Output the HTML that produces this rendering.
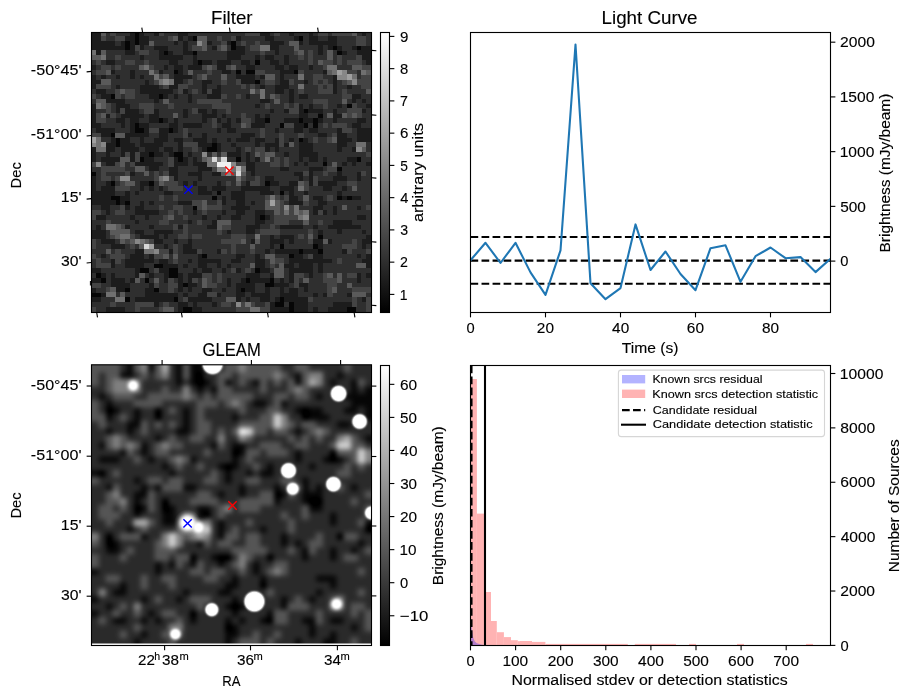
<!DOCTYPE html>
<html><head><meta charset="utf-8"><style>
html,body{margin:0;padding:0;background:#fff;width:913px;height:699px;overflow:hidden}
svg{display:block;will-change:transform}
text{font-family:"Liberation Sans",sans-serif;stroke:#000;stroke-width:0.12px}
</style></head><body>
<svg width="913" height="699" viewBox="0 0 913 699">
<rect width="913" height="699" fill="#fff"/>
<g shape-rendering="crispEdges"><path fill="rgb(6,6,6)" d="M134.57 32.3h5.22v3.8h-5.22zM134.57 35.7h5.22v5.24h-5.22zM192.42 35.7h5.22v5.24h-5.22zM298.48 35.7h5.22v5.24h-5.22zM124.93 40.54h5.22v5.24h-5.22zM134.57 40.54h5.22v5.24h-5.22zM230.99 40.54h5.22v5.24h-5.22zM124.93 45.38h5.22v5.24h-5.22zM230.99 45.38h5.22v5.24h-5.22zM332.23 45.38h5.22v5.24h-5.22zM356.33 45.38h5.22v5.24h-5.22zM163.49 50.22h5.22v5.24h-5.22zM192.42 50.22h5.22v5.24h-5.22zM337.05 50.22h5.22v5.24h-5.22zM197.24 59.9h5.22v5.24h-5.22zM255.09 59.9h5.22v5.24h-5.22zM173.14 69.58h5.22v5.24h-5.22zM235.81 69.58h5.22v5.24h-5.22zM245.45 69.58h5.22v5.24h-5.22zM250.27 69.58h5.22v5.24h-5.22zM293.66 69.58h5.22v5.24h-5.22zM255.09 79.26h5.22v5.24h-5.22zM110.46 93.78h5.22v5.24h-5.22zM158.67 93.78h5.22v5.24h-5.22zM346.69 103.46h5.22v5.24h-5.22zM303.3 108.3h5.22v5.24h-5.22zM317.77 113.14h5.22v5.24h-5.22zM158.67 117.98h5.22v5.24h-5.22zM264.74 117.98h5.22v5.24h-5.22zM298.48 117.98h5.22v5.24h-5.22zM312.94 117.98h5.22v5.24h-5.22zM134.57 122.82h5.22v5.24h-5.22zM279.2 122.82h5.22v5.24h-5.22zM303.3 122.82h5.22v5.24h-5.22zM312.94 122.82h5.22v5.24h-5.22zM134.57 127.66h5.22v5.24h-5.22zM139.39 127.66h5.22v5.24h-5.22zM168.31 127.66h5.22v5.24h-5.22zM110.46 132.5h5.22v5.24h-5.22zM115.28 137.34h5.22v5.24h-5.22zM298.48 137.34h5.22v5.24h-5.22zM115.28 142.18h5.22v5.24h-5.22zM211.7 142.18h5.22v5.24h-5.22zM206.88 147.02h5.22v5.24h-5.22zM211.7 147.02h5.22v5.24h-5.22zM149.03 151.86h5.22v5.24h-5.22zM173.14 151.86h5.22v5.24h-5.22zM177.96 151.86h5.22v5.24h-5.22zM139.39 156.7h5.22v5.24h-5.22zM177.96 156.7h5.22v5.24h-5.22zM235.81 156.7h5.22v5.24h-5.22zM356.33 156.7h5.22v5.24h-5.22zM322.59 161.54h5.22v5.24h-5.22zM337.05 166.38h5.22v5.24h-5.22zM91.3 171.22h5.1v5.24h-5.1zM110.46 180.9h5.22v5.24h-5.22zM149.03 180.9h5.22v5.24h-5.22zM264.74 180.9h5.22v5.24h-5.22zM216.52 190.58h5.22v5.24h-5.22zM279.2 190.58h5.22v5.24h-5.22zM110.46 195.42h5.22v5.24h-5.22zM115.28 195.42h5.22v5.24h-5.22zM211.7 195.42h5.22v5.24h-5.22zM337.05 195.42h5.22v5.24h-5.22zM346.69 195.42h5.22v5.24h-5.22zM115.28 200.26h5.22v5.24h-5.22zM124.93 200.26h5.22v5.24h-5.22zM192.42 205.1h5.22v5.24h-5.22zM259.91 214.78h5.22v5.24h-5.22zM317.77 234.14h5.22v5.24h-5.22zM279.2 243.82h5.22v5.24h-5.22zM312.94 243.82h5.22v5.24h-5.22zM298.48 248.66h5.22v5.24h-5.22zM317.77 248.66h5.22v5.24h-5.22zM202.06 253.5h5.22v5.24h-5.22zM288.84 253.5h5.22v5.24h-5.22zM153.85 263.18h5.22v5.24h-5.22zM158.67 263.18h5.22v5.24h-5.22zM139.39 268.02h5.22v5.24h-5.22zM144.21 268.02h5.22v5.24h-5.22zM168.31 268.02h5.22v5.24h-5.22zM173.14 268.02h5.22v5.24h-5.22zM255.09 268.02h5.22v5.24h-5.22zM96 272.86h5.22v5.24h-5.22zM168.31 272.86h5.22v5.24h-5.22zM173.14 272.86h5.22v5.24h-5.22zM100.82 277.7h5.22v5.24h-5.22zM144.21 277.7h5.22v5.24h-5.22zM245.45 277.7h5.22v5.24h-5.22zM269.56 277.7h5.22v5.24h-5.22zM182.78 282.54h5.22v5.24h-5.22zM264.74 282.54h5.22v5.24h-5.22zM269.56 282.54h5.22v5.24h-5.22zM124.93 287.38h5.22v5.24h-5.22zM153.85 287.38h5.22v5.24h-5.22zM240.63 287.38h5.22v5.24h-5.22zM91.3 292.22h5.1v5.24h-5.1zM96 292.22h5.22v5.24h-5.22zM124.93 297.06h5.22v5.24h-5.22zM173.14 297.06h5.22v5.24h-5.22zM279.2 297.06h5.22v5.24h-5.22zM274.38 301.9h5.22v5.24h-5.22zM279.2 301.9h5.22v5.24h-5.22zM288.84 301.9h5.22v5.24h-5.22zM182.78 306.74h5.22v5.24h-5.22zM187.6 306.74h5.22v5.24h-5.22zM288.84 306.74h5.22v5.24h-5.22zM346.69 306.74h5.22v5.24h-5.22zM351.51 306.74h5.22v5.24h-5.22z"/><path fill="rgb(28,28,28)" d="M91.3 32.3h5.1v3.8h-5.1zM96 32.3h5.22v3.8h-5.22zM129.75 32.3h5.22v3.8h-5.22zM139.39 32.3h5.22v3.8h-5.22zM153.85 32.3h5.22v3.8h-5.22zM177.96 32.3h5.22v3.8h-5.22zM182.78 32.3h5.22v3.8h-5.22zM259.91 32.3h5.22v3.8h-5.22zM264.74 32.3h5.22v3.8h-5.22zM288.84 32.3h5.22v3.8h-5.22zM308.12 32.3h5.22v3.8h-5.22zM361.15 32.3h5.22v3.8h-5.22zM91.3 35.7h5.1v5.24h-5.1zM96 35.7h5.22v5.24h-5.22zM124.93 35.7h5.22v5.24h-5.22zM129.75 35.7h5.22v5.24h-5.22zM139.39 35.7h5.22v5.24h-5.22zM144.21 35.7h5.22v5.24h-5.22zM177.96 35.7h5.22v5.24h-5.22zM187.6 35.7h5.22v5.24h-5.22zM235.81 35.7h5.22v5.24h-5.22zM264.74 35.7h5.22v5.24h-5.22zM269.56 35.7h5.22v5.24h-5.22zM293.66 35.7h5.22v5.24h-5.22zM308.12 35.7h5.22v5.24h-5.22zM312.94 35.7h5.22v5.24h-5.22zM327.41 35.7h5.22v5.24h-5.22zM332.23 35.7h5.22v5.24h-5.22zM91.3 40.54h5.1v5.24h-5.1zM96 40.54h5.22v5.24h-5.22zM100.82 40.54h5.22v5.24h-5.22zM105.64 40.54h5.22v5.24h-5.22zM110.46 40.54h5.22v5.24h-5.22zM120.1 40.54h5.22v5.24h-5.22zM129.75 40.54h5.22v5.24h-5.22zM139.39 40.54h5.22v5.24h-5.22zM144.21 40.54h5.22v5.24h-5.22zM173.14 40.54h5.22v5.24h-5.22zM182.78 40.54h5.22v5.24h-5.22zM206.88 40.54h5.22v5.24h-5.22zM226.17 40.54h5.22v5.24h-5.22zM269.56 40.54h5.22v5.24h-5.22zM274.38 40.54h5.22v5.24h-5.22zM279.2 40.54h5.22v5.24h-5.22zM298.48 40.54h5.22v5.24h-5.22zM308.12 40.54h5.22v5.24h-5.22zM312.94 40.54h5.22v5.24h-5.22zM317.77 40.54h5.22v5.24h-5.22zM322.59 40.54h5.22v5.24h-5.22zM327.41 40.54h5.22v5.24h-5.22zM332.23 40.54h5.22v5.24h-5.22zM91.3 45.38h5.1v5.24h-5.1zM96 45.38h5.22v5.24h-5.22zM100.82 45.38h5.22v5.24h-5.22zM105.64 45.38h5.22v5.24h-5.22zM110.46 45.38h5.22v5.24h-5.22zM115.28 45.38h5.22v5.24h-5.22zM120.1 45.38h5.22v5.24h-5.22zM129.75 45.38h5.22v5.24h-5.22zM139.39 45.38h5.22v5.24h-5.22zM153.85 45.38h5.22v5.24h-5.22zM158.67 45.38h5.22v5.24h-5.22zM163.49 45.38h5.22v5.24h-5.22zM182.78 45.38h5.22v5.24h-5.22zM211.7 45.38h5.22v5.24h-5.22zM235.81 45.38h5.22v5.24h-5.22zM240.63 45.38h5.22v5.24h-5.22zM269.56 45.38h5.22v5.24h-5.22zM274.38 45.38h5.22v5.24h-5.22zM317.77 45.38h5.22v5.24h-5.22zM327.41 45.38h5.22v5.24h-5.22zM337.05 45.38h5.22v5.24h-5.22zM351.51 45.38h5.22v5.24h-5.22zM361.15 45.38h5.22v5.24h-5.22zM365.98 45.38h5.92v5.24h-5.92zM96 50.22h5.22v5.24h-5.22zM124.93 50.22h5.22v5.24h-5.22zM129.75 50.22h5.22v5.24h-5.22zM158.67 50.22h5.22v5.24h-5.22zM168.31 50.22h5.22v5.24h-5.22zM182.78 50.22h5.22v5.24h-5.22zM187.6 50.22h5.22v5.24h-5.22zM226.17 50.22h5.22v5.24h-5.22zM230.99 50.22h5.22v5.24h-5.22zM235.81 50.22h5.22v5.24h-5.22zM240.63 50.22h5.22v5.24h-5.22zM274.38 50.22h5.22v5.24h-5.22zM317.77 50.22h5.22v5.24h-5.22zM341.87 50.22h5.22v5.24h-5.22zM356.33 50.22h5.22v5.24h-5.22zM361.15 50.22h5.22v5.24h-5.22zM365.98 50.22h5.92v5.24h-5.92zM139.39 55.06h5.22v5.24h-5.22zM158.67 55.06h5.22v5.24h-5.22zM163.49 55.06h5.22v5.24h-5.22zM168.31 55.06h5.22v5.24h-5.22zM173.14 55.06h5.22v5.24h-5.22zM177.96 55.06h5.22v5.24h-5.22zM192.42 55.06h5.22v5.24h-5.22zM226.17 55.06h5.22v5.24h-5.22zM230.99 55.06h5.22v5.24h-5.22zM235.81 55.06h5.22v5.24h-5.22zM255.09 55.06h5.22v5.24h-5.22zM264.74 55.06h5.22v5.24h-5.22zM269.56 55.06h5.22v5.24h-5.22zM284.02 55.06h5.22v5.24h-5.22zM361.15 55.06h5.22v5.24h-5.22zM365.98 55.06h5.92v5.24h-5.92zM105.64 59.9h5.22v5.24h-5.22zM110.46 59.9h5.22v5.24h-5.22zM168.31 59.9h5.22v5.24h-5.22zM173.14 59.9h5.22v5.24h-5.22zM192.42 59.9h5.22v5.24h-5.22zM202.06 59.9h5.22v5.24h-5.22zM206.88 59.9h5.22v5.24h-5.22zM216.52 59.9h5.22v5.24h-5.22zM221.35 59.9h5.22v5.24h-5.22zM226.17 59.9h5.22v5.24h-5.22zM240.63 59.9h5.22v5.24h-5.22zM245.45 59.9h5.22v5.24h-5.22zM269.56 59.9h5.22v5.24h-5.22zM274.38 59.9h5.22v5.24h-5.22zM284.02 59.9h5.22v5.24h-5.22zM365.98 59.9h5.92v5.24h-5.92zM91.3 64.74h5.1v5.24h-5.1zM163.49 64.74h5.22v5.24h-5.22zM173.14 64.74h5.22v5.24h-5.22zM177.96 64.74h5.22v5.24h-5.22zM187.6 64.74h5.22v5.24h-5.22zM192.42 64.74h5.22v5.24h-5.22zM197.24 64.74h5.22v5.24h-5.22zM216.52 64.74h5.22v5.24h-5.22zM221.35 64.74h5.22v5.24h-5.22zM245.45 64.74h5.22v5.24h-5.22zM250.27 64.74h5.22v5.24h-5.22zM274.38 64.74h5.22v5.24h-5.22zM279.2 64.74h5.22v5.24h-5.22zM288.84 64.74h5.22v5.24h-5.22zM293.66 64.74h5.22v5.24h-5.22zM308.12 64.74h5.22v5.24h-5.22zM110.46 69.58h5.22v5.24h-5.22zM129.75 69.58h5.22v5.24h-5.22zM158.67 69.58h5.22v5.24h-5.22zM177.96 69.58h5.22v5.24h-5.22zM221.35 69.58h5.22v5.24h-5.22zM226.17 69.58h5.22v5.24h-5.22zM279.2 69.58h5.22v5.24h-5.22zM284.02 69.58h5.22v5.24h-5.22zM288.84 69.58h5.22v5.24h-5.22zM322.59 69.58h5.22v5.24h-5.22zM91.3 74.42h5.1v5.24h-5.1zM100.82 74.42h5.22v5.24h-5.22zM115.28 74.42h5.22v5.24h-5.22zM129.75 74.42h5.22v5.24h-5.22zM139.39 74.42h5.22v5.24h-5.22zM173.14 74.42h5.22v5.24h-5.22zM177.96 74.42h5.22v5.24h-5.22zM182.78 74.42h5.22v5.24h-5.22zM187.6 74.42h5.22v5.24h-5.22zM235.81 74.42h5.22v5.24h-5.22zM240.63 74.42h5.22v5.24h-5.22zM245.45 74.42h5.22v5.24h-5.22zM250.27 74.42h5.22v5.24h-5.22zM259.91 74.42h5.22v5.24h-5.22zM279.2 74.42h5.22v5.24h-5.22zM332.23 74.42h5.22v5.24h-5.22zM91.3 79.26h5.1v5.24h-5.1zM96 79.26h5.22v5.24h-5.22zM144.21 79.26h5.22v5.24h-5.22zM173.14 79.26h5.22v5.24h-5.22zM177.96 79.26h5.22v5.24h-5.22zM202.06 79.26h5.22v5.24h-5.22zM206.88 79.26h5.22v5.24h-5.22zM240.63 79.26h5.22v5.24h-5.22zM245.45 79.26h5.22v5.24h-5.22zM250.27 79.26h5.22v5.24h-5.22zM279.2 79.26h5.22v5.24h-5.22zM284.02 79.26h5.22v5.24h-5.22zM303.3 79.26h5.22v5.24h-5.22zM332.23 79.26h5.22v5.24h-5.22zM91.3 84.1h5.1v5.24h-5.1zM115.28 84.1h5.22v5.24h-5.22zM139.39 84.1h5.22v5.24h-5.22zM144.21 84.1h5.22v5.24h-5.22zM149.03 84.1h5.22v5.24h-5.22zM153.85 84.1h5.22v5.24h-5.22zM168.31 84.1h5.22v5.24h-5.22zM173.14 84.1h5.22v5.24h-5.22zM202.06 84.1h5.22v5.24h-5.22zM216.52 84.1h5.22v5.24h-5.22zM259.91 84.1h5.22v5.24h-5.22zM274.38 84.1h5.22v5.24h-5.22zM279.2 84.1h5.22v5.24h-5.22zM284.02 84.1h5.22v5.24h-5.22zM332.23 84.1h5.22v5.24h-5.22zM346.69 84.1h5.22v5.24h-5.22zM96 88.94h5.22v5.24h-5.22zM100.82 88.94h5.22v5.24h-5.22zM139.39 88.94h5.22v5.24h-5.22zM144.21 88.94h5.22v5.24h-5.22zM149.03 88.94h5.22v5.24h-5.22zM153.85 88.94h5.22v5.24h-5.22zM158.67 88.94h5.22v5.24h-5.22zM163.49 88.94h5.22v5.24h-5.22zM168.31 88.94h5.22v5.24h-5.22zM182.78 88.94h5.22v5.24h-5.22zM202.06 88.94h5.22v5.24h-5.22zM211.7 88.94h5.22v5.24h-5.22zM216.52 88.94h5.22v5.24h-5.22zM274.38 88.94h5.22v5.24h-5.22zM279.2 88.94h5.22v5.24h-5.22zM288.84 88.94h5.22v5.24h-5.22zM332.23 88.94h5.22v5.24h-5.22zM100.82 93.78h5.22v5.24h-5.22zM105.64 93.78h5.22v5.24h-5.22zM149.03 93.78h5.22v5.24h-5.22zM153.85 93.78h5.22v5.24h-5.22zM163.49 93.78h5.22v5.24h-5.22zM173.14 93.78h5.22v5.24h-5.22zM187.6 93.78h5.22v5.24h-5.22zM206.88 93.78h5.22v5.24h-5.22zM211.7 93.78h5.22v5.24h-5.22zM216.52 93.78h5.22v5.24h-5.22zM245.45 93.78h5.22v5.24h-5.22zM288.84 93.78h5.22v5.24h-5.22zM298.48 93.78h5.22v5.24h-5.22zM303.3 93.78h5.22v5.24h-5.22zM351.51 93.78h5.22v5.24h-5.22zM356.33 93.78h5.22v5.24h-5.22zM105.64 98.62h5.22v5.24h-5.22zM110.46 98.62h5.22v5.24h-5.22zM115.28 98.62h5.22v5.24h-5.22zM120.1 98.62h5.22v5.24h-5.22zM153.85 98.62h5.22v5.24h-5.22zM187.6 98.62h5.22v5.24h-5.22zM259.91 98.62h5.22v5.24h-5.22zM264.74 98.62h5.22v5.24h-5.22zM288.84 98.62h5.22v5.24h-5.22zM351.51 98.62h5.22v5.24h-5.22zM361.15 98.62h5.22v5.24h-5.22zM91.3 103.46h5.1v5.24h-5.1zM115.28 103.46h5.22v5.24h-5.22zM120.1 103.46h5.22v5.24h-5.22zM124.93 103.46h5.22v5.24h-5.22zM255.09 103.46h5.22v5.24h-5.22zM298.48 103.46h5.22v5.24h-5.22zM308.12 103.46h5.22v5.24h-5.22zM337.05 103.46h5.22v5.24h-5.22zM365.98 103.46h5.92v5.24h-5.92zM91.3 108.3h5.1v5.24h-5.1zM115.28 108.3h5.22v5.24h-5.22zM124.93 108.3h5.22v5.24h-5.22zM129.75 108.3h5.22v5.24h-5.22zM134.57 108.3h5.22v5.24h-5.22zM153.85 108.3h5.22v5.24h-5.22zM182.78 108.3h5.22v5.24h-5.22zM197.24 108.3h5.22v5.24h-5.22zM202.06 108.3h5.22v5.24h-5.22zM211.7 108.3h5.22v5.24h-5.22zM269.56 108.3h5.22v5.24h-5.22zM284.02 108.3h5.22v5.24h-5.22zM298.48 108.3h5.22v5.24h-5.22zM308.12 108.3h5.22v5.24h-5.22zM312.94 108.3h5.22v5.24h-5.22zM317.77 108.3h5.22v5.24h-5.22zM332.23 108.3h5.22v5.24h-5.22zM361.15 108.3h5.22v5.24h-5.22zM91.3 113.14h5.1v5.24h-5.1zM105.64 113.14h5.22v5.24h-5.22zM120.1 113.14h5.22v5.24h-5.22zM124.93 113.14h5.22v5.24h-5.22zM129.75 113.14h5.22v5.24h-5.22zM134.57 113.14h5.22v5.24h-5.22zM139.39 113.14h5.22v5.24h-5.22zM149.03 113.14h5.22v5.24h-5.22zM153.85 113.14h5.22v5.24h-5.22zM182.78 113.14h5.22v5.24h-5.22zM202.06 113.14h5.22v5.24h-5.22zM206.88 113.14h5.22v5.24h-5.22zM211.7 113.14h5.22v5.24h-5.22zM221.35 113.14h5.22v5.24h-5.22zM255.09 113.14h5.22v5.24h-5.22zM264.74 113.14h5.22v5.24h-5.22zM298.48 113.14h5.22v5.24h-5.22zM303.3 113.14h5.22v5.24h-5.22zM332.23 113.14h5.22v5.24h-5.22zM337.05 113.14h5.22v5.24h-5.22zM91.3 117.98h5.1v5.24h-5.1zM115.28 117.98h5.22v5.24h-5.22zM120.1 117.98h5.22v5.24h-5.22zM129.75 117.98h5.22v5.24h-5.22zM134.57 117.98h5.22v5.24h-5.22zM149.03 117.98h5.22v5.24h-5.22zM153.85 117.98h5.22v5.24h-5.22zM163.49 117.98h5.22v5.24h-5.22zM173.14 117.98h5.22v5.24h-5.22zM202.06 117.98h5.22v5.24h-5.22zM216.52 117.98h5.22v5.24h-5.22zM226.17 117.98h5.22v5.24h-5.22zM235.81 117.98h5.22v5.24h-5.22zM255.09 117.98h5.22v5.24h-5.22zM259.91 117.98h5.22v5.24h-5.22zM284.02 117.98h5.22v5.24h-5.22zM288.84 117.98h5.22v5.24h-5.22zM293.66 117.98h5.22v5.24h-5.22zM303.3 117.98h5.22v5.24h-5.22zM308.12 117.98h5.22v5.24h-5.22zM317.77 117.98h5.22v5.24h-5.22zM332.23 117.98h5.22v5.24h-5.22zM356.33 117.98h5.22v5.24h-5.22zM361.15 117.98h5.22v5.24h-5.22zM91.3 122.82h5.1v5.24h-5.1zM96 122.82h5.22v5.24h-5.22zM120.1 122.82h5.22v5.24h-5.22zM129.75 122.82h5.22v5.24h-5.22zM139.39 122.82h5.22v5.24h-5.22zM144.21 122.82h5.22v5.24h-5.22zM168.31 122.82h5.22v5.24h-5.22zM173.14 122.82h5.22v5.24h-5.22zM182.78 122.82h5.22v5.24h-5.22zM187.6 122.82h5.22v5.24h-5.22zM192.42 122.82h5.22v5.24h-5.22zM197.24 122.82h5.22v5.24h-5.22zM221.35 122.82h5.22v5.24h-5.22zM226.17 122.82h5.22v5.24h-5.22zM250.27 122.82h5.22v5.24h-5.22zM255.09 122.82h5.22v5.24h-5.22zM259.91 122.82h5.22v5.24h-5.22zM293.66 122.82h5.22v5.24h-5.22zM298.48 122.82h5.22v5.24h-5.22zM351.51 122.82h5.22v5.24h-5.22zM356.33 122.82h5.22v5.24h-5.22zM96 127.66h5.22v5.24h-5.22zM100.82 127.66h5.22v5.24h-5.22zM105.64 127.66h5.22v5.24h-5.22zM110.46 127.66h5.22v5.24h-5.22zM129.75 127.66h5.22v5.24h-5.22zM144.21 127.66h5.22v5.24h-5.22zM158.67 127.66h5.22v5.24h-5.22zM163.49 127.66h5.22v5.24h-5.22zM173.14 127.66h5.22v5.24h-5.22zM216.52 127.66h5.22v5.24h-5.22zM226.17 127.66h5.22v5.24h-5.22zM230.99 127.66h5.22v5.24h-5.22zM274.38 127.66h5.22v5.24h-5.22zM293.66 127.66h5.22v5.24h-5.22zM298.48 127.66h5.22v5.24h-5.22zM308.12 127.66h5.22v5.24h-5.22zM312.94 127.66h5.22v5.24h-5.22zM337.05 127.66h5.22v5.24h-5.22zM356.33 127.66h5.22v5.24h-5.22zM361.15 127.66h5.22v5.24h-5.22zM365.98 127.66h5.92v5.24h-5.92zM100.82 132.5h5.22v5.24h-5.22zM105.64 132.5h5.22v5.24h-5.22zM124.93 132.5h5.22v5.24h-5.22zM129.75 132.5h5.22v5.24h-5.22zM134.57 132.5h5.22v5.24h-5.22zM139.39 132.5h5.22v5.24h-5.22zM144.21 132.5h5.22v5.24h-5.22zM158.67 132.5h5.22v5.24h-5.22zM163.49 132.5h5.22v5.24h-5.22zM187.6 132.5h5.22v5.24h-5.22zM202.06 132.5h5.22v5.24h-5.22zM240.63 132.5h5.22v5.24h-5.22zM245.45 132.5h5.22v5.24h-5.22zM250.27 132.5h5.22v5.24h-5.22zM317.77 132.5h5.22v5.24h-5.22zM322.59 132.5h5.22v5.24h-5.22zM337.05 132.5h5.22v5.24h-5.22zM341.87 132.5h5.22v5.24h-5.22zM356.33 132.5h5.22v5.24h-5.22zM361.15 132.5h5.22v5.24h-5.22zM365.98 132.5h5.92v5.24h-5.92zM110.46 137.34h5.22v5.24h-5.22zM120.1 137.34h5.22v5.24h-5.22zM124.93 137.34h5.22v5.24h-5.22zM139.39 137.34h5.22v5.24h-5.22zM153.85 137.34h5.22v5.24h-5.22zM158.67 137.34h5.22v5.24h-5.22zM163.49 137.34h5.22v5.24h-5.22zM173.14 137.34h5.22v5.24h-5.22zM177.96 137.34h5.22v5.24h-5.22zM192.42 137.34h5.22v5.24h-5.22zM197.24 137.34h5.22v5.24h-5.22zM202.06 137.34h5.22v5.24h-5.22zM211.7 137.34h5.22v5.24h-5.22zM226.17 137.34h5.22v5.24h-5.22zM235.81 137.34h5.22v5.24h-5.22zM240.63 137.34h5.22v5.24h-5.22zM245.45 137.34h5.22v5.24h-5.22zM255.09 137.34h5.22v5.24h-5.22zM259.91 137.34h5.22v5.24h-5.22zM274.38 137.34h5.22v5.24h-5.22zM288.84 137.34h5.22v5.24h-5.22zM303.3 137.34h5.22v5.24h-5.22zM337.05 137.34h5.22v5.24h-5.22zM341.87 137.34h5.22v5.24h-5.22zM346.69 137.34h5.22v5.24h-5.22zM356.33 137.34h5.22v5.24h-5.22zM361.15 137.34h5.22v5.24h-5.22zM365.98 137.34h5.92v5.24h-5.92zM105.64 142.18h5.22v5.24h-5.22zM110.46 142.18h5.22v5.24h-5.22zM120.1 142.18h5.22v5.24h-5.22zM124.93 142.18h5.22v5.24h-5.22zM129.75 142.18h5.22v5.24h-5.22zM139.39 142.18h5.22v5.24h-5.22zM144.21 142.18h5.22v5.24h-5.22zM149.03 142.18h5.22v5.24h-5.22zM153.85 142.18h5.22v5.24h-5.22zM158.67 142.18h5.22v5.24h-5.22zM177.96 142.18h5.22v5.24h-5.22zM197.24 142.18h5.22v5.24h-5.22zM202.06 142.18h5.22v5.24h-5.22zM206.88 142.18h5.22v5.24h-5.22zM216.52 142.18h5.22v5.24h-5.22zM230.99 142.18h5.22v5.24h-5.22zM255.09 142.18h5.22v5.24h-5.22zM264.74 142.18h5.22v5.24h-5.22zM269.56 142.18h5.22v5.24h-5.22zM274.38 142.18h5.22v5.24h-5.22zM284.02 142.18h5.22v5.24h-5.22zM298.48 142.18h5.22v5.24h-5.22zM303.3 142.18h5.22v5.24h-5.22zM308.12 142.18h5.22v5.24h-5.22zM337.05 142.18h5.22v5.24h-5.22zM341.87 142.18h5.22v5.24h-5.22zM91.3 147.02h5.1v5.24h-5.1zM105.64 147.02h5.22v5.24h-5.22zM110.46 147.02h5.22v5.24h-5.22zM120.1 147.02h5.22v5.24h-5.22zM124.93 147.02h5.22v5.24h-5.22zM129.75 147.02h5.22v5.24h-5.22zM134.57 147.02h5.22v5.24h-5.22zM144.21 147.02h5.22v5.24h-5.22zM149.03 147.02h5.22v5.24h-5.22zM153.85 147.02h5.22v5.24h-5.22zM163.49 147.02h5.22v5.24h-5.22zM168.31 147.02h5.22v5.24h-5.22zM177.96 147.02h5.22v5.24h-5.22zM202.06 147.02h5.22v5.24h-5.22zM216.52 147.02h5.22v5.24h-5.22zM235.81 147.02h5.22v5.24h-5.22zM264.74 147.02h5.22v5.24h-5.22zM274.38 147.02h5.22v5.24h-5.22zM298.48 147.02h5.22v5.24h-5.22zM303.3 147.02h5.22v5.24h-5.22zM308.12 147.02h5.22v5.24h-5.22zM337.05 147.02h5.22v5.24h-5.22zM351.51 147.02h5.22v5.24h-5.22zM91.3 151.86h5.1v5.24h-5.1zM105.64 151.86h5.22v5.24h-5.22zM120.1 151.86h5.22v5.24h-5.22zM129.75 151.86h5.22v5.24h-5.22zM139.39 151.86h5.22v5.24h-5.22zM144.21 151.86h5.22v5.24h-5.22zM153.85 151.86h5.22v5.24h-5.22zM158.67 151.86h5.22v5.24h-5.22zM168.31 151.86h5.22v5.24h-5.22zM187.6 151.86h5.22v5.24h-5.22zM226.17 151.86h5.22v5.24h-5.22zM230.99 151.86h5.22v5.24h-5.22zM235.81 151.86h5.22v5.24h-5.22zM245.45 151.86h5.22v5.24h-5.22zM284.02 151.86h5.22v5.24h-5.22zM298.48 151.86h5.22v5.24h-5.22zM303.3 151.86h5.22v5.24h-5.22zM308.12 151.86h5.22v5.24h-5.22zM312.94 151.86h5.22v5.24h-5.22zM91.3 156.7h5.1v5.24h-5.1zM100.82 156.7h5.22v5.24h-5.22zM105.64 156.7h5.22v5.24h-5.22zM110.46 156.7h5.22v5.24h-5.22zM115.28 156.7h5.22v5.24h-5.22zM129.75 156.7h5.22v5.24h-5.22zM144.21 156.7h5.22v5.24h-5.22zM149.03 156.7h5.22v5.24h-5.22zM173.14 156.7h5.22v5.24h-5.22zM182.78 156.7h5.22v5.24h-5.22zM192.42 156.7h5.22v5.24h-5.22zM245.45 156.7h5.22v5.24h-5.22zM255.09 156.7h5.22v5.24h-5.22zM298.48 156.7h5.22v5.24h-5.22zM308.12 156.7h5.22v5.24h-5.22zM312.94 156.7h5.22v5.24h-5.22zM322.59 156.7h5.22v5.24h-5.22zM346.69 156.7h5.22v5.24h-5.22zM351.51 156.7h5.22v5.24h-5.22zM105.64 161.54h5.22v5.24h-5.22zM110.46 161.54h5.22v5.24h-5.22zM134.57 161.54h5.22v5.24h-5.22zM139.39 161.54h5.22v5.24h-5.22zM144.21 161.54h5.22v5.24h-5.22zM149.03 161.54h5.22v5.24h-5.22zM153.85 161.54h5.22v5.24h-5.22zM158.67 161.54h5.22v5.24h-5.22zM173.14 161.54h5.22v5.24h-5.22zM177.96 161.54h5.22v5.24h-5.22zM182.78 161.54h5.22v5.24h-5.22zM192.42 161.54h5.22v5.24h-5.22zM197.24 161.54h5.22v5.24h-5.22zM202.06 161.54h5.22v5.24h-5.22zM245.45 161.54h5.22v5.24h-5.22zM250.27 161.54h5.22v5.24h-5.22zM293.66 161.54h5.22v5.24h-5.22zM303.3 161.54h5.22v5.24h-5.22zM341.87 161.54h5.22v5.24h-5.22zM351.51 161.54h5.22v5.24h-5.22zM365.98 161.54h5.92v5.24h-5.92zM149.03 166.38h5.22v5.24h-5.22zM153.85 166.38h5.22v5.24h-5.22zM168.31 166.38h5.22v5.24h-5.22zM173.14 166.38h5.22v5.24h-5.22zM197.24 166.38h5.22v5.24h-5.22zM202.06 166.38h5.22v5.24h-5.22zM206.88 166.38h5.22v5.24h-5.22zM245.45 166.38h5.22v5.24h-5.22zM250.27 166.38h5.22v5.24h-5.22zM279.2 166.38h5.22v5.24h-5.22zM284.02 166.38h5.22v5.24h-5.22zM308.12 166.38h5.22v5.24h-5.22zM312.94 166.38h5.22v5.24h-5.22zM317.77 166.38h5.22v5.24h-5.22zM129.75 171.22h5.22v5.24h-5.22zM168.31 171.22h5.22v5.24h-5.22zM173.14 171.22h5.22v5.24h-5.22zM187.6 171.22h5.22v5.24h-5.22zM192.42 171.22h5.22v5.24h-5.22zM197.24 171.22h5.22v5.24h-5.22zM211.7 171.22h5.22v5.24h-5.22zM216.52 171.22h5.22v5.24h-5.22zM250.27 171.22h5.22v5.24h-5.22zM293.66 171.22h5.22v5.24h-5.22zM298.48 171.22h5.22v5.24h-5.22zM308.12 171.22h5.22v5.24h-5.22zM337.05 171.22h5.22v5.24h-5.22zM356.33 171.22h5.22v5.24h-5.22zM91.3 176.06h5.1v5.24h-5.1zM173.14 176.06h5.22v5.24h-5.22zM197.24 176.06h5.22v5.24h-5.22zM264.74 176.06h5.22v5.24h-5.22zM269.56 176.06h5.22v5.24h-5.22zM298.48 176.06h5.22v5.24h-5.22zM308.12 176.06h5.22v5.24h-5.22zM332.23 176.06h5.22v5.24h-5.22zM337.05 176.06h5.22v5.24h-5.22zM341.87 176.06h5.22v5.24h-5.22zM356.33 176.06h5.22v5.24h-5.22zM91.3 180.9h5.1v5.24h-5.1zM105.64 180.9h5.22v5.24h-5.22zM139.39 180.9h5.22v5.24h-5.22zM144.21 180.9h5.22v5.24h-5.22zM182.78 180.9h5.22v5.24h-5.22zM192.42 180.9h5.22v5.24h-5.22zM216.52 180.9h5.22v5.24h-5.22zM245.45 180.9h5.22v5.24h-5.22zM269.56 180.9h5.22v5.24h-5.22zM274.38 180.9h5.22v5.24h-5.22zM288.84 180.9h5.22v5.24h-5.22zM293.66 180.9h5.22v5.24h-5.22zM308.12 180.9h5.22v5.24h-5.22zM317.77 180.9h5.22v5.24h-5.22zM322.59 180.9h5.22v5.24h-5.22zM327.41 180.9h5.22v5.24h-5.22zM332.23 180.9h5.22v5.24h-5.22zM91.3 185.74h5.1v5.24h-5.1zM100.82 185.74h5.22v5.24h-5.22zM105.64 185.74h5.22v5.24h-5.22zM110.46 185.74h5.22v5.24h-5.22zM139.39 185.74h5.22v5.24h-5.22zM149.03 185.74h5.22v5.24h-5.22zM158.67 185.74h5.22v5.24h-5.22zM197.24 185.74h5.22v5.24h-5.22zM202.06 185.74h5.22v5.24h-5.22zM211.7 185.74h5.22v5.24h-5.22zM216.52 185.74h5.22v5.24h-5.22zM221.35 185.74h5.22v5.24h-5.22zM240.63 185.74h5.22v5.24h-5.22zM245.45 185.74h5.22v5.24h-5.22zM250.27 185.74h5.22v5.24h-5.22zM255.09 185.74h5.22v5.24h-5.22zM259.91 185.74h5.22v5.24h-5.22zM264.74 185.74h5.22v5.24h-5.22zM279.2 185.74h5.22v5.24h-5.22zM284.02 185.74h5.22v5.24h-5.22zM288.84 185.74h5.22v5.24h-5.22zM322.59 185.74h5.22v5.24h-5.22zM327.41 185.74h5.22v5.24h-5.22zM341.87 185.74h5.22v5.24h-5.22zM91.3 190.58h5.1v5.24h-5.1zM96 190.58h5.22v5.24h-5.22zM100.82 190.58h5.22v5.24h-5.22zM105.64 190.58h5.22v5.24h-5.22zM110.46 190.58h5.22v5.24h-5.22zM124.93 190.58h5.22v5.24h-5.22zM134.57 190.58h5.22v5.24h-5.22zM163.49 190.58h5.22v5.24h-5.22zM168.31 190.58h5.22v5.24h-5.22zM197.24 190.58h5.22v5.24h-5.22zM202.06 190.58h5.22v5.24h-5.22zM206.88 190.58h5.22v5.24h-5.22zM230.99 190.58h5.22v5.24h-5.22zM235.81 190.58h5.22v5.24h-5.22zM240.63 190.58h5.22v5.24h-5.22zM259.91 190.58h5.22v5.24h-5.22zM264.74 190.58h5.22v5.24h-5.22zM269.56 190.58h5.22v5.24h-5.22zM288.84 190.58h5.22v5.24h-5.22zM303.3 190.58h5.22v5.24h-5.22zM337.05 190.58h5.22v5.24h-5.22zM91.3 195.42h5.1v5.24h-5.1zM96 195.42h5.22v5.24h-5.22zM100.82 195.42h5.22v5.24h-5.22zM105.64 195.42h5.22v5.24h-5.22zM120.1 195.42h5.22v5.24h-5.22zM124.93 195.42h5.22v5.24h-5.22zM221.35 195.42h5.22v5.24h-5.22zM230.99 195.42h5.22v5.24h-5.22zM235.81 195.42h5.22v5.24h-5.22zM240.63 195.42h5.22v5.24h-5.22zM288.84 195.42h5.22v5.24h-5.22zM293.66 195.42h5.22v5.24h-5.22zM312.94 195.42h5.22v5.24h-5.22zM317.77 195.42h5.22v5.24h-5.22zM341.87 195.42h5.22v5.24h-5.22zM351.51 195.42h5.22v5.24h-5.22zM356.33 195.42h5.22v5.24h-5.22zM91.3 200.26h5.1v5.24h-5.1zM96 200.26h5.22v5.24h-5.22zM100.82 200.26h5.22v5.24h-5.22zM105.64 200.26h5.22v5.24h-5.22zM110.46 200.26h5.22v5.24h-5.22zM120.1 200.26h5.22v5.24h-5.22zM139.39 200.26h5.22v5.24h-5.22zM149.03 200.26h5.22v5.24h-5.22zM177.96 200.26h5.22v5.24h-5.22zM182.78 200.26h5.22v5.24h-5.22zM187.6 200.26h5.22v5.24h-5.22zM221.35 200.26h5.22v5.24h-5.22zM235.81 200.26h5.22v5.24h-5.22zM240.63 200.26h5.22v5.24h-5.22zM250.27 200.26h5.22v5.24h-5.22zM288.84 200.26h5.22v5.24h-5.22zM293.66 200.26h5.22v5.24h-5.22zM298.48 200.26h5.22v5.24h-5.22zM317.77 200.26h5.22v5.24h-5.22zM322.59 200.26h5.22v5.24h-5.22zM100.82 205.1h5.22v5.24h-5.22zM105.64 205.1h5.22v5.24h-5.22zM124.93 205.1h5.22v5.24h-5.22zM134.57 205.1h5.22v5.24h-5.22zM139.39 205.1h5.22v5.24h-5.22zM230.99 205.1h5.22v5.24h-5.22zM235.81 205.1h5.22v5.24h-5.22zM240.63 205.1h5.22v5.24h-5.22zM245.45 205.1h5.22v5.24h-5.22zM312.94 205.1h5.22v5.24h-5.22zM317.77 205.1h5.22v5.24h-5.22zM332.23 205.1h5.22v5.24h-5.22zM356.33 205.1h5.22v5.24h-5.22zM105.64 209.94h5.22v5.24h-5.22zM134.57 209.94h5.22v5.24h-5.22zM139.39 209.94h5.22v5.24h-5.22zM144.21 209.94h5.22v5.24h-5.22zM149.03 209.94h5.22v5.24h-5.22zM153.85 209.94h5.22v5.24h-5.22zM192.42 209.94h5.22v5.24h-5.22zM221.35 209.94h5.22v5.24h-5.22zM235.81 209.94h5.22v5.24h-5.22zM240.63 209.94h5.22v5.24h-5.22zM255.09 209.94h5.22v5.24h-5.22zM259.91 209.94h5.22v5.24h-5.22zM312.94 209.94h5.22v5.24h-5.22zM322.59 209.94h5.22v5.24h-5.22zM332.23 209.94h5.22v5.24h-5.22zM96 214.78h5.22v5.24h-5.22zM100.82 214.78h5.22v5.24h-5.22zM129.75 214.78h5.22v5.24h-5.22zM144.21 214.78h5.22v5.24h-5.22zM202.06 214.78h5.22v5.24h-5.22zM216.52 214.78h5.22v5.24h-5.22zM230.99 214.78h5.22v5.24h-5.22zM235.81 214.78h5.22v5.24h-5.22zM255.09 214.78h5.22v5.24h-5.22zM264.74 214.78h5.22v5.24h-5.22zM356.33 214.78h5.22v5.24h-5.22zM361.15 214.78h5.22v5.24h-5.22zM134.57 219.62h5.22v5.24h-5.22zM187.6 219.62h5.22v5.24h-5.22zM211.7 219.62h5.22v5.24h-5.22zM255.09 219.62h5.22v5.24h-5.22zM259.91 219.62h5.22v5.24h-5.22zM332.23 219.62h5.22v5.24h-5.22zM337.05 219.62h5.22v5.24h-5.22zM341.87 219.62h5.22v5.24h-5.22zM346.69 219.62h5.22v5.24h-5.22zM96 224.46h5.22v5.24h-5.22zM124.93 224.46h5.22v5.24h-5.22zM149.03 224.46h5.22v5.24h-5.22zM177.96 224.46h5.22v5.24h-5.22zM206.88 224.46h5.22v5.24h-5.22zM211.7 224.46h5.22v5.24h-5.22zM245.45 224.46h5.22v5.24h-5.22zM250.27 224.46h5.22v5.24h-5.22zM255.09 224.46h5.22v5.24h-5.22zM279.2 224.46h5.22v5.24h-5.22zM284.02 224.46h5.22v5.24h-5.22zM288.84 224.46h5.22v5.24h-5.22zM293.66 224.46h5.22v5.24h-5.22zM298.48 224.46h5.22v5.24h-5.22zM312.94 224.46h5.22v5.24h-5.22zM327.41 224.46h5.22v5.24h-5.22zM332.23 224.46h5.22v5.24h-5.22zM337.05 224.46h5.22v5.24h-5.22zM341.87 224.46h5.22v5.24h-5.22zM346.69 224.46h5.22v5.24h-5.22zM351.51 224.46h5.22v5.24h-5.22zM356.33 224.46h5.22v5.24h-5.22zM91.3 229.3h5.1v5.24h-5.1zM96 229.3h5.22v5.24h-5.22zM100.82 229.3h5.22v5.24h-5.22zM134.57 229.3h5.22v5.24h-5.22zM139.39 229.3h5.22v5.24h-5.22zM153.85 229.3h5.22v5.24h-5.22zM158.67 229.3h5.22v5.24h-5.22zM163.49 229.3h5.22v5.24h-5.22zM168.31 229.3h5.22v5.24h-5.22zM226.17 229.3h5.22v5.24h-5.22zM245.45 229.3h5.22v5.24h-5.22zM250.27 229.3h5.22v5.24h-5.22zM317.77 229.3h5.22v5.24h-5.22zM337.05 229.3h5.22v5.24h-5.22zM361.15 229.3h5.22v5.24h-5.22zM91.3 234.14h5.1v5.24h-5.1zM96 234.14h5.22v5.24h-5.22zM100.82 234.14h5.22v5.24h-5.22zM139.39 234.14h5.22v5.24h-5.22zM144.21 234.14h5.22v5.24h-5.22zM149.03 234.14h5.22v5.24h-5.22zM153.85 234.14h5.22v5.24h-5.22zM163.49 234.14h5.22v5.24h-5.22zM269.56 234.14h5.22v5.24h-5.22zM279.2 234.14h5.22v5.24h-5.22zM284.02 234.14h5.22v5.24h-5.22zM288.84 234.14h5.22v5.24h-5.22zM365.98 234.14h5.92v5.24h-5.92zM100.82 238.98h5.22v5.24h-5.22zM105.64 238.98h5.22v5.24h-5.22zM110.46 238.98h5.22v5.24h-5.22zM153.85 238.98h5.22v5.24h-5.22zM158.67 238.98h5.22v5.24h-5.22zM173.14 238.98h5.22v5.24h-5.22zM187.6 238.98h5.22v5.24h-5.22zM250.27 238.98h5.22v5.24h-5.22zM269.56 238.98h5.22v5.24h-5.22zM274.38 238.98h5.22v5.24h-5.22zM279.2 238.98h5.22v5.24h-5.22zM288.84 238.98h5.22v5.24h-5.22zM312.94 238.98h5.22v5.24h-5.22zM317.77 238.98h5.22v5.24h-5.22zM327.41 238.98h5.22v5.24h-5.22zM361.15 238.98h5.22v5.24h-5.22zM365.98 238.98h5.92v5.24h-5.92zM110.46 243.82h5.22v5.24h-5.22zM115.28 243.82h5.22v5.24h-5.22zM120.1 243.82h5.22v5.24h-5.22zM163.49 243.82h5.22v5.24h-5.22zM182.78 243.82h5.22v5.24h-5.22zM187.6 243.82h5.22v5.24h-5.22zM269.56 243.82h5.22v5.24h-5.22zM317.77 243.82h5.22v5.24h-5.22zM361.15 243.82h5.22v5.24h-5.22zM134.57 248.66h5.22v5.24h-5.22zM139.39 248.66h5.22v5.24h-5.22zM168.31 248.66h5.22v5.24h-5.22zM182.78 248.66h5.22v5.24h-5.22zM187.6 248.66h5.22v5.24h-5.22zM192.42 248.66h5.22v5.24h-5.22zM216.52 248.66h5.22v5.24h-5.22zM264.74 248.66h5.22v5.24h-5.22zM274.38 248.66h5.22v5.24h-5.22zM279.2 248.66h5.22v5.24h-5.22zM284.02 248.66h5.22v5.24h-5.22zM288.84 248.66h5.22v5.24h-5.22zM293.66 248.66h5.22v5.24h-5.22zM303.3 248.66h5.22v5.24h-5.22zM308.12 248.66h5.22v5.24h-5.22zM312.94 248.66h5.22v5.24h-5.22zM341.87 248.66h5.22v5.24h-5.22zM100.82 253.5h5.22v5.24h-5.22zM129.75 253.5h5.22v5.24h-5.22zM134.57 253.5h5.22v5.24h-5.22zM139.39 253.5h5.22v5.24h-5.22zM149.03 253.5h5.22v5.24h-5.22zM197.24 253.5h5.22v5.24h-5.22zM235.81 253.5h5.22v5.24h-5.22zM240.63 253.5h5.22v5.24h-5.22zM255.09 253.5h5.22v5.24h-5.22zM293.66 253.5h5.22v5.24h-5.22zM298.48 253.5h5.22v5.24h-5.22zM312.94 253.5h5.22v5.24h-5.22zM317.77 253.5h5.22v5.24h-5.22zM356.33 253.5h5.22v5.24h-5.22zM365.98 253.5h5.92v5.24h-5.92zM110.46 258.34h5.22v5.24h-5.22zM124.93 258.34h5.22v5.24h-5.22zM129.75 258.34h5.22v5.24h-5.22zM134.57 258.34h5.22v5.24h-5.22zM139.39 258.34h5.22v5.24h-5.22zM144.21 258.34h5.22v5.24h-5.22zM149.03 258.34h5.22v5.24h-5.22zM158.67 258.34h5.22v5.24h-5.22zM163.49 258.34h5.22v5.24h-5.22zM187.6 258.34h5.22v5.24h-5.22zM197.24 258.34h5.22v5.24h-5.22zM202.06 258.34h5.22v5.24h-5.22zM206.88 258.34h5.22v5.24h-5.22zM211.7 258.34h5.22v5.24h-5.22zM216.52 258.34h5.22v5.24h-5.22zM230.99 258.34h5.22v5.24h-5.22zM235.81 258.34h5.22v5.24h-5.22zM255.09 258.34h5.22v5.24h-5.22zM259.91 258.34h5.22v5.24h-5.22zM288.84 258.34h5.22v5.24h-5.22zM293.66 258.34h5.22v5.24h-5.22zM298.48 258.34h5.22v5.24h-5.22zM303.3 258.34h5.22v5.24h-5.22zM308.12 258.34h5.22v5.24h-5.22zM312.94 258.34h5.22v5.24h-5.22zM317.77 258.34h5.22v5.24h-5.22zM322.59 258.34h5.22v5.24h-5.22zM327.41 258.34h5.22v5.24h-5.22zM361.15 258.34h5.22v5.24h-5.22zM365.98 258.34h5.92v5.24h-5.92zM110.46 263.18h5.22v5.24h-5.22zM124.93 263.18h5.22v5.24h-5.22zM129.75 263.18h5.22v5.24h-5.22zM134.57 263.18h5.22v5.24h-5.22zM139.39 263.18h5.22v5.24h-5.22zM163.49 263.18h5.22v5.24h-5.22zM168.31 263.18h5.22v5.24h-5.22zM173.14 263.18h5.22v5.24h-5.22zM182.78 263.18h5.22v5.24h-5.22zM197.24 263.18h5.22v5.24h-5.22zM202.06 263.18h5.22v5.24h-5.22zM216.52 263.18h5.22v5.24h-5.22zM226.17 263.18h5.22v5.24h-5.22zM255.09 263.18h5.22v5.24h-5.22zM259.91 263.18h5.22v5.24h-5.22zM284.02 263.18h5.22v5.24h-5.22zM288.84 263.18h5.22v5.24h-5.22zM298.48 263.18h5.22v5.24h-5.22zM303.3 263.18h5.22v5.24h-5.22zM308.12 263.18h5.22v5.24h-5.22zM317.77 263.18h5.22v5.24h-5.22zM365.98 263.18h5.92v5.24h-5.92zM91.3 268.02h5.1v5.24h-5.1zM96 268.02h5.22v5.24h-5.22zM134.57 268.02h5.22v5.24h-5.22zM158.67 268.02h5.22v5.24h-5.22zM163.49 268.02h5.22v5.24h-5.22zM192.42 268.02h5.22v5.24h-5.22zM202.06 268.02h5.22v5.24h-5.22zM206.88 268.02h5.22v5.24h-5.22zM221.35 268.02h5.22v5.24h-5.22zM235.81 268.02h5.22v5.24h-5.22zM259.91 268.02h5.22v5.24h-5.22zM264.74 268.02h5.22v5.24h-5.22zM288.84 268.02h5.22v5.24h-5.22zM293.66 268.02h5.22v5.24h-5.22zM298.48 268.02h5.22v5.24h-5.22zM303.3 268.02h5.22v5.24h-5.22zM308.12 268.02h5.22v5.24h-5.22zM317.77 268.02h5.22v5.24h-5.22zM100.82 272.86h5.22v5.24h-5.22zM110.46 272.86h5.22v5.24h-5.22zM134.57 272.86h5.22v5.24h-5.22zM149.03 272.86h5.22v5.24h-5.22zM163.49 272.86h5.22v5.24h-5.22zM177.96 272.86h5.22v5.24h-5.22zM187.6 272.86h5.22v5.24h-5.22zM192.42 272.86h5.22v5.24h-5.22zM197.24 272.86h5.22v5.24h-5.22zM245.45 272.86h5.22v5.24h-5.22zM250.27 272.86h5.22v5.24h-5.22zM255.09 272.86h5.22v5.24h-5.22zM269.56 272.86h5.22v5.24h-5.22zM288.84 272.86h5.22v5.24h-5.22zM308.12 272.86h5.22v5.24h-5.22zM356.33 272.86h5.22v5.24h-5.22zM365.98 272.86h5.92v5.24h-5.92zM91.3 277.7h5.1v5.24h-5.1zM96 277.7h5.22v5.24h-5.22zM110.46 277.7h5.22v5.24h-5.22zM115.28 277.7h5.22v5.24h-5.22zM120.1 277.7h5.22v5.24h-5.22zM129.75 277.7h5.22v5.24h-5.22zM163.49 277.7h5.22v5.24h-5.22zM177.96 277.7h5.22v5.24h-5.22zM187.6 277.7h5.22v5.24h-5.22zM226.17 277.7h5.22v5.24h-5.22zM240.63 277.7h5.22v5.24h-5.22zM250.27 277.7h5.22v5.24h-5.22zM255.09 277.7h5.22v5.24h-5.22zM259.91 277.7h5.22v5.24h-5.22zM264.74 277.7h5.22v5.24h-5.22zM279.2 277.7h5.22v5.24h-5.22zM288.84 277.7h5.22v5.24h-5.22zM356.33 277.7h5.22v5.24h-5.22zM110.46 282.54h5.22v5.24h-5.22zM115.28 282.54h5.22v5.24h-5.22zM120.1 282.54h5.22v5.24h-5.22zM124.93 282.54h5.22v5.24h-5.22zM149.03 282.54h5.22v5.24h-5.22zM177.96 282.54h5.22v5.24h-5.22zM187.6 282.54h5.22v5.24h-5.22zM192.42 282.54h5.22v5.24h-5.22zM226.17 282.54h5.22v5.24h-5.22zM235.81 282.54h5.22v5.24h-5.22zM240.63 282.54h5.22v5.24h-5.22zM245.45 282.54h5.22v5.24h-5.22zM250.27 282.54h5.22v5.24h-5.22zM274.38 282.54h5.22v5.24h-5.22zM279.2 282.54h5.22v5.24h-5.22zM284.02 282.54h5.22v5.24h-5.22zM298.48 282.54h5.22v5.24h-5.22zM303.3 282.54h5.22v5.24h-5.22zM91.3 287.38h5.1v5.24h-5.1zM115.28 287.38h5.22v5.24h-5.22zM120.1 287.38h5.22v5.24h-5.22zM144.21 287.38h5.22v5.24h-5.22zM149.03 287.38h5.22v5.24h-5.22zM177.96 287.38h5.22v5.24h-5.22zM187.6 287.38h5.22v5.24h-5.22zM202.06 287.38h5.22v5.24h-5.22zM206.88 287.38h5.22v5.24h-5.22zM221.35 287.38h5.22v5.24h-5.22zM235.81 287.38h5.22v5.24h-5.22zM245.45 287.38h5.22v5.24h-5.22zM250.27 287.38h5.22v5.24h-5.22zM264.74 287.38h5.22v5.24h-5.22zM279.2 287.38h5.22v5.24h-5.22zM288.84 287.38h5.22v5.24h-5.22zM293.66 287.38h5.22v5.24h-5.22zM303.3 287.38h5.22v5.24h-5.22zM100.82 292.22h5.22v5.24h-5.22zM144.21 292.22h5.22v5.24h-5.22zM149.03 292.22h5.22v5.24h-5.22zM153.85 292.22h5.22v5.24h-5.22zM158.67 292.22h5.22v5.24h-5.22zM163.49 292.22h5.22v5.24h-5.22zM168.31 292.22h5.22v5.24h-5.22zM173.14 292.22h5.22v5.24h-5.22zM182.78 292.22h5.22v5.24h-5.22zM197.24 292.22h5.22v5.24h-5.22zM202.06 292.22h5.22v5.24h-5.22zM216.52 292.22h5.22v5.24h-5.22zM235.81 292.22h5.22v5.24h-5.22zM240.63 292.22h5.22v5.24h-5.22zM250.27 292.22h5.22v5.24h-5.22zM255.09 292.22h5.22v5.24h-5.22zM259.91 292.22h5.22v5.24h-5.22zM264.74 292.22h5.22v5.24h-5.22zM279.2 292.22h5.22v5.24h-5.22zM284.02 292.22h5.22v5.24h-5.22zM288.84 292.22h5.22v5.24h-5.22zM293.66 292.22h5.22v5.24h-5.22zM312.94 292.22h5.22v5.24h-5.22zM322.59 292.22h5.22v5.24h-5.22zM346.69 292.22h5.22v5.24h-5.22zM91.3 297.06h5.1v5.24h-5.1zM96 297.06h5.22v5.24h-5.22zM134.57 297.06h5.22v5.24h-5.22zM139.39 297.06h5.22v5.24h-5.22zM144.21 297.06h5.22v5.24h-5.22zM149.03 297.06h5.22v5.24h-5.22zM153.85 297.06h5.22v5.24h-5.22zM158.67 297.06h5.22v5.24h-5.22zM163.49 297.06h5.22v5.24h-5.22zM168.31 297.06h5.22v5.24h-5.22zM187.6 297.06h5.22v5.24h-5.22zM192.42 297.06h5.22v5.24h-5.22zM197.24 297.06h5.22v5.24h-5.22zM202.06 297.06h5.22v5.24h-5.22zM206.88 297.06h5.22v5.24h-5.22zM235.81 297.06h5.22v5.24h-5.22zM245.45 297.06h5.22v5.24h-5.22zM259.91 297.06h5.22v5.24h-5.22zM264.74 297.06h5.22v5.24h-5.22zM274.38 297.06h5.22v5.24h-5.22zM284.02 297.06h5.22v5.24h-5.22zM288.84 297.06h5.22v5.24h-5.22zM293.66 297.06h5.22v5.24h-5.22zM298.48 297.06h5.22v5.24h-5.22zM303.3 297.06h5.22v5.24h-5.22zM361.15 297.06h5.22v5.24h-5.22zM153.85 301.9h5.22v5.24h-5.22zM177.96 301.9h5.22v5.24h-5.22zM182.78 301.9h5.22v5.24h-5.22zM192.42 301.9h5.22v5.24h-5.22zM211.7 301.9h5.22v5.24h-5.22zM269.56 301.9h5.22v5.24h-5.22zM293.66 301.9h5.22v5.24h-5.22zM298.48 301.9h5.22v5.24h-5.22zM303.3 301.9h5.22v5.24h-5.22zM332.23 301.9h5.22v5.24h-5.22zM337.05 301.9h5.22v5.24h-5.22zM341.87 301.9h5.22v5.24h-5.22zM346.69 301.9h5.22v5.24h-5.22zM105.64 306.74h5.22v5.24h-5.22zM110.46 306.74h5.22v5.24h-5.22zM115.28 306.74h5.22v5.24h-5.22zM120.1 306.74h5.22v5.24h-5.22zM177.96 306.74h5.22v5.24h-5.22zM192.42 306.74h5.22v5.24h-5.22zM197.24 306.74h5.22v5.24h-5.22zM269.56 306.74h5.22v5.24h-5.22zM274.38 306.74h5.22v5.24h-5.22zM279.2 306.74h5.22v5.24h-5.22zM284.02 306.74h5.22v5.24h-5.22zM293.66 306.74h5.22v5.24h-5.22zM298.48 306.74h5.22v5.24h-5.22zM303.3 306.74h5.22v5.24h-5.22zM312.94 306.74h5.22v5.24h-5.22zM327.41 306.74h5.22v5.24h-5.22zM332.23 306.74h5.22v5.24h-5.22zM337.05 306.74h5.22v5.24h-5.22zM341.87 306.74h5.22v5.24h-5.22z"/><path fill="rgb(47,47,47)" d="M105.64 32.3h5.22v3.8h-5.22zM115.28 32.3h5.22v3.8h-5.22zM120.1 32.3h5.22v3.8h-5.22zM124.93 32.3h5.22v3.8h-5.22zM144.21 32.3h5.22v3.8h-5.22zM149.03 32.3h5.22v3.8h-5.22zM163.49 32.3h5.22v3.8h-5.22zM168.31 32.3h5.22v3.8h-5.22zM173.14 32.3h5.22v3.8h-5.22zM187.6 32.3h5.22v3.8h-5.22zM192.42 32.3h5.22v3.8h-5.22zM197.24 32.3h5.22v3.8h-5.22zM202.06 32.3h5.22v3.8h-5.22zM206.88 32.3h5.22v3.8h-5.22zM211.7 32.3h5.22v3.8h-5.22zM216.52 32.3h5.22v3.8h-5.22zM221.35 32.3h5.22v3.8h-5.22zM226.17 32.3h5.22v3.8h-5.22zM230.99 32.3h5.22v3.8h-5.22zM235.81 32.3h5.22v3.8h-5.22zM240.63 32.3h5.22v3.8h-5.22zM269.56 32.3h5.22v3.8h-5.22zM279.2 32.3h5.22v3.8h-5.22zM284.02 32.3h5.22v3.8h-5.22zM293.66 32.3h5.22v3.8h-5.22zM298.48 32.3h5.22v3.8h-5.22zM303.3 32.3h5.22v3.8h-5.22zM312.94 32.3h5.22v3.8h-5.22zM327.41 32.3h5.22v3.8h-5.22zM356.33 32.3h5.22v3.8h-5.22zM365.98 32.3h5.92v3.8h-5.92zM105.64 35.7h5.22v5.24h-5.22zM110.46 35.7h5.22v5.24h-5.22zM149.03 35.7h5.22v5.24h-5.22zM153.85 35.7h5.22v5.24h-5.22zM158.67 35.7h5.22v5.24h-5.22zM163.49 35.7h5.22v5.24h-5.22zM182.78 35.7h5.22v5.24h-5.22zM206.88 35.7h5.22v5.24h-5.22zM211.7 35.7h5.22v5.24h-5.22zM221.35 35.7h5.22v5.24h-5.22zM226.17 35.7h5.22v5.24h-5.22zM240.63 35.7h5.22v5.24h-5.22zM245.45 35.7h5.22v5.24h-5.22zM250.27 35.7h5.22v5.24h-5.22zM255.09 35.7h5.22v5.24h-5.22zM259.91 35.7h5.22v5.24h-5.22zM274.38 35.7h5.22v5.24h-5.22zM279.2 35.7h5.22v5.24h-5.22zM284.02 35.7h5.22v5.24h-5.22zM288.84 35.7h5.22v5.24h-5.22zM303.3 35.7h5.22v5.24h-5.22zM317.77 35.7h5.22v5.24h-5.22zM322.59 35.7h5.22v5.24h-5.22zM337.05 35.7h5.22v5.24h-5.22zM341.87 35.7h5.22v5.24h-5.22zM346.69 35.7h5.22v5.24h-5.22zM351.51 35.7h5.22v5.24h-5.22zM365.98 35.7h5.92v5.24h-5.92zM115.28 40.54h5.22v5.24h-5.22zM153.85 40.54h5.22v5.24h-5.22zM158.67 40.54h5.22v5.24h-5.22zM163.49 40.54h5.22v5.24h-5.22zM168.31 40.54h5.22v5.24h-5.22zM177.96 40.54h5.22v5.24h-5.22zM187.6 40.54h5.22v5.24h-5.22zM192.42 40.54h5.22v5.24h-5.22zM211.7 40.54h5.22v5.24h-5.22zM216.52 40.54h5.22v5.24h-5.22zM235.81 40.54h5.22v5.24h-5.22zM245.45 40.54h5.22v5.24h-5.22zM250.27 40.54h5.22v5.24h-5.22zM259.91 40.54h5.22v5.24h-5.22zM264.74 40.54h5.22v5.24h-5.22zM284.02 40.54h5.22v5.24h-5.22zM303.3 40.54h5.22v5.24h-5.22zM337.05 40.54h5.22v5.24h-5.22zM341.87 40.54h5.22v5.24h-5.22zM346.69 40.54h5.22v5.24h-5.22zM351.51 40.54h5.22v5.24h-5.22zM365.98 40.54h5.92v5.24h-5.92zM144.21 45.38h5.22v5.24h-5.22zM149.03 45.38h5.22v5.24h-5.22zM168.31 45.38h5.22v5.24h-5.22zM173.14 45.38h5.22v5.24h-5.22zM177.96 45.38h5.22v5.24h-5.22zM187.6 45.38h5.22v5.24h-5.22zM206.88 45.38h5.22v5.24h-5.22zM226.17 45.38h5.22v5.24h-5.22zM245.45 45.38h5.22v5.24h-5.22zM279.2 45.38h5.22v5.24h-5.22zM284.02 45.38h5.22v5.24h-5.22zM288.84 45.38h5.22v5.24h-5.22zM298.48 45.38h5.22v5.24h-5.22zM303.3 45.38h5.22v5.24h-5.22zM308.12 45.38h5.22v5.24h-5.22zM312.94 45.38h5.22v5.24h-5.22zM322.59 45.38h5.22v5.24h-5.22zM341.87 45.38h5.22v5.24h-5.22zM346.69 45.38h5.22v5.24h-5.22zM105.64 50.22h5.22v5.24h-5.22zM110.46 50.22h5.22v5.24h-5.22zM115.28 50.22h5.22v5.24h-5.22zM120.1 50.22h5.22v5.24h-5.22zM134.57 50.22h5.22v5.24h-5.22zM149.03 50.22h5.22v5.24h-5.22zM153.85 50.22h5.22v5.24h-5.22zM173.14 50.22h5.22v5.24h-5.22zM177.96 50.22h5.22v5.24h-5.22zM197.24 50.22h5.22v5.24h-5.22zM202.06 50.22h5.22v5.24h-5.22zM206.88 50.22h5.22v5.24h-5.22zM211.7 50.22h5.22v5.24h-5.22zM216.52 50.22h5.22v5.24h-5.22zM221.35 50.22h5.22v5.24h-5.22zM245.45 50.22h5.22v5.24h-5.22zM250.27 50.22h5.22v5.24h-5.22zM255.09 50.22h5.22v5.24h-5.22zM264.74 50.22h5.22v5.24h-5.22zM269.56 50.22h5.22v5.24h-5.22zM279.2 50.22h5.22v5.24h-5.22zM284.02 50.22h5.22v5.24h-5.22zM288.84 50.22h5.22v5.24h-5.22zM303.3 50.22h5.22v5.24h-5.22zM312.94 50.22h5.22v5.24h-5.22zM322.59 50.22h5.22v5.24h-5.22zM332.23 50.22h5.22v5.24h-5.22zM346.69 50.22h5.22v5.24h-5.22zM351.51 50.22h5.22v5.24h-5.22zM105.64 55.06h5.22v5.24h-5.22zM110.46 55.06h5.22v5.24h-5.22zM120.1 55.06h5.22v5.24h-5.22zM124.93 55.06h5.22v5.24h-5.22zM129.75 55.06h5.22v5.24h-5.22zM134.57 55.06h5.22v5.24h-5.22zM144.21 55.06h5.22v5.24h-5.22zM149.03 55.06h5.22v5.24h-5.22zM153.85 55.06h5.22v5.24h-5.22zM182.78 55.06h5.22v5.24h-5.22zM187.6 55.06h5.22v5.24h-5.22zM197.24 55.06h5.22v5.24h-5.22zM202.06 55.06h5.22v5.24h-5.22zM206.88 55.06h5.22v5.24h-5.22zM211.7 55.06h5.22v5.24h-5.22zM216.52 55.06h5.22v5.24h-5.22zM221.35 55.06h5.22v5.24h-5.22zM240.63 55.06h5.22v5.24h-5.22zM245.45 55.06h5.22v5.24h-5.22zM250.27 55.06h5.22v5.24h-5.22zM259.91 55.06h5.22v5.24h-5.22zM274.38 55.06h5.22v5.24h-5.22zM279.2 55.06h5.22v5.24h-5.22zM288.84 55.06h5.22v5.24h-5.22zM293.66 55.06h5.22v5.24h-5.22zM303.3 55.06h5.22v5.24h-5.22zM312.94 55.06h5.22v5.24h-5.22zM317.77 55.06h5.22v5.24h-5.22zM322.59 55.06h5.22v5.24h-5.22zM332.23 55.06h5.22v5.24h-5.22zM341.87 55.06h5.22v5.24h-5.22zM346.69 55.06h5.22v5.24h-5.22zM351.51 55.06h5.22v5.24h-5.22zM91.3 59.9h5.1v5.24h-5.1zM100.82 59.9h5.22v5.24h-5.22zM115.28 59.9h5.22v5.24h-5.22zM120.1 59.9h5.22v5.24h-5.22zM134.57 59.9h5.22v5.24h-5.22zM139.39 59.9h5.22v5.24h-5.22zM149.03 59.9h5.22v5.24h-5.22zM153.85 59.9h5.22v5.24h-5.22zM158.67 59.9h5.22v5.24h-5.22zM163.49 59.9h5.22v5.24h-5.22zM177.96 59.9h5.22v5.24h-5.22zM182.78 59.9h5.22v5.24h-5.22zM187.6 59.9h5.22v5.24h-5.22zM211.7 59.9h5.22v5.24h-5.22zM230.99 59.9h5.22v5.24h-5.22zM235.81 59.9h5.22v5.24h-5.22zM250.27 59.9h5.22v5.24h-5.22zM259.91 59.9h5.22v5.24h-5.22zM264.74 59.9h5.22v5.24h-5.22zM279.2 59.9h5.22v5.24h-5.22zM288.84 59.9h5.22v5.24h-5.22zM293.66 59.9h5.22v5.24h-5.22zM298.48 59.9h5.22v5.24h-5.22zM303.3 59.9h5.22v5.24h-5.22zM312.94 59.9h5.22v5.24h-5.22zM332.23 59.9h5.22v5.24h-5.22zM341.87 59.9h5.22v5.24h-5.22zM361.15 59.9h5.22v5.24h-5.22zM96 64.74h5.22v5.24h-5.22zM110.46 64.74h5.22v5.24h-5.22zM120.1 64.74h5.22v5.24h-5.22zM124.93 64.74h5.22v5.24h-5.22zM129.75 64.74h5.22v5.24h-5.22zM134.57 64.74h5.22v5.24h-5.22zM153.85 64.74h5.22v5.24h-5.22zM158.67 64.74h5.22v5.24h-5.22zM168.31 64.74h5.22v5.24h-5.22zM182.78 64.74h5.22v5.24h-5.22zM235.81 64.74h5.22v5.24h-5.22zM240.63 64.74h5.22v5.24h-5.22zM255.09 64.74h5.22v5.24h-5.22zM259.91 64.74h5.22v5.24h-5.22zM264.74 64.74h5.22v5.24h-5.22zM269.56 64.74h5.22v5.24h-5.22zM284.02 64.74h5.22v5.24h-5.22zM298.48 64.74h5.22v5.24h-5.22zM303.3 64.74h5.22v5.24h-5.22zM312.94 64.74h5.22v5.24h-5.22zM317.77 64.74h5.22v5.24h-5.22zM337.05 64.74h5.22v5.24h-5.22zM341.87 64.74h5.22v5.24h-5.22zM346.69 64.74h5.22v5.24h-5.22zM91.3 69.58h5.1v5.24h-5.1zM115.28 69.58h5.22v5.24h-5.22zM120.1 69.58h5.22v5.24h-5.22zM124.93 69.58h5.22v5.24h-5.22zM134.57 69.58h5.22v5.24h-5.22zM139.39 69.58h5.22v5.24h-5.22zM144.21 69.58h5.22v5.24h-5.22zM163.49 69.58h5.22v5.24h-5.22zM168.31 69.58h5.22v5.24h-5.22zM182.78 69.58h5.22v5.24h-5.22zM192.42 69.58h5.22v5.24h-5.22zM197.24 69.58h5.22v5.24h-5.22zM202.06 69.58h5.22v5.24h-5.22zM211.7 69.58h5.22v5.24h-5.22zM216.52 69.58h5.22v5.24h-5.22zM230.99 69.58h5.22v5.24h-5.22zM240.63 69.58h5.22v5.24h-5.22zM264.74 69.58h5.22v5.24h-5.22zM269.56 69.58h5.22v5.24h-5.22zM274.38 69.58h5.22v5.24h-5.22zM303.3 69.58h5.22v5.24h-5.22zM308.12 69.58h5.22v5.24h-5.22zM312.94 69.58h5.22v5.24h-5.22zM317.77 69.58h5.22v5.24h-5.22zM356.33 69.58h5.22v5.24h-5.22zM96 74.42h5.22v5.24h-5.22zM105.64 74.42h5.22v5.24h-5.22zM110.46 74.42h5.22v5.24h-5.22zM120.1 74.42h5.22v5.24h-5.22zM124.93 74.42h5.22v5.24h-5.22zM134.57 74.42h5.22v5.24h-5.22zM144.21 74.42h5.22v5.24h-5.22zM149.03 74.42h5.22v5.24h-5.22zM168.31 74.42h5.22v5.24h-5.22zM192.42 74.42h5.22v5.24h-5.22zM206.88 74.42h5.22v5.24h-5.22zM211.7 74.42h5.22v5.24h-5.22zM216.52 74.42h5.22v5.24h-5.22zM226.17 74.42h5.22v5.24h-5.22zM230.99 74.42h5.22v5.24h-5.22zM255.09 74.42h5.22v5.24h-5.22zM274.38 74.42h5.22v5.24h-5.22zM284.02 74.42h5.22v5.24h-5.22zM288.84 74.42h5.22v5.24h-5.22zM293.66 74.42h5.22v5.24h-5.22zM303.3 74.42h5.22v5.24h-5.22zM308.12 74.42h5.22v5.24h-5.22zM322.59 74.42h5.22v5.24h-5.22zM327.41 74.42h5.22v5.24h-5.22zM356.33 74.42h5.22v5.24h-5.22zM110.46 79.26h5.22v5.24h-5.22zM115.28 79.26h5.22v5.24h-5.22zM120.1 79.26h5.22v5.24h-5.22zM124.93 79.26h5.22v5.24h-5.22zM129.75 79.26h5.22v5.24h-5.22zM134.57 79.26h5.22v5.24h-5.22zM139.39 79.26h5.22v5.24h-5.22zM149.03 79.26h5.22v5.24h-5.22zM182.78 79.26h5.22v5.24h-5.22zM192.42 79.26h5.22v5.24h-5.22zM197.24 79.26h5.22v5.24h-5.22zM211.7 79.26h5.22v5.24h-5.22zM216.52 79.26h5.22v5.24h-5.22zM226.17 79.26h5.22v5.24h-5.22zM230.99 79.26h5.22v5.24h-5.22zM259.91 79.26h5.22v5.24h-5.22zM274.38 79.26h5.22v5.24h-5.22zM293.66 79.26h5.22v5.24h-5.22zM298.48 79.26h5.22v5.24h-5.22zM308.12 79.26h5.22v5.24h-5.22zM317.77 79.26h5.22v5.24h-5.22zM327.41 79.26h5.22v5.24h-5.22zM337.05 79.26h5.22v5.24h-5.22zM110.46 84.1h5.22v5.24h-5.22zM120.1 84.1h5.22v5.24h-5.22zM124.93 84.1h5.22v5.24h-5.22zM129.75 84.1h5.22v5.24h-5.22zM134.57 84.1h5.22v5.24h-5.22zM158.67 84.1h5.22v5.24h-5.22zM187.6 84.1h5.22v5.24h-5.22zM192.42 84.1h5.22v5.24h-5.22zM197.24 84.1h5.22v5.24h-5.22zM206.88 84.1h5.22v5.24h-5.22zM211.7 84.1h5.22v5.24h-5.22zM221.35 84.1h5.22v5.24h-5.22zM226.17 84.1h5.22v5.24h-5.22zM230.99 84.1h5.22v5.24h-5.22zM235.81 84.1h5.22v5.24h-5.22zM245.45 84.1h5.22v5.24h-5.22zM255.09 84.1h5.22v5.24h-5.22zM264.74 84.1h5.22v5.24h-5.22zM269.56 84.1h5.22v5.24h-5.22zM288.84 84.1h5.22v5.24h-5.22zM293.66 84.1h5.22v5.24h-5.22zM303.3 84.1h5.22v5.24h-5.22zM308.12 84.1h5.22v5.24h-5.22zM312.94 84.1h5.22v5.24h-5.22zM322.59 84.1h5.22v5.24h-5.22zM337.05 84.1h5.22v5.24h-5.22zM341.87 84.1h5.22v5.24h-5.22zM351.51 84.1h5.22v5.24h-5.22zM356.33 84.1h5.22v5.24h-5.22zM91.3 88.94h5.1v5.24h-5.1zM105.64 88.94h5.22v5.24h-5.22zM110.46 88.94h5.22v5.24h-5.22zM134.57 88.94h5.22v5.24h-5.22zM173.14 88.94h5.22v5.24h-5.22zM187.6 88.94h5.22v5.24h-5.22zM197.24 88.94h5.22v5.24h-5.22zM221.35 88.94h5.22v5.24h-5.22zM226.17 88.94h5.22v5.24h-5.22zM230.99 88.94h5.22v5.24h-5.22zM235.81 88.94h5.22v5.24h-5.22zM240.63 88.94h5.22v5.24h-5.22zM245.45 88.94h5.22v5.24h-5.22zM264.74 88.94h5.22v5.24h-5.22zM269.56 88.94h5.22v5.24h-5.22zM284.02 88.94h5.22v5.24h-5.22zM293.66 88.94h5.22v5.24h-5.22zM303.3 88.94h5.22v5.24h-5.22zM308.12 88.94h5.22v5.24h-5.22zM312.94 88.94h5.22v5.24h-5.22zM337.05 88.94h5.22v5.24h-5.22zM346.69 88.94h5.22v5.24h-5.22zM351.51 88.94h5.22v5.24h-5.22zM356.33 88.94h5.22v5.24h-5.22zM361.15 88.94h5.22v5.24h-5.22zM96 93.78h5.22v5.24h-5.22zM120.1 93.78h5.22v5.24h-5.22zM134.57 93.78h5.22v5.24h-5.22zM139.39 93.78h5.22v5.24h-5.22zM144.21 93.78h5.22v5.24h-5.22zM168.31 93.78h5.22v5.24h-5.22zM177.96 93.78h5.22v5.24h-5.22zM182.78 93.78h5.22v5.24h-5.22zM192.42 93.78h5.22v5.24h-5.22zM197.24 93.78h5.22v5.24h-5.22zM202.06 93.78h5.22v5.24h-5.22zM226.17 93.78h5.22v5.24h-5.22zM230.99 93.78h5.22v5.24h-5.22zM240.63 93.78h5.22v5.24h-5.22zM250.27 93.78h5.22v5.24h-5.22zM255.09 93.78h5.22v5.24h-5.22zM264.74 93.78h5.22v5.24h-5.22zM279.2 93.78h5.22v5.24h-5.22zM284.02 93.78h5.22v5.24h-5.22zM293.66 93.78h5.22v5.24h-5.22zM308.12 93.78h5.22v5.24h-5.22zM312.94 93.78h5.22v5.24h-5.22zM317.77 93.78h5.22v5.24h-5.22zM322.59 93.78h5.22v5.24h-5.22zM327.41 93.78h5.22v5.24h-5.22zM332.23 93.78h5.22v5.24h-5.22zM337.05 93.78h5.22v5.24h-5.22zM361.15 93.78h5.22v5.24h-5.22zM365.98 93.78h5.92v5.24h-5.92zM91.3 98.62h5.1v5.24h-5.1zM124.93 98.62h5.22v5.24h-5.22zM129.75 98.62h5.22v5.24h-5.22zM134.57 98.62h5.22v5.24h-5.22zM139.39 98.62h5.22v5.24h-5.22zM144.21 98.62h5.22v5.24h-5.22zM149.03 98.62h5.22v5.24h-5.22zM158.67 98.62h5.22v5.24h-5.22zM168.31 98.62h5.22v5.24h-5.22zM173.14 98.62h5.22v5.24h-5.22zM177.96 98.62h5.22v5.24h-5.22zM182.78 98.62h5.22v5.24h-5.22zM192.42 98.62h5.22v5.24h-5.22zM221.35 98.62h5.22v5.24h-5.22zM226.17 98.62h5.22v5.24h-5.22zM230.99 98.62h5.22v5.24h-5.22zM235.81 98.62h5.22v5.24h-5.22zM240.63 98.62h5.22v5.24h-5.22zM245.45 98.62h5.22v5.24h-5.22zM250.27 98.62h5.22v5.24h-5.22zM255.09 98.62h5.22v5.24h-5.22zM269.56 98.62h5.22v5.24h-5.22zM279.2 98.62h5.22v5.24h-5.22zM284.02 98.62h5.22v5.24h-5.22zM293.66 98.62h5.22v5.24h-5.22zM298.48 98.62h5.22v5.24h-5.22zM303.3 98.62h5.22v5.24h-5.22zM308.12 98.62h5.22v5.24h-5.22zM327.41 98.62h5.22v5.24h-5.22zM332.23 98.62h5.22v5.24h-5.22zM337.05 98.62h5.22v5.24h-5.22zM346.69 98.62h5.22v5.24h-5.22zM356.33 98.62h5.22v5.24h-5.22zM365.98 98.62h5.92v5.24h-5.92zM110.46 103.46h5.22v5.24h-5.22zM129.75 103.46h5.22v5.24h-5.22zM134.57 103.46h5.22v5.24h-5.22zM153.85 103.46h5.22v5.24h-5.22zM158.67 103.46h5.22v5.24h-5.22zM163.49 103.46h5.22v5.24h-5.22zM173.14 103.46h5.22v5.24h-5.22zM177.96 103.46h5.22v5.24h-5.22zM182.78 103.46h5.22v5.24h-5.22zM187.6 103.46h5.22v5.24h-5.22zM192.42 103.46h5.22v5.24h-5.22zM197.24 103.46h5.22v5.24h-5.22zM202.06 103.46h5.22v5.24h-5.22zM206.88 103.46h5.22v5.24h-5.22zM230.99 103.46h5.22v5.24h-5.22zM235.81 103.46h5.22v5.24h-5.22zM240.63 103.46h5.22v5.24h-5.22zM245.45 103.46h5.22v5.24h-5.22zM250.27 103.46h5.22v5.24h-5.22zM259.91 103.46h5.22v5.24h-5.22zM269.56 103.46h5.22v5.24h-5.22zM274.38 103.46h5.22v5.24h-5.22zM279.2 103.46h5.22v5.24h-5.22zM288.84 103.46h5.22v5.24h-5.22zM303.3 103.46h5.22v5.24h-5.22zM312.94 103.46h5.22v5.24h-5.22zM317.77 103.46h5.22v5.24h-5.22zM327.41 103.46h5.22v5.24h-5.22zM332.23 103.46h5.22v5.24h-5.22zM341.87 103.46h5.22v5.24h-5.22zM356.33 103.46h5.22v5.24h-5.22zM361.15 103.46h5.22v5.24h-5.22zM96 108.3h5.22v5.24h-5.22zM100.82 108.3h5.22v5.24h-5.22zM110.46 108.3h5.22v5.24h-5.22zM139.39 108.3h5.22v5.24h-5.22zM158.67 108.3h5.22v5.24h-5.22zM163.49 108.3h5.22v5.24h-5.22zM168.31 108.3h5.22v5.24h-5.22zM173.14 108.3h5.22v5.24h-5.22zM177.96 108.3h5.22v5.24h-5.22zM187.6 108.3h5.22v5.24h-5.22zM206.88 108.3h5.22v5.24h-5.22zM216.52 108.3h5.22v5.24h-5.22zM221.35 108.3h5.22v5.24h-5.22zM230.99 108.3h5.22v5.24h-5.22zM235.81 108.3h5.22v5.24h-5.22zM240.63 108.3h5.22v5.24h-5.22zM245.45 108.3h5.22v5.24h-5.22zM250.27 108.3h5.22v5.24h-5.22zM255.09 108.3h5.22v5.24h-5.22zM259.91 108.3h5.22v5.24h-5.22zM264.74 108.3h5.22v5.24h-5.22zM274.38 108.3h5.22v5.24h-5.22zM279.2 108.3h5.22v5.24h-5.22zM322.59 108.3h5.22v5.24h-5.22zM327.41 108.3h5.22v5.24h-5.22zM337.05 108.3h5.22v5.24h-5.22zM341.87 108.3h5.22v5.24h-5.22zM365.98 108.3h5.92v5.24h-5.92zM115.28 113.14h5.22v5.24h-5.22zM144.21 113.14h5.22v5.24h-5.22zM158.67 113.14h5.22v5.24h-5.22zM163.49 113.14h5.22v5.24h-5.22zM168.31 113.14h5.22v5.24h-5.22zM177.96 113.14h5.22v5.24h-5.22zM187.6 113.14h5.22v5.24h-5.22zM192.42 113.14h5.22v5.24h-5.22zM197.24 113.14h5.22v5.24h-5.22zM216.52 113.14h5.22v5.24h-5.22zM226.17 113.14h5.22v5.24h-5.22zM230.99 113.14h5.22v5.24h-5.22zM235.81 113.14h5.22v5.24h-5.22zM245.45 113.14h5.22v5.24h-5.22zM250.27 113.14h5.22v5.24h-5.22zM259.91 113.14h5.22v5.24h-5.22zM269.56 113.14h5.22v5.24h-5.22zM274.38 113.14h5.22v5.24h-5.22zM279.2 113.14h5.22v5.24h-5.22zM284.02 113.14h5.22v5.24h-5.22zM288.84 113.14h5.22v5.24h-5.22zM293.66 113.14h5.22v5.24h-5.22zM308.12 113.14h5.22v5.24h-5.22zM312.94 113.14h5.22v5.24h-5.22zM322.59 113.14h5.22v5.24h-5.22zM361.15 113.14h5.22v5.24h-5.22zM365.98 113.14h5.92v5.24h-5.92zM105.64 117.98h5.22v5.24h-5.22zM110.46 117.98h5.22v5.24h-5.22zM124.93 117.98h5.22v5.24h-5.22zM139.39 117.98h5.22v5.24h-5.22zM144.21 117.98h5.22v5.24h-5.22zM168.31 117.98h5.22v5.24h-5.22zM177.96 117.98h5.22v5.24h-5.22zM182.78 117.98h5.22v5.24h-5.22zM187.6 117.98h5.22v5.24h-5.22zM192.42 117.98h5.22v5.24h-5.22zM197.24 117.98h5.22v5.24h-5.22zM206.88 117.98h5.22v5.24h-5.22zM221.35 117.98h5.22v5.24h-5.22zM230.99 117.98h5.22v5.24h-5.22zM250.27 117.98h5.22v5.24h-5.22zM269.56 117.98h5.22v5.24h-5.22zM274.38 117.98h5.22v5.24h-5.22zM279.2 117.98h5.22v5.24h-5.22zM322.59 117.98h5.22v5.24h-5.22zM327.41 117.98h5.22v5.24h-5.22zM337.05 117.98h5.22v5.24h-5.22zM341.87 117.98h5.22v5.24h-5.22zM346.69 117.98h5.22v5.24h-5.22zM351.51 117.98h5.22v5.24h-5.22zM365.98 117.98h5.92v5.24h-5.92zM100.82 122.82h5.22v5.24h-5.22zM105.64 122.82h5.22v5.24h-5.22zM110.46 122.82h5.22v5.24h-5.22zM115.28 122.82h5.22v5.24h-5.22zM124.93 122.82h5.22v5.24h-5.22zM149.03 122.82h5.22v5.24h-5.22zM153.85 122.82h5.22v5.24h-5.22zM158.67 122.82h5.22v5.24h-5.22zM163.49 122.82h5.22v5.24h-5.22zM177.96 122.82h5.22v5.24h-5.22zM202.06 122.82h5.22v5.24h-5.22zM206.88 122.82h5.22v5.24h-5.22zM216.52 122.82h5.22v5.24h-5.22zM230.99 122.82h5.22v5.24h-5.22zM235.81 122.82h5.22v5.24h-5.22zM264.74 122.82h5.22v5.24h-5.22zM269.56 122.82h5.22v5.24h-5.22zM274.38 122.82h5.22v5.24h-5.22zM308.12 122.82h5.22v5.24h-5.22zM317.77 122.82h5.22v5.24h-5.22zM327.41 122.82h5.22v5.24h-5.22zM346.69 122.82h5.22v5.24h-5.22zM361.15 122.82h5.22v5.24h-5.22zM365.98 122.82h5.92v5.24h-5.92zM91.3 127.66h5.1v5.24h-5.1zM115.28 127.66h5.22v5.24h-5.22zM120.1 127.66h5.22v5.24h-5.22zM124.93 127.66h5.22v5.24h-5.22zM177.96 127.66h5.22v5.24h-5.22zM187.6 127.66h5.22v5.24h-5.22zM192.42 127.66h5.22v5.24h-5.22zM197.24 127.66h5.22v5.24h-5.22zM202.06 127.66h5.22v5.24h-5.22zM206.88 127.66h5.22v5.24h-5.22zM211.7 127.66h5.22v5.24h-5.22zM221.35 127.66h5.22v5.24h-5.22zM235.81 127.66h5.22v5.24h-5.22zM240.63 127.66h5.22v5.24h-5.22zM245.45 127.66h5.22v5.24h-5.22zM250.27 127.66h5.22v5.24h-5.22zM255.09 127.66h5.22v5.24h-5.22zM264.74 127.66h5.22v5.24h-5.22zM269.56 127.66h5.22v5.24h-5.22zM279.2 127.66h5.22v5.24h-5.22zM284.02 127.66h5.22v5.24h-5.22zM288.84 127.66h5.22v5.24h-5.22zM303.3 127.66h5.22v5.24h-5.22zM317.77 127.66h5.22v5.24h-5.22zM322.59 127.66h5.22v5.24h-5.22zM327.41 127.66h5.22v5.24h-5.22zM332.23 127.66h5.22v5.24h-5.22zM351.51 127.66h5.22v5.24h-5.22zM149.03 132.5h5.22v5.24h-5.22zM153.85 132.5h5.22v5.24h-5.22zM168.31 132.5h5.22v5.24h-5.22zM173.14 132.5h5.22v5.24h-5.22zM177.96 132.5h5.22v5.24h-5.22zM192.42 132.5h5.22v5.24h-5.22zM197.24 132.5h5.22v5.24h-5.22zM206.88 132.5h5.22v5.24h-5.22zM211.7 132.5h5.22v5.24h-5.22zM216.52 132.5h5.22v5.24h-5.22zM221.35 132.5h5.22v5.24h-5.22zM226.17 132.5h5.22v5.24h-5.22zM230.99 132.5h5.22v5.24h-5.22zM235.81 132.5h5.22v5.24h-5.22zM255.09 132.5h5.22v5.24h-5.22zM264.74 132.5h5.22v5.24h-5.22zM269.56 132.5h5.22v5.24h-5.22zM274.38 132.5h5.22v5.24h-5.22zM284.02 132.5h5.22v5.24h-5.22zM288.84 132.5h5.22v5.24h-5.22zM293.66 132.5h5.22v5.24h-5.22zM303.3 132.5h5.22v5.24h-5.22zM308.12 132.5h5.22v5.24h-5.22zM312.94 132.5h5.22v5.24h-5.22zM327.41 132.5h5.22v5.24h-5.22zM346.69 132.5h5.22v5.24h-5.22zM351.51 132.5h5.22v5.24h-5.22zM100.82 137.34h5.22v5.24h-5.22zM105.64 137.34h5.22v5.24h-5.22zM129.75 137.34h5.22v5.24h-5.22zM134.57 137.34h5.22v5.24h-5.22zM144.21 137.34h5.22v5.24h-5.22zM149.03 137.34h5.22v5.24h-5.22zM168.31 137.34h5.22v5.24h-5.22zM182.78 137.34h5.22v5.24h-5.22zM187.6 137.34h5.22v5.24h-5.22zM206.88 137.34h5.22v5.24h-5.22zM216.52 137.34h5.22v5.24h-5.22zM221.35 137.34h5.22v5.24h-5.22zM230.99 137.34h5.22v5.24h-5.22zM250.27 137.34h5.22v5.24h-5.22zM264.74 137.34h5.22v5.24h-5.22zM269.56 137.34h5.22v5.24h-5.22zM284.02 137.34h5.22v5.24h-5.22zM293.66 137.34h5.22v5.24h-5.22zM308.12 137.34h5.22v5.24h-5.22zM317.77 137.34h5.22v5.24h-5.22zM322.59 137.34h5.22v5.24h-5.22zM351.51 137.34h5.22v5.24h-5.22zM134.57 142.18h5.22v5.24h-5.22zM163.49 142.18h5.22v5.24h-5.22zM168.31 142.18h5.22v5.24h-5.22zM173.14 142.18h5.22v5.24h-5.22zM221.35 142.18h5.22v5.24h-5.22zM226.17 142.18h5.22v5.24h-5.22zM235.81 142.18h5.22v5.24h-5.22zM240.63 142.18h5.22v5.24h-5.22zM245.45 142.18h5.22v5.24h-5.22zM250.27 142.18h5.22v5.24h-5.22zM259.91 142.18h5.22v5.24h-5.22zM293.66 142.18h5.22v5.24h-5.22zM312.94 142.18h5.22v5.24h-5.22zM317.77 142.18h5.22v5.24h-5.22zM322.59 142.18h5.22v5.24h-5.22zM327.41 142.18h5.22v5.24h-5.22zM332.23 142.18h5.22v5.24h-5.22zM346.69 142.18h5.22v5.24h-5.22zM351.51 142.18h5.22v5.24h-5.22zM365.98 142.18h5.92v5.24h-5.92zM115.28 147.02h5.22v5.24h-5.22zM139.39 147.02h5.22v5.24h-5.22zM158.67 147.02h5.22v5.24h-5.22zM173.14 147.02h5.22v5.24h-5.22zM182.78 147.02h5.22v5.24h-5.22zM187.6 147.02h5.22v5.24h-5.22zM197.24 147.02h5.22v5.24h-5.22zM221.35 147.02h5.22v5.24h-5.22zM226.17 147.02h5.22v5.24h-5.22zM230.99 147.02h5.22v5.24h-5.22zM240.63 147.02h5.22v5.24h-5.22zM250.27 147.02h5.22v5.24h-5.22zM269.56 147.02h5.22v5.24h-5.22zM279.2 147.02h5.22v5.24h-5.22zM284.02 147.02h5.22v5.24h-5.22zM288.84 147.02h5.22v5.24h-5.22zM293.66 147.02h5.22v5.24h-5.22zM312.94 147.02h5.22v5.24h-5.22zM317.77 147.02h5.22v5.24h-5.22zM322.59 147.02h5.22v5.24h-5.22zM327.41 147.02h5.22v5.24h-5.22zM332.23 147.02h5.22v5.24h-5.22zM341.87 147.02h5.22v5.24h-5.22zM346.69 147.02h5.22v5.24h-5.22zM365.98 147.02h5.92v5.24h-5.92zM96 151.86h5.22v5.24h-5.22zM100.82 151.86h5.22v5.24h-5.22zM110.46 151.86h5.22v5.24h-5.22zM115.28 151.86h5.22v5.24h-5.22zM163.49 151.86h5.22v5.24h-5.22zM182.78 151.86h5.22v5.24h-5.22zM192.42 151.86h5.22v5.24h-5.22zM197.24 151.86h5.22v5.24h-5.22zM206.88 151.86h5.22v5.24h-5.22zM216.52 151.86h5.22v5.24h-5.22zM240.63 151.86h5.22v5.24h-5.22zM250.27 151.86h5.22v5.24h-5.22zM274.38 151.86h5.22v5.24h-5.22zM279.2 151.86h5.22v5.24h-5.22zM288.84 151.86h5.22v5.24h-5.22zM293.66 151.86h5.22v5.24h-5.22zM317.77 151.86h5.22v5.24h-5.22zM322.59 151.86h5.22v5.24h-5.22zM327.41 151.86h5.22v5.24h-5.22zM332.23 151.86h5.22v5.24h-5.22zM337.05 151.86h5.22v5.24h-5.22zM341.87 151.86h5.22v5.24h-5.22zM346.69 151.86h5.22v5.24h-5.22zM351.51 151.86h5.22v5.24h-5.22zM356.33 151.86h5.22v5.24h-5.22zM361.15 151.86h5.22v5.24h-5.22zM96 156.7h5.22v5.24h-5.22zM153.85 156.7h5.22v5.24h-5.22zM158.67 156.7h5.22v5.24h-5.22zM163.49 156.7h5.22v5.24h-5.22zM187.6 156.7h5.22v5.24h-5.22zM197.24 156.7h5.22v5.24h-5.22zM226.17 156.7h5.22v5.24h-5.22zM230.99 156.7h5.22v5.24h-5.22zM240.63 156.7h5.22v5.24h-5.22zM250.27 156.7h5.22v5.24h-5.22zM269.56 156.7h5.22v5.24h-5.22zM279.2 156.7h5.22v5.24h-5.22zM288.84 156.7h5.22v5.24h-5.22zM293.66 156.7h5.22v5.24h-5.22zM303.3 156.7h5.22v5.24h-5.22zM317.77 156.7h5.22v5.24h-5.22zM327.41 156.7h5.22v5.24h-5.22zM332.23 156.7h5.22v5.24h-5.22zM337.05 156.7h5.22v5.24h-5.22zM341.87 156.7h5.22v5.24h-5.22zM361.15 156.7h5.22v5.24h-5.22zM365.98 156.7h5.92v5.24h-5.92zM100.82 161.54h5.22v5.24h-5.22zM124.93 161.54h5.22v5.24h-5.22zM163.49 161.54h5.22v5.24h-5.22zM187.6 161.54h5.22v5.24h-5.22zM255.09 161.54h5.22v5.24h-5.22zM259.91 161.54h5.22v5.24h-5.22zM264.74 161.54h5.22v5.24h-5.22zM279.2 161.54h5.22v5.24h-5.22zM288.84 161.54h5.22v5.24h-5.22zM298.48 161.54h5.22v5.24h-5.22zM308.12 161.54h5.22v5.24h-5.22zM312.94 161.54h5.22v5.24h-5.22zM317.77 161.54h5.22v5.24h-5.22zM327.41 161.54h5.22v5.24h-5.22zM337.05 161.54h5.22v5.24h-5.22zM346.69 161.54h5.22v5.24h-5.22zM356.33 161.54h5.22v5.24h-5.22zM361.15 161.54h5.22v5.24h-5.22zM91.3 166.38h5.1v5.24h-5.1zM96 166.38h5.22v5.24h-5.22zM124.93 166.38h5.22v5.24h-5.22zM129.75 166.38h5.22v5.24h-5.22zM144.21 166.38h5.22v5.24h-5.22zM158.67 166.38h5.22v5.24h-5.22zM163.49 166.38h5.22v5.24h-5.22zM177.96 166.38h5.22v5.24h-5.22zM182.78 166.38h5.22v5.24h-5.22zM187.6 166.38h5.22v5.24h-5.22zM192.42 166.38h5.22v5.24h-5.22zM255.09 166.38h5.22v5.24h-5.22zM259.91 166.38h5.22v5.24h-5.22zM264.74 166.38h5.22v5.24h-5.22zM269.56 166.38h5.22v5.24h-5.22zM274.38 166.38h5.22v5.24h-5.22zM288.84 166.38h5.22v5.24h-5.22zM293.66 166.38h5.22v5.24h-5.22zM298.48 166.38h5.22v5.24h-5.22zM303.3 166.38h5.22v5.24h-5.22zM322.59 166.38h5.22v5.24h-5.22zM341.87 166.38h5.22v5.24h-5.22zM346.69 166.38h5.22v5.24h-5.22zM351.51 166.38h5.22v5.24h-5.22zM356.33 166.38h5.22v5.24h-5.22zM361.15 166.38h5.22v5.24h-5.22zM365.98 166.38h5.92v5.24h-5.92zM96 171.22h5.22v5.24h-5.22zM105.64 171.22h5.22v5.24h-5.22zM110.46 171.22h5.22v5.24h-5.22zM115.28 171.22h5.22v5.24h-5.22zM120.1 171.22h5.22v5.24h-5.22zM134.57 171.22h5.22v5.24h-5.22zM139.39 171.22h5.22v5.24h-5.22zM149.03 171.22h5.22v5.24h-5.22zM158.67 171.22h5.22v5.24h-5.22zM177.96 171.22h5.22v5.24h-5.22zM182.78 171.22h5.22v5.24h-5.22zM202.06 171.22h5.22v5.24h-5.22zM206.88 171.22h5.22v5.24h-5.22zM245.45 171.22h5.22v5.24h-5.22zM255.09 171.22h5.22v5.24h-5.22zM259.91 171.22h5.22v5.24h-5.22zM264.74 171.22h5.22v5.24h-5.22zM269.56 171.22h5.22v5.24h-5.22zM274.38 171.22h5.22v5.24h-5.22zM279.2 171.22h5.22v5.24h-5.22zM284.02 171.22h5.22v5.24h-5.22zM288.84 171.22h5.22v5.24h-5.22zM312.94 171.22h5.22v5.24h-5.22zM317.77 171.22h5.22v5.24h-5.22zM327.41 171.22h5.22v5.24h-5.22zM332.23 171.22h5.22v5.24h-5.22zM341.87 171.22h5.22v5.24h-5.22zM346.69 171.22h5.22v5.24h-5.22zM351.51 171.22h5.22v5.24h-5.22zM365.98 171.22h5.92v5.24h-5.92zM96 176.06h5.22v5.24h-5.22zM110.46 176.06h5.22v5.24h-5.22zM129.75 176.06h5.22v5.24h-5.22zM134.57 176.06h5.22v5.24h-5.22zM139.39 176.06h5.22v5.24h-5.22zM144.21 176.06h5.22v5.24h-5.22zM149.03 176.06h5.22v5.24h-5.22zM177.96 176.06h5.22v5.24h-5.22zM182.78 176.06h5.22v5.24h-5.22zM187.6 176.06h5.22v5.24h-5.22zM192.42 176.06h5.22v5.24h-5.22zM202.06 176.06h5.22v5.24h-5.22zM206.88 176.06h5.22v5.24h-5.22zM211.7 176.06h5.22v5.24h-5.22zM216.52 176.06h5.22v5.24h-5.22zM221.35 176.06h5.22v5.24h-5.22zM226.17 176.06h5.22v5.24h-5.22zM230.99 176.06h5.22v5.24h-5.22zM245.45 176.06h5.22v5.24h-5.22zM250.27 176.06h5.22v5.24h-5.22zM259.91 176.06h5.22v5.24h-5.22zM274.38 176.06h5.22v5.24h-5.22zM279.2 176.06h5.22v5.24h-5.22zM284.02 176.06h5.22v5.24h-5.22zM288.84 176.06h5.22v5.24h-5.22zM293.66 176.06h5.22v5.24h-5.22zM303.3 176.06h5.22v5.24h-5.22zM317.77 176.06h5.22v5.24h-5.22zM322.59 176.06h5.22v5.24h-5.22zM327.41 176.06h5.22v5.24h-5.22zM346.69 176.06h5.22v5.24h-5.22zM351.51 176.06h5.22v5.24h-5.22zM361.15 176.06h5.22v5.24h-5.22zM365.98 176.06h5.92v5.24h-5.92zM96 180.9h5.22v5.24h-5.22zM100.82 180.9h5.22v5.24h-5.22zM115.28 180.9h5.22v5.24h-5.22zM134.57 180.9h5.22v5.24h-5.22zM153.85 180.9h5.22v5.24h-5.22zM177.96 180.9h5.22v5.24h-5.22zM187.6 180.9h5.22v5.24h-5.22zM197.24 180.9h5.22v5.24h-5.22zM202.06 180.9h5.22v5.24h-5.22zM206.88 180.9h5.22v5.24h-5.22zM211.7 180.9h5.22v5.24h-5.22zM221.35 180.9h5.22v5.24h-5.22zM230.99 180.9h5.22v5.24h-5.22zM240.63 180.9h5.22v5.24h-5.22zM259.91 180.9h5.22v5.24h-5.22zM279.2 180.9h5.22v5.24h-5.22zM284.02 180.9h5.22v5.24h-5.22zM337.05 180.9h5.22v5.24h-5.22zM341.87 180.9h5.22v5.24h-5.22zM356.33 180.9h5.22v5.24h-5.22zM361.15 180.9h5.22v5.24h-5.22zM365.98 180.9h5.92v5.24h-5.92zM96 185.74h5.22v5.24h-5.22zM129.75 185.74h5.22v5.24h-5.22zM134.57 185.74h5.22v5.24h-5.22zM144.21 185.74h5.22v5.24h-5.22zM153.85 185.74h5.22v5.24h-5.22zM163.49 185.74h5.22v5.24h-5.22zM182.78 185.74h5.22v5.24h-5.22zM187.6 185.74h5.22v5.24h-5.22zM192.42 185.74h5.22v5.24h-5.22zM206.88 185.74h5.22v5.24h-5.22zM226.17 185.74h5.22v5.24h-5.22zM230.99 185.74h5.22v5.24h-5.22zM235.81 185.74h5.22v5.24h-5.22zM269.56 185.74h5.22v5.24h-5.22zM274.38 185.74h5.22v5.24h-5.22zM293.66 185.74h5.22v5.24h-5.22zM308.12 185.74h5.22v5.24h-5.22zM312.94 185.74h5.22v5.24h-5.22zM317.77 185.74h5.22v5.24h-5.22zM332.23 185.74h5.22v5.24h-5.22zM337.05 185.74h5.22v5.24h-5.22zM346.69 185.74h5.22v5.24h-5.22zM356.33 185.74h5.22v5.24h-5.22zM361.15 185.74h5.22v5.24h-5.22zM365.98 185.74h5.92v5.24h-5.92zM115.28 190.58h5.22v5.24h-5.22zM120.1 190.58h5.22v5.24h-5.22zM129.75 190.58h5.22v5.24h-5.22zM139.39 190.58h5.22v5.24h-5.22zM144.21 190.58h5.22v5.24h-5.22zM149.03 190.58h5.22v5.24h-5.22zM153.85 190.58h5.22v5.24h-5.22zM158.67 190.58h5.22v5.24h-5.22zM173.14 190.58h5.22v5.24h-5.22zM177.96 190.58h5.22v5.24h-5.22zM182.78 190.58h5.22v5.24h-5.22zM187.6 190.58h5.22v5.24h-5.22zM192.42 190.58h5.22v5.24h-5.22zM211.7 190.58h5.22v5.24h-5.22zM221.35 190.58h5.22v5.24h-5.22zM226.17 190.58h5.22v5.24h-5.22zM245.45 190.58h5.22v5.24h-5.22zM250.27 190.58h5.22v5.24h-5.22zM255.09 190.58h5.22v5.24h-5.22zM274.38 190.58h5.22v5.24h-5.22zM284.02 190.58h5.22v5.24h-5.22zM293.66 190.58h5.22v5.24h-5.22zM298.48 190.58h5.22v5.24h-5.22zM308.12 190.58h5.22v5.24h-5.22zM312.94 190.58h5.22v5.24h-5.22zM317.77 190.58h5.22v5.24h-5.22zM322.59 190.58h5.22v5.24h-5.22zM327.41 190.58h5.22v5.24h-5.22zM332.23 190.58h5.22v5.24h-5.22zM341.87 190.58h5.22v5.24h-5.22zM346.69 190.58h5.22v5.24h-5.22zM351.51 190.58h5.22v5.24h-5.22zM356.33 190.58h5.22v5.24h-5.22zM361.15 190.58h5.22v5.24h-5.22zM365.98 190.58h5.92v5.24h-5.92zM129.75 195.42h5.22v5.24h-5.22zM134.57 195.42h5.22v5.24h-5.22zM139.39 195.42h5.22v5.24h-5.22zM144.21 195.42h5.22v5.24h-5.22zM149.03 195.42h5.22v5.24h-5.22zM153.85 195.42h5.22v5.24h-5.22zM163.49 195.42h5.22v5.24h-5.22zM168.31 195.42h5.22v5.24h-5.22zM177.96 195.42h5.22v5.24h-5.22zM182.78 195.42h5.22v5.24h-5.22zM187.6 195.42h5.22v5.24h-5.22zM192.42 195.42h5.22v5.24h-5.22zM197.24 195.42h5.22v5.24h-5.22zM202.06 195.42h5.22v5.24h-5.22zM206.88 195.42h5.22v5.24h-5.22zM216.52 195.42h5.22v5.24h-5.22zM226.17 195.42h5.22v5.24h-5.22zM245.45 195.42h5.22v5.24h-5.22zM250.27 195.42h5.22v5.24h-5.22zM255.09 195.42h5.22v5.24h-5.22zM259.91 195.42h5.22v5.24h-5.22zM279.2 195.42h5.22v5.24h-5.22zM298.48 195.42h5.22v5.24h-5.22zM308.12 195.42h5.22v5.24h-5.22zM322.59 195.42h5.22v5.24h-5.22zM332.23 195.42h5.22v5.24h-5.22zM361.15 195.42h5.22v5.24h-5.22zM365.98 195.42h5.92v5.24h-5.92zM129.75 200.26h5.22v5.24h-5.22zM134.57 200.26h5.22v5.24h-5.22zM144.21 200.26h5.22v5.24h-5.22zM153.85 200.26h5.22v5.24h-5.22zM158.67 200.26h5.22v5.24h-5.22zM163.49 200.26h5.22v5.24h-5.22zM168.31 200.26h5.22v5.24h-5.22zM173.14 200.26h5.22v5.24h-5.22zM206.88 200.26h5.22v5.24h-5.22zM211.7 200.26h5.22v5.24h-5.22zM226.17 200.26h5.22v5.24h-5.22zM230.99 200.26h5.22v5.24h-5.22zM245.45 200.26h5.22v5.24h-5.22zM255.09 200.26h5.22v5.24h-5.22zM259.91 200.26h5.22v5.24h-5.22zM284.02 200.26h5.22v5.24h-5.22zM308.12 200.26h5.22v5.24h-5.22zM312.94 200.26h5.22v5.24h-5.22zM327.41 200.26h5.22v5.24h-5.22zM332.23 200.26h5.22v5.24h-5.22zM337.05 200.26h5.22v5.24h-5.22zM341.87 200.26h5.22v5.24h-5.22zM346.69 200.26h5.22v5.24h-5.22zM351.51 200.26h5.22v5.24h-5.22zM356.33 200.26h5.22v5.24h-5.22zM361.15 200.26h5.22v5.24h-5.22zM365.98 200.26h5.92v5.24h-5.92zM91.3 205.1h5.1v5.24h-5.1zM96 205.1h5.22v5.24h-5.22zM110.46 205.1h5.22v5.24h-5.22zM115.28 205.1h5.22v5.24h-5.22zM129.75 205.1h5.22v5.24h-5.22zM144.21 205.1h5.22v5.24h-5.22zM149.03 205.1h5.22v5.24h-5.22zM153.85 205.1h5.22v5.24h-5.22zM163.49 205.1h5.22v5.24h-5.22zM168.31 205.1h5.22v5.24h-5.22zM182.78 205.1h5.22v5.24h-5.22zM187.6 205.1h5.22v5.24h-5.22zM221.35 205.1h5.22v5.24h-5.22zM226.17 205.1h5.22v5.24h-5.22zM250.27 205.1h5.22v5.24h-5.22zM255.09 205.1h5.22v5.24h-5.22zM259.91 205.1h5.22v5.24h-5.22zM298.48 205.1h5.22v5.24h-5.22zM303.3 205.1h5.22v5.24h-5.22zM308.12 205.1h5.22v5.24h-5.22zM322.59 205.1h5.22v5.24h-5.22zM327.41 205.1h5.22v5.24h-5.22zM337.05 205.1h5.22v5.24h-5.22zM346.69 205.1h5.22v5.24h-5.22zM351.51 205.1h5.22v5.24h-5.22zM361.15 205.1h5.22v5.24h-5.22zM100.82 209.94h5.22v5.24h-5.22zM110.46 209.94h5.22v5.24h-5.22zM124.93 209.94h5.22v5.24h-5.22zM129.75 209.94h5.22v5.24h-5.22zM158.67 209.94h5.22v5.24h-5.22zM163.49 209.94h5.22v5.24h-5.22zM173.14 209.94h5.22v5.24h-5.22zM182.78 209.94h5.22v5.24h-5.22zM187.6 209.94h5.22v5.24h-5.22zM197.24 209.94h5.22v5.24h-5.22zM206.88 209.94h5.22v5.24h-5.22zM211.7 209.94h5.22v5.24h-5.22zM216.52 209.94h5.22v5.24h-5.22zM226.17 209.94h5.22v5.24h-5.22zM230.99 209.94h5.22v5.24h-5.22zM245.45 209.94h5.22v5.24h-5.22zM250.27 209.94h5.22v5.24h-5.22zM264.74 209.94h5.22v5.24h-5.22zM269.56 209.94h5.22v5.24h-5.22zM308.12 209.94h5.22v5.24h-5.22zM327.41 209.94h5.22v5.24h-5.22zM337.05 209.94h5.22v5.24h-5.22zM341.87 209.94h5.22v5.24h-5.22zM346.69 209.94h5.22v5.24h-5.22zM351.51 209.94h5.22v5.24h-5.22zM356.33 209.94h5.22v5.24h-5.22zM361.15 209.94h5.22v5.24h-5.22zM365.98 209.94h5.92v5.24h-5.92zM105.64 214.78h5.22v5.24h-5.22zM110.46 214.78h5.22v5.24h-5.22zM115.28 214.78h5.22v5.24h-5.22zM120.1 214.78h5.22v5.24h-5.22zM124.93 214.78h5.22v5.24h-5.22zM134.57 214.78h5.22v5.24h-5.22zM139.39 214.78h5.22v5.24h-5.22zM149.03 214.78h5.22v5.24h-5.22zM153.85 214.78h5.22v5.24h-5.22zM158.67 214.78h5.22v5.24h-5.22zM173.14 214.78h5.22v5.24h-5.22zM177.96 214.78h5.22v5.24h-5.22zM187.6 214.78h5.22v5.24h-5.22zM192.42 214.78h5.22v5.24h-5.22zM197.24 214.78h5.22v5.24h-5.22zM206.88 214.78h5.22v5.24h-5.22zM211.7 214.78h5.22v5.24h-5.22zM221.35 214.78h5.22v5.24h-5.22zM226.17 214.78h5.22v5.24h-5.22zM240.63 214.78h5.22v5.24h-5.22zM245.45 214.78h5.22v5.24h-5.22zM250.27 214.78h5.22v5.24h-5.22zM269.56 214.78h5.22v5.24h-5.22zM308.12 214.78h5.22v5.24h-5.22zM312.94 214.78h5.22v5.24h-5.22zM317.77 214.78h5.22v5.24h-5.22zM322.59 214.78h5.22v5.24h-5.22zM327.41 214.78h5.22v5.24h-5.22zM332.23 214.78h5.22v5.24h-5.22zM337.05 214.78h5.22v5.24h-5.22zM341.87 214.78h5.22v5.24h-5.22zM346.69 214.78h5.22v5.24h-5.22zM351.51 214.78h5.22v5.24h-5.22zM365.98 214.78h5.92v5.24h-5.92zM91.3 219.62h5.1v5.24h-5.1zM96 219.62h5.22v5.24h-5.22zM100.82 219.62h5.22v5.24h-5.22zM110.46 219.62h5.22v5.24h-5.22zM115.28 219.62h5.22v5.24h-5.22zM120.1 219.62h5.22v5.24h-5.22zM124.93 219.62h5.22v5.24h-5.22zM129.75 219.62h5.22v5.24h-5.22zM139.39 219.62h5.22v5.24h-5.22zM144.21 219.62h5.22v5.24h-5.22zM149.03 219.62h5.22v5.24h-5.22zM153.85 219.62h5.22v5.24h-5.22zM168.31 219.62h5.22v5.24h-5.22zM173.14 219.62h5.22v5.24h-5.22zM177.96 219.62h5.22v5.24h-5.22zM182.78 219.62h5.22v5.24h-5.22zM192.42 219.62h5.22v5.24h-5.22zM202.06 219.62h5.22v5.24h-5.22zM206.88 219.62h5.22v5.24h-5.22zM230.99 219.62h5.22v5.24h-5.22zM235.81 219.62h5.22v5.24h-5.22zM240.63 219.62h5.22v5.24h-5.22zM245.45 219.62h5.22v5.24h-5.22zM250.27 219.62h5.22v5.24h-5.22zM264.74 219.62h5.22v5.24h-5.22zM269.56 219.62h5.22v5.24h-5.22zM288.84 219.62h5.22v5.24h-5.22zM293.66 219.62h5.22v5.24h-5.22zM298.48 219.62h5.22v5.24h-5.22zM308.12 219.62h5.22v5.24h-5.22zM312.94 219.62h5.22v5.24h-5.22zM322.59 219.62h5.22v5.24h-5.22zM327.41 219.62h5.22v5.24h-5.22zM351.51 219.62h5.22v5.24h-5.22zM356.33 219.62h5.22v5.24h-5.22zM361.15 219.62h5.22v5.24h-5.22zM365.98 219.62h5.92v5.24h-5.92zM91.3 224.46h5.1v5.24h-5.1zM100.82 224.46h5.22v5.24h-5.22zM129.75 224.46h5.22v5.24h-5.22zM134.57 224.46h5.22v5.24h-5.22zM139.39 224.46h5.22v5.24h-5.22zM144.21 224.46h5.22v5.24h-5.22zM153.85 224.46h5.22v5.24h-5.22zM158.67 224.46h5.22v5.24h-5.22zM163.49 224.46h5.22v5.24h-5.22zM168.31 224.46h5.22v5.24h-5.22zM187.6 224.46h5.22v5.24h-5.22zM192.42 224.46h5.22v5.24h-5.22zM197.24 224.46h5.22v5.24h-5.22zM202.06 224.46h5.22v5.24h-5.22zM230.99 224.46h5.22v5.24h-5.22zM235.81 224.46h5.22v5.24h-5.22zM240.63 224.46h5.22v5.24h-5.22zM259.91 224.46h5.22v5.24h-5.22zM264.74 224.46h5.22v5.24h-5.22zM274.38 224.46h5.22v5.24h-5.22zM303.3 224.46h5.22v5.24h-5.22zM308.12 224.46h5.22v5.24h-5.22zM317.77 224.46h5.22v5.24h-5.22zM322.59 224.46h5.22v5.24h-5.22zM361.15 224.46h5.22v5.24h-5.22zM365.98 224.46h5.92v5.24h-5.92zM105.64 229.3h5.22v5.24h-5.22zM129.75 229.3h5.22v5.24h-5.22zM144.21 229.3h5.22v5.24h-5.22zM149.03 229.3h5.22v5.24h-5.22zM173.14 229.3h5.22v5.24h-5.22zM177.96 229.3h5.22v5.24h-5.22zM187.6 229.3h5.22v5.24h-5.22zM192.42 229.3h5.22v5.24h-5.22zM197.24 229.3h5.22v5.24h-5.22zM202.06 229.3h5.22v5.24h-5.22zM206.88 229.3h5.22v5.24h-5.22zM211.7 229.3h5.22v5.24h-5.22zM221.35 229.3h5.22v5.24h-5.22zM230.99 229.3h5.22v5.24h-5.22zM235.81 229.3h5.22v5.24h-5.22zM240.63 229.3h5.22v5.24h-5.22zM255.09 229.3h5.22v5.24h-5.22zM279.2 229.3h5.22v5.24h-5.22zM284.02 229.3h5.22v5.24h-5.22zM288.84 229.3h5.22v5.24h-5.22zM293.66 229.3h5.22v5.24h-5.22zM298.48 229.3h5.22v5.24h-5.22zM303.3 229.3h5.22v5.24h-5.22zM312.94 229.3h5.22v5.24h-5.22zM322.59 229.3h5.22v5.24h-5.22zM327.41 229.3h5.22v5.24h-5.22zM332.23 229.3h5.22v5.24h-5.22zM341.87 229.3h5.22v5.24h-5.22zM346.69 229.3h5.22v5.24h-5.22zM351.51 229.3h5.22v5.24h-5.22zM356.33 229.3h5.22v5.24h-5.22zM365.98 229.3h5.92v5.24h-5.92zM105.64 234.14h5.22v5.24h-5.22zM134.57 234.14h5.22v5.24h-5.22zM158.67 234.14h5.22v5.24h-5.22zM168.31 234.14h5.22v5.24h-5.22zM173.14 234.14h5.22v5.24h-5.22zM187.6 234.14h5.22v5.24h-5.22zM202.06 234.14h5.22v5.24h-5.22zM206.88 234.14h5.22v5.24h-5.22zM211.7 234.14h5.22v5.24h-5.22zM216.52 234.14h5.22v5.24h-5.22zM221.35 234.14h5.22v5.24h-5.22zM226.17 234.14h5.22v5.24h-5.22zM245.45 234.14h5.22v5.24h-5.22zM250.27 234.14h5.22v5.24h-5.22zM259.91 234.14h5.22v5.24h-5.22zM264.74 234.14h5.22v5.24h-5.22zM274.38 234.14h5.22v5.24h-5.22zM293.66 234.14h5.22v5.24h-5.22zM303.3 234.14h5.22v5.24h-5.22zM312.94 234.14h5.22v5.24h-5.22zM322.59 234.14h5.22v5.24h-5.22zM327.41 234.14h5.22v5.24h-5.22zM332.23 234.14h5.22v5.24h-5.22zM337.05 234.14h5.22v5.24h-5.22zM341.87 234.14h5.22v5.24h-5.22zM346.69 234.14h5.22v5.24h-5.22zM351.51 234.14h5.22v5.24h-5.22zM356.33 234.14h5.22v5.24h-5.22zM361.15 234.14h5.22v5.24h-5.22zM96 238.98h5.22v5.24h-5.22zM115.28 238.98h5.22v5.24h-5.22zM163.49 238.98h5.22v5.24h-5.22zM168.31 238.98h5.22v5.24h-5.22zM177.96 238.98h5.22v5.24h-5.22zM182.78 238.98h5.22v5.24h-5.22zM192.42 238.98h5.22v5.24h-5.22zM197.24 238.98h5.22v5.24h-5.22zM202.06 238.98h5.22v5.24h-5.22zM206.88 238.98h5.22v5.24h-5.22zM211.7 238.98h5.22v5.24h-5.22zM216.52 238.98h5.22v5.24h-5.22zM245.45 238.98h5.22v5.24h-5.22zM259.91 238.98h5.22v5.24h-5.22zM264.74 238.98h5.22v5.24h-5.22zM284.02 238.98h5.22v5.24h-5.22zM293.66 238.98h5.22v5.24h-5.22zM298.48 238.98h5.22v5.24h-5.22zM303.3 238.98h5.22v5.24h-5.22zM332.23 238.98h5.22v5.24h-5.22zM337.05 238.98h5.22v5.24h-5.22zM341.87 238.98h5.22v5.24h-5.22zM346.69 238.98h5.22v5.24h-5.22zM356.33 238.98h5.22v5.24h-5.22zM96 243.82h5.22v5.24h-5.22zM100.82 243.82h5.22v5.24h-5.22zM105.64 243.82h5.22v5.24h-5.22zM124.93 243.82h5.22v5.24h-5.22zM134.57 243.82h5.22v5.24h-5.22zM153.85 243.82h5.22v5.24h-5.22zM158.67 243.82h5.22v5.24h-5.22zM168.31 243.82h5.22v5.24h-5.22zM177.96 243.82h5.22v5.24h-5.22zM192.42 243.82h5.22v5.24h-5.22zM197.24 243.82h5.22v5.24h-5.22zM202.06 243.82h5.22v5.24h-5.22zM206.88 243.82h5.22v5.24h-5.22zM211.7 243.82h5.22v5.24h-5.22zM216.52 243.82h5.22v5.24h-5.22zM221.35 243.82h5.22v5.24h-5.22zM226.17 243.82h5.22v5.24h-5.22zM235.81 243.82h5.22v5.24h-5.22zM240.63 243.82h5.22v5.24h-5.22zM245.45 243.82h5.22v5.24h-5.22zM255.09 243.82h5.22v5.24h-5.22zM259.91 243.82h5.22v5.24h-5.22zM264.74 243.82h5.22v5.24h-5.22zM274.38 243.82h5.22v5.24h-5.22zM284.02 243.82h5.22v5.24h-5.22zM288.84 243.82h5.22v5.24h-5.22zM293.66 243.82h5.22v5.24h-5.22zM298.48 243.82h5.22v5.24h-5.22zM303.3 243.82h5.22v5.24h-5.22zM308.12 243.82h5.22v5.24h-5.22zM322.59 243.82h5.22v5.24h-5.22zM327.41 243.82h5.22v5.24h-5.22zM332.23 243.82h5.22v5.24h-5.22zM337.05 243.82h5.22v5.24h-5.22zM356.33 243.82h5.22v5.24h-5.22zM365.98 243.82h5.92v5.24h-5.92zM91.3 248.66h5.1v5.24h-5.1zM96 248.66h5.22v5.24h-5.22zM100.82 248.66h5.22v5.24h-5.22zM110.46 248.66h5.22v5.24h-5.22zM120.1 248.66h5.22v5.24h-5.22zM124.93 248.66h5.22v5.24h-5.22zM129.75 248.66h5.22v5.24h-5.22zM177.96 248.66h5.22v5.24h-5.22zM202.06 248.66h5.22v5.24h-5.22zM206.88 248.66h5.22v5.24h-5.22zM211.7 248.66h5.22v5.24h-5.22zM226.17 248.66h5.22v5.24h-5.22zM235.81 248.66h5.22v5.24h-5.22zM240.63 248.66h5.22v5.24h-5.22zM245.45 248.66h5.22v5.24h-5.22zM255.09 248.66h5.22v5.24h-5.22zM259.91 248.66h5.22v5.24h-5.22zM269.56 248.66h5.22v5.24h-5.22zM322.59 248.66h5.22v5.24h-5.22zM327.41 248.66h5.22v5.24h-5.22zM332.23 248.66h5.22v5.24h-5.22zM337.05 248.66h5.22v5.24h-5.22zM351.51 248.66h5.22v5.24h-5.22zM356.33 248.66h5.22v5.24h-5.22zM361.15 248.66h5.22v5.24h-5.22zM96 253.5h5.22v5.24h-5.22zM105.64 253.5h5.22v5.24h-5.22zM124.93 253.5h5.22v5.24h-5.22zM144.21 253.5h5.22v5.24h-5.22zM168.31 253.5h5.22v5.24h-5.22zM177.96 253.5h5.22v5.24h-5.22zM182.78 253.5h5.22v5.24h-5.22zM187.6 253.5h5.22v5.24h-5.22zM192.42 253.5h5.22v5.24h-5.22zM206.88 253.5h5.22v5.24h-5.22zM211.7 253.5h5.22v5.24h-5.22zM216.52 253.5h5.22v5.24h-5.22zM221.35 253.5h5.22v5.24h-5.22zM226.17 253.5h5.22v5.24h-5.22zM230.99 253.5h5.22v5.24h-5.22zM245.45 253.5h5.22v5.24h-5.22zM250.27 253.5h5.22v5.24h-5.22zM259.91 253.5h5.22v5.24h-5.22zM274.38 253.5h5.22v5.24h-5.22zM279.2 253.5h5.22v5.24h-5.22zM284.02 253.5h5.22v5.24h-5.22zM303.3 253.5h5.22v5.24h-5.22zM322.59 253.5h5.22v5.24h-5.22zM327.41 253.5h5.22v5.24h-5.22zM332.23 253.5h5.22v5.24h-5.22zM337.05 253.5h5.22v5.24h-5.22zM341.87 253.5h5.22v5.24h-5.22zM346.69 253.5h5.22v5.24h-5.22zM351.51 253.5h5.22v5.24h-5.22zM361.15 253.5h5.22v5.24h-5.22zM91.3 258.34h5.1v5.24h-5.1zM100.82 258.34h5.22v5.24h-5.22zM105.64 258.34h5.22v5.24h-5.22zM120.1 258.34h5.22v5.24h-5.22zM153.85 258.34h5.22v5.24h-5.22zM168.31 258.34h5.22v5.24h-5.22zM177.96 258.34h5.22v5.24h-5.22zM182.78 258.34h5.22v5.24h-5.22zM192.42 258.34h5.22v5.24h-5.22zM221.35 258.34h5.22v5.24h-5.22zM226.17 258.34h5.22v5.24h-5.22zM240.63 258.34h5.22v5.24h-5.22zM245.45 258.34h5.22v5.24h-5.22zM250.27 258.34h5.22v5.24h-5.22zM264.74 258.34h5.22v5.24h-5.22zM284.02 258.34h5.22v5.24h-5.22zM332.23 258.34h5.22v5.24h-5.22zM341.87 258.34h5.22v5.24h-5.22zM346.69 258.34h5.22v5.24h-5.22zM351.51 258.34h5.22v5.24h-5.22zM356.33 258.34h5.22v5.24h-5.22zM91.3 263.18h5.1v5.24h-5.1zM115.28 263.18h5.22v5.24h-5.22zM120.1 263.18h5.22v5.24h-5.22zM144.21 263.18h5.22v5.24h-5.22zM149.03 263.18h5.22v5.24h-5.22zM177.96 263.18h5.22v5.24h-5.22zM187.6 263.18h5.22v5.24h-5.22zM192.42 263.18h5.22v5.24h-5.22zM206.88 263.18h5.22v5.24h-5.22zM211.7 263.18h5.22v5.24h-5.22zM221.35 263.18h5.22v5.24h-5.22zM230.99 263.18h5.22v5.24h-5.22zM235.81 263.18h5.22v5.24h-5.22zM240.63 263.18h5.22v5.24h-5.22zM245.45 263.18h5.22v5.24h-5.22zM264.74 263.18h5.22v5.24h-5.22zM274.38 263.18h5.22v5.24h-5.22zM293.66 263.18h5.22v5.24h-5.22zM312.94 263.18h5.22v5.24h-5.22zM322.59 263.18h5.22v5.24h-5.22zM327.41 263.18h5.22v5.24h-5.22zM332.23 263.18h5.22v5.24h-5.22zM337.05 263.18h5.22v5.24h-5.22zM341.87 263.18h5.22v5.24h-5.22zM346.69 263.18h5.22v5.24h-5.22zM351.51 263.18h5.22v5.24h-5.22zM100.82 268.02h5.22v5.24h-5.22zM105.64 268.02h5.22v5.24h-5.22zM110.46 268.02h5.22v5.24h-5.22zM115.28 268.02h5.22v5.24h-5.22zM120.1 268.02h5.22v5.24h-5.22zM124.93 268.02h5.22v5.24h-5.22zM129.75 268.02h5.22v5.24h-5.22zM149.03 268.02h5.22v5.24h-5.22zM177.96 268.02h5.22v5.24h-5.22zM182.78 268.02h5.22v5.24h-5.22zM187.6 268.02h5.22v5.24h-5.22zM197.24 268.02h5.22v5.24h-5.22zM211.7 268.02h5.22v5.24h-5.22zM216.52 268.02h5.22v5.24h-5.22zM226.17 268.02h5.22v5.24h-5.22zM240.63 268.02h5.22v5.24h-5.22zM250.27 268.02h5.22v5.24h-5.22zM269.56 268.02h5.22v5.24h-5.22zM284.02 268.02h5.22v5.24h-5.22zM312.94 268.02h5.22v5.24h-5.22zM322.59 268.02h5.22v5.24h-5.22zM327.41 268.02h5.22v5.24h-5.22zM332.23 268.02h5.22v5.24h-5.22zM337.05 268.02h5.22v5.24h-5.22zM341.87 268.02h5.22v5.24h-5.22zM346.69 268.02h5.22v5.24h-5.22zM351.51 268.02h5.22v5.24h-5.22zM356.33 268.02h5.22v5.24h-5.22zM361.15 268.02h5.22v5.24h-5.22zM365.98 268.02h5.92v5.24h-5.92zM91.3 272.86h5.1v5.24h-5.1zM105.64 272.86h5.22v5.24h-5.22zM115.28 272.86h5.22v5.24h-5.22zM120.1 272.86h5.22v5.24h-5.22zM124.93 272.86h5.22v5.24h-5.22zM129.75 272.86h5.22v5.24h-5.22zM144.21 272.86h5.22v5.24h-5.22zM153.85 272.86h5.22v5.24h-5.22zM158.67 272.86h5.22v5.24h-5.22zM182.78 272.86h5.22v5.24h-5.22zM211.7 272.86h5.22v5.24h-5.22zM221.35 272.86h5.22v5.24h-5.22zM226.17 272.86h5.22v5.24h-5.22zM230.99 272.86h5.22v5.24h-5.22zM235.81 272.86h5.22v5.24h-5.22zM240.63 272.86h5.22v5.24h-5.22zM259.91 272.86h5.22v5.24h-5.22zM264.74 272.86h5.22v5.24h-5.22zM284.02 272.86h5.22v5.24h-5.22zM303.3 272.86h5.22v5.24h-5.22zM312.94 272.86h5.22v5.24h-5.22zM317.77 272.86h5.22v5.24h-5.22zM332.23 272.86h5.22v5.24h-5.22zM341.87 272.86h5.22v5.24h-5.22zM361.15 272.86h5.22v5.24h-5.22zM105.64 277.7h5.22v5.24h-5.22zM124.93 277.7h5.22v5.24h-5.22zM139.39 277.7h5.22v5.24h-5.22zM149.03 277.7h5.22v5.24h-5.22zM158.67 277.7h5.22v5.24h-5.22zM173.14 277.7h5.22v5.24h-5.22zM182.78 277.7h5.22v5.24h-5.22zM197.24 277.7h5.22v5.24h-5.22zM211.7 277.7h5.22v5.24h-5.22zM221.35 277.7h5.22v5.24h-5.22zM230.99 277.7h5.22v5.24h-5.22zM235.81 277.7h5.22v5.24h-5.22zM274.38 277.7h5.22v5.24h-5.22zM284.02 277.7h5.22v5.24h-5.22zM298.48 277.7h5.22v5.24h-5.22zM308.12 277.7h5.22v5.24h-5.22zM312.94 277.7h5.22v5.24h-5.22zM317.77 277.7h5.22v5.24h-5.22zM341.87 277.7h5.22v5.24h-5.22zM346.69 277.7h5.22v5.24h-5.22zM351.51 277.7h5.22v5.24h-5.22zM361.15 277.7h5.22v5.24h-5.22zM365.98 277.7h5.92v5.24h-5.92zM100.82 282.54h5.22v5.24h-5.22zM105.64 282.54h5.22v5.24h-5.22zM129.75 282.54h5.22v5.24h-5.22zM134.57 282.54h5.22v5.24h-5.22zM139.39 282.54h5.22v5.24h-5.22zM144.21 282.54h5.22v5.24h-5.22zM158.67 282.54h5.22v5.24h-5.22zM163.49 282.54h5.22v5.24h-5.22zM197.24 282.54h5.22v5.24h-5.22zM216.52 282.54h5.22v5.24h-5.22zM221.35 282.54h5.22v5.24h-5.22zM230.99 282.54h5.22v5.24h-5.22zM255.09 282.54h5.22v5.24h-5.22zM259.91 282.54h5.22v5.24h-5.22zM288.84 282.54h5.22v5.24h-5.22zM308.12 282.54h5.22v5.24h-5.22zM312.94 282.54h5.22v5.24h-5.22zM317.77 282.54h5.22v5.24h-5.22zM322.59 282.54h5.22v5.24h-5.22zM337.05 282.54h5.22v5.24h-5.22zM341.87 282.54h5.22v5.24h-5.22zM351.51 282.54h5.22v5.24h-5.22zM356.33 282.54h5.22v5.24h-5.22zM361.15 282.54h5.22v5.24h-5.22zM365.98 282.54h5.92v5.24h-5.92zM96 287.38h5.22v5.24h-5.22zM100.82 287.38h5.22v5.24h-5.22zM129.75 287.38h5.22v5.24h-5.22zM134.57 287.38h5.22v5.24h-5.22zM139.39 287.38h5.22v5.24h-5.22zM158.67 287.38h5.22v5.24h-5.22zM163.49 287.38h5.22v5.24h-5.22zM173.14 287.38h5.22v5.24h-5.22zM182.78 287.38h5.22v5.24h-5.22zM192.42 287.38h5.22v5.24h-5.22zM197.24 287.38h5.22v5.24h-5.22zM211.7 287.38h5.22v5.24h-5.22zM216.52 287.38h5.22v5.24h-5.22zM226.17 287.38h5.22v5.24h-5.22zM230.99 287.38h5.22v5.24h-5.22zM255.09 287.38h5.22v5.24h-5.22zM259.91 287.38h5.22v5.24h-5.22zM269.56 287.38h5.22v5.24h-5.22zM274.38 287.38h5.22v5.24h-5.22zM284.02 287.38h5.22v5.24h-5.22zM298.48 287.38h5.22v5.24h-5.22zM308.12 287.38h5.22v5.24h-5.22zM312.94 287.38h5.22v5.24h-5.22zM317.77 287.38h5.22v5.24h-5.22zM322.59 287.38h5.22v5.24h-5.22zM337.05 287.38h5.22v5.24h-5.22zM341.87 287.38h5.22v5.24h-5.22zM346.69 287.38h5.22v5.24h-5.22zM115.28 292.22h5.22v5.24h-5.22zM124.93 292.22h5.22v5.24h-5.22zM129.75 292.22h5.22v5.24h-5.22zM134.57 292.22h5.22v5.24h-5.22zM139.39 292.22h5.22v5.24h-5.22zM177.96 292.22h5.22v5.24h-5.22zM187.6 292.22h5.22v5.24h-5.22zM192.42 292.22h5.22v5.24h-5.22zM221.35 292.22h5.22v5.24h-5.22zM226.17 292.22h5.22v5.24h-5.22zM230.99 292.22h5.22v5.24h-5.22zM245.45 292.22h5.22v5.24h-5.22zM269.56 292.22h5.22v5.24h-5.22zM274.38 292.22h5.22v5.24h-5.22zM298.48 292.22h5.22v5.24h-5.22zM303.3 292.22h5.22v5.24h-5.22zM308.12 292.22h5.22v5.24h-5.22zM317.77 292.22h5.22v5.24h-5.22zM332.23 292.22h5.22v5.24h-5.22zM337.05 292.22h5.22v5.24h-5.22zM341.87 292.22h5.22v5.24h-5.22zM365.98 292.22h5.92v5.24h-5.92zM100.82 297.06h5.22v5.24h-5.22zM105.64 297.06h5.22v5.24h-5.22zM110.46 297.06h5.22v5.24h-5.22zM129.75 297.06h5.22v5.24h-5.22zM177.96 297.06h5.22v5.24h-5.22zM211.7 297.06h5.22v5.24h-5.22zM216.52 297.06h5.22v5.24h-5.22zM221.35 297.06h5.22v5.24h-5.22zM240.63 297.06h5.22v5.24h-5.22zM250.27 297.06h5.22v5.24h-5.22zM255.09 297.06h5.22v5.24h-5.22zM269.56 297.06h5.22v5.24h-5.22zM312.94 297.06h5.22v5.24h-5.22zM317.77 297.06h5.22v5.24h-5.22zM322.59 297.06h5.22v5.24h-5.22zM327.41 297.06h5.22v5.24h-5.22zM332.23 297.06h5.22v5.24h-5.22zM337.05 297.06h5.22v5.24h-5.22zM341.87 297.06h5.22v5.24h-5.22zM346.69 297.06h5.22v5.24h-5.22zM356.33 297.06h5.22v5.24h-5.22zM91.3 301.9h5.1v5.24h-5.1zM96 301.9h5.22v5.24h-5.22zM100.82 301.9h5.22v5.24h-5.22zM105.64 301.9h5.22v5.24h-5.22zM115.28 301.9h5.22v5.24h-5.22zM120.1 301.9h5.22v5.24h-5.22zM124.93 301.9h5.22v5.24h-5.22zM129.75 301.9h5.22v5.24h-5.22zM158.67 301.9h5.22v5.24h-5.22zM168.31 301.9h5.22v5.24h-5.22zM173.14 301.9h5.22v5.24h-5.22zM187.6 301.9h5.22v5.24h-5.22zM197.24 301.9h5.22v5.24h-5.22zM202.06 301.9h5.22v5.24h-5.22zM206.88 301.9h5.22v5.24h-5.22zM216.52 301.9h5.22v5.24h-5.22zM230.99 301.9h5.22v5.24h-5.22zM255.09 301.9h5.22v5.24h-5.22zM259.91 301.9h5.22v5.24h-5.22zM284.02 301.9h5.22v5.24h-5.22zM308.12 301.9h5.22v5.24h-5.22zM312.94 301.9h5.22v5.24h-5.22zM317.77 301.9h5.22v5.24h-5.22zM322.59 301.9h5.22v5.24h-5.22zM327.41 301.9h5.22v5.24h-5.22zM356.33 301.9h5.22v5.24h-5.22zM361.15 301.9h5.22v5.24h-5.22zM96 306.74h5.22v5.24h-5.22zM100.82 306.74h5.22v5.24h-5.22zM124.93 306.74h5.22v5.24h-5.22zM129.75 306.74h5.22v5.24h-5.22zM139.39 306.74h5.22v5.24h-5.22zM144.21 306.74h5.22v5.24h-5.22zM149.03 306.74h5.22v5.24h-5.22zM153.85 306.74h5.22v5.24h-5.22zM173.14 306.74h5.22v5.24h-5.22zM202.06 306.74h5.22v5.24h-5.22zM206.88 306.74h5.22v5.24h-5.22zM211.7 306.74h5.22v5.24h-5.22zM216.52 306.74h5.22v5.24h-5.22zM221.35 306.74h5.22v5.24h-5.22zM226.17 306.74h5.22v5.24h-5.22zM230.99 306.74h5.22v5.24h-5.22zM308.12 306.74h5.22v5.24h-5.22zM317.77 306.74h5.22v5.24h-5.22zM322.59 306.74h5.22v5.24h-5.22zM356.33 306.74h5.22v5.24h-5.22zM361.15 306.74h5.22v5.24h-5.22z"/><path fill="rgb(68,68,68)" d="M110.46 32.3h5.22v3.8h-5.22zM158.67 32.3h5.22v3.8h-5.22zM245.45 32.3h5.22v3.8h-5.22zM250.27 32.3h5.22v3.8h-5.22zM255.09 32.3h5.22v3.8h-5.22zM274.38 32.3h5.22v3.8h-5.22zM317.77 32.3h5.22v3.8h-5.22zM322.59 32.3h5.22v3.8h-5.22zM332.23 32.3h5.22v3.8h-5.22zM337.05 32.3h5.22v3.8h-5.22zM341.87 32.3h5.22v3.8h-5.22zM346.69 32.3h5.22v3.8h-5.22zM100.82 35.7h5.22v5.24h-5.22zM115.28 35.7h5.22v5.24h-5.22zM120.1 35.7h5.22v5.24h-5.22zM168.31 35.7h5.22v5.24h-5.22zM216.52 35.7h5.22v5.24h-5.22zM230.99 35.7h5.22v5.24h-5.22zM356.33 35.7h5.22v5.24h-5.22zM361.15 35.7h5.22v5.24h-5.22zM221.35 40.54h5.22v5.24h-5.22zM240.63 40.54h5.22v5.24h-5.22zM255.09 40.54h5.22v5.24h-5.22zM356.33 40.54h5.22v5.24h-5.22zM361.15 40.54h5.22v5.24h-5.22zM134.57 45.38h5.22v5.24h-5.22zM192.42 45.38h5.22v5.24h-5.22zM197.24 45.38h5.22v5.24h-5.22zM216.52 45.38h5.22v5.24h-5.22zM250.27 45.38h5.22v5.24h-5.22zM255.09 45.38h5.22v5.24h-5.22zM139.39 50.22h5.22v5.24h-5.22zM144.21 50.22h5.22v5.24h-5.22zM259.91 50.22h5.22v5.24h-5.22zM293.66 50.22h5.22v5.24h-5.22zM308.12 50.22h5.22v5.24h-5.22zM115.28 55.06h5.22v5.24h-5.22zM298.48 55.06h5.22v5.24h-5.22zM308.12 55.06h5.22v5.24h-5.22zM337.05 55.06h5.22v5.24h-5.22zM356.33 55.06h5.22v5.24h-5.22zM96 59.9h5.22v5.24h-5.22zM124.93 59.9h5.22v5.24h-5.22zM129.75 59.9h5.22v5.24h-5.22zM144.21 59.9h5.22v5.24h-5.22zM308.12 59.9h5.22v5.24h-5.22zM322.59 59.9h5.22v5.24h-5.22zM327.41 59.9h5.22v5.24h-5.22zM337.05 59.9h5.22v5.24h-5.22zM346.69 59.9h5.22v5.24h-5.22zM351.51 59.9h5.22v5.24h-5.22zM356.33 59.9h5.22v5.24h-5.22zM100.82 64.74h5.22v5.24h-5.22zM105.64 64.74h5.22v5.24h-5.22zM115.28 64.74h5.22v5.24h-5.22zM149.03 64.74h5.22v5.24h-5.22zM202.06 64.74h5.22v5.24h-5.22zM211.7 64.74h5.22v5.24h-5.22zM226.17 64.74h5.22v5.24h-5.22zM322.59 64.74h5.22v5.24h-5.22zM361.15 64.74h5.22v5.24h-5.22zM365.98 64.74h5.92v5.24h-5.92zM96 69.58h5.22v5.24h-5.22zM100.82 69.58h5.22v5.24h-5.22zM153.85 69.58h5.22v5.24h-5.22zM206.88 69.58h5.22v5.24h-5.22zM255.09 69.58h5.22v5.24h-5.22zM259.91 69.58h5.22v5.24h-5.22zM298.48 69.58h5.22v5.24h-5.22zM346.69 69.58h5.22v5.24h-5.22zM351.51 69.58h5.22v5.24h-5.22zM158.67 74.42h5.22v5.24h-5.22zM197.24 74.42h5.22v5.24h-5.22zM312.94 74.42h5.22v5.24h-5.22zM317.77 74.42h5.22v5.24h-5.22zM361.15 74.42h5.22v5.24h-5.22zM365.98 74.42h5.92v5.24h-5.92zM153.85 79.26h5.22v5.24h-5.22zM187.6 79.26h5.22v5.24h-5.22zM221.35 79.26h5.22v5.24h-5.22zM235.81 79.26h5.22v5.24h-5.22zM264.74 79.26h5.22v5.24h-5.22zM269.56 79.26h5.22v5.24h-5.22zM288.84 79.26h5.22v5.24h-5.22zM312.94 79.26h5.22v5.24h-5.22zM322.59 79.26h5.22v5.24h-5.22zM341.87 79.26h5.22v5.24h-5.22zM356.33 79.26h5.22v5.24h-5.22zM361.15 79.26h5.22v5.24h-5.22zM365.98 79.26h5.92v5.24h-5.92zM96 84.1h5.22v5.24h-5.22zM100.82 84.1h5.22v5.24h-5.22zM105.64 84.1h5.22v5.24h-5.22zM163.49 84.1h5.22v5.24h-5.22zM177.96 84.1h5.22v5.24h-5.22zM182.78 84.1h5.22v5.24h-5.22zM240.63 84.1h5.22v5.24h-5.22zM250.27 84.1h5.22v5.24h-5.22zM317.77 84.1h5.22v5.24h-5.22zM327.41 84.1h5.22v5.24h-5.22zM361.15 84.1h5.22v5.24h-5.22zM365.98 84.1h5.92v5.24h-5.92zM115.28 88.94h5.22v5.24h-5.22zM124.93 88.94h5.22v5.24h-5.22zM129.75 88.94h5.22v5.24h-5.22zM177.96 88.94h5.22v5.24h-5.22zM192.42 88.94h5.22v5.24h-5.22zM206.88 88.94h5.22v5.24h-5.22zM255.09 88.94h5.22v5.24h-5.22zM298.48 88.94h5.22v5.24h-5.22zM317.77 88.94h5.22v5.24h-5.22zM322.59 88.94h5.22v5.24h-5.22zM327.41 88.94h5.22v5.24h-5.22zM341.87 88.94h5.22v5.24h-5.22zM91.3 93.78h5.1v5.24h-5.1zM115.28 93.78h5.22v5.24h-5.22zM124.93 93.78h5.22v5.24h-5.22zM129.75 93.78h5.22v5.24h-5.22zM221.35 93.78h5.22v5.24h-5.22zM235.81 93.78h5.22v5.24h-5.22zM274.38 93.78h5.22v5.24h-5.22zM341.87 93.78h5.22v5.24h-5.22zM346.69 93.78h5.22v5.24h-5.22zM197.24 98.62h5.22v5.24h-5.22zM202.06 98.62h5.22v5.24h-5.22zM206.88 98.62h5.22v5.24h-5.22zM211.7 98.62h5.22v5.24h-5.22zM216.52 98.62h5.22v5.24h-5.22zM312.94 98.62h5.22v5.24h-5.22zM317.77 98.62h5.22v5.24h-5.22zM322.59 98.62h5.22v5.24h-5.22zM105.64 103.46h5.22v5.24h-5.22zM139.39 103.46h5.22v5.24h-5.22zM144.21 103.46h5.22v5.24h-5.22zM149.03 103.46h5.22v5.24h-5.22zM168.31 103.46h5.22v5.24h-5.22zM211.7 103.46h5.22v5.24h-5.22zM216.52 103.46h5.22v5.24h-5.22zM221.35 103.46h5.22v5.24h-5.22zM226.17 103.46h5.22v5.24h-5.22zM264.74 103.46h5.22v5.24h-5.22zM284.02 103.46h5.22v5.24h-5.22zM293.66 103.46h5.22v5.24h-5.22zM322.59 103.46h5.22v5.24h-5.22zM351.51 103.46h5.22v5.24h-5.22zM105.64 108.3h5.22v5.24h-5.22zM120.1 108.3h5.22v5.24h-5.22zM144.21 108.3h5.22v5.24h-5.22zM149.03 108.3h5.22v5.24h-5.22zM192.42 108.3h5.22v5.24h-5.22zM226.17 108.3h5.22v5.24h-5.22zM288.84 108.3h5.22v5.24h-5.22zM293.66 108.3h5.22v5.24h-5.22zM346.69 108.3h5.22v5.24h-5.22zM351.51 108.3h5.22v5.24h-5.22zM356.33 108.3h5.22v5.24h-5.22zM96 113.14h5.22v5.24h-5.22zM110.46 113.14h5.22v5.24h-5.22zM240.63 113.14h5.22v5.24h-5.22zM346.69 113.14h5.22v5.24h-5.22zM356.33 113.14h5.22v5.24h-5.22zM96 117.98h5.22v5.24h-5.22zM100.82 117.98h5.22v5.24h-5.22zM211.7 117.98h5.22v5.24h-5.22zM240.63 117.98h5.22v5.24h-5.22zM245.45 117.98h5.22v5.24h-5.22zM211.7 122.82h5.22v5.24h-5.22zM245.45 122.82h5.22v5.24h-5.22zM284.02 122.82h5.22v5.24h-5.22zM288.84 122.82h5.22v5.24h-5.22zM322.59 122.82h5.22v5.24h-5.22zM332.23 122.82h5.22v5.24h-5.22zM337.05 122.82h5.22v5.24h-5.22zM341.87 122.82h5.22v5.24h-5.22zM149.03 127.66h5.22v5.24h-5.22zM153.85 127.66h5.22v5.24h-5.22zM182.78 127.66h5.22v5.24h-5.22zM259.91 127.66h5.22v5.24h-5.22zM341.87 127.66h5.22v5.24h-5.22zM346.69 127.66h5.22v5.24h-5.22zM91.3 132.5h5.1v5.24h-5.1zM96 132.5h5.22v5.24h-5.22zM182.78 132.5h5.22v5.24h-5.22zM259.91 132.5h5.22v5.24h-5.22zM279.2 132.5h5.22v5.24h-5.22zM298.48 132.5h5.22v5.24h-5.22zM332.23 132.5h5.22v5.24h-5.22zM279.2 137.34h5.22v5.24h-5.22zM312.94 137.34h5.22v5.24h-5.22zM327.41 137.34h5.22v5.24h-5.22zM182.78 142.18h5.22v5.24h-5.22zM187.6 142.18h5.22v5.24h-5.22zM192.42 142.18h5.22v5.24h-5.22zM279.2 142.18h5.22v5.24h-5.22zM192.42 147.02h5.22v5.24h-5.22zM245.45 147.02h5.22v5.24h-5.22zM255.09 147.02h5.22v5.24h-5.22zM259.91 147.02h5.22v5.24h-5.22zM124.93 151.86h5.22v5.24h-5.22zM134.57 151.86h5.22v5.24h-5.22zM259.91 151.86h5.22v5.24h-5.22zM365.98 151.86h5.92v5.24h-5.92zM134.57 156.7h5.22v5.24h-5.22zM168.31 156.7h5.22v5.24h-5.22zM259.91 156.7h5.22v5.24h-5.22zM274.38 156.7h5.22v5.24h-5.22zM284.02 156.7h5.22v5.24h-5.22zM91.3 161.54h5.1v5.24h-5.1zM115.28 161.54h5.22v5.24h-5.22zM129.75 161.54h5.22v5.24h-5.22zM168.31 161.54h5.22v5.24h-5.22zM235.81 161.54h5.22v5.24h-5.22zM240.63 161.54h5.22v5.24h-5.22zM269.56 161.54h5.22v5.24h-5.22zM274.38 161.54h5.22v5.24h-5.22zM284.02 161.54h5.22v5.24h-5.22zM100.82 166.38h5.22v5.24h-5.22zM105.64 166.38h5.22v5.24h-5.22zM110.46 166.38h5.22v5.24h-5.22zM115.28 166.38h5.22v5.24h-5.22zM120.1 166.38h5.22v5.24h-5.22zM211.7 166.38h5.22v5.24h-5.22zM327.41 166.38h5.22v5.24h-5.22zM332.23 166.38h5.22v5.24h-5.22zM100.82 171.22h5.22v5.24h-5.22zM124.93 171.22h5.22v5.24h-5.22zM153.85 171.22h5.22v5.24h-5.22zM163.49 171.22h5.22v5.24h-5.22zM303.3 171.22h5.22v5.24h-5.22zM322.59 171.22h5.22v5.24h-5.22zM361.15 171.22h5.22v5.24h-5.22zM100.82 176.06h5.22v5.24h-5.22zM105.64 176.06h5.22v5.24h-5.22zM115.28 176.06h5.22v5.24h-5.22zM153.85 176.06h5.22v5.24h-5.22zM168.31 176.06h5.22v5.24h-5.22zM240.63 176.06h5.22v5.24h-5.22zM255.09 176.06h5.22v5.24h-5.22zM312.94 176.06h5.22v5.24h-5.22zM120.1 180.9h5.22v5.24h-5.22zM163.49 180.9h5.22v5.24h-5.22zM168.31 180.9h5.22v5.24h-5.22zM173.14 180.9h5.22v5.24h-5.22zM226.17 180.9h5.22v5.24h-5.22zM250.27 180.9h5.22v5.24h-5.22zM255.09 180.9h5.22v5.24h-5.22zM303.3 180.9h5.22v5.24h-5.22zM312.94 180.9h5.22v5.24h-5.22zM346.69 180.9h5.22v5.24h-5.22zM351.51 180.9h5.22v5.24h-5.22zM115.28 185.74h5.22v5.24h-5.22zM120.1 185.74h5.22v5.24h-5.22zM124.93 185.74h5.22v5.24h-5.22zM168.31 185.74h5.22v5.24h-5.22zM173.14 185.74h5.22v5.24h-5.22zM177.96 185.74h5.22v5.24h-5.22zM303.3 185.74h5.22v5.24h-5.22zM158.67 195.42h5.22v5.24h-5.22zM173.14 195.42h5.22v5.24h-5.22zM264.74 195.42h5.22v5.24h-5.22zM274.38 195.42h5.22v5.24h-5.22zM284.02 195.42h5.22v5.24h-5.22zM327.41 195.42h5.22v5.24h-5.22zM192.42 200.26h5.22v5.24h-5.22zM197.24 200.26h5.22v5.24h-5.22zM216.52 200.26h5.22v5.24h-5.22zM279.2 200.26h5.22v5.24h-5.22zM303.3 200.26h5.22v5.24h-5.22zM120.1 205.1h5.22v5.24h-5.22zM158.67 205.1h5.22v5.24h-5.22zM173.14 205.1h5.22v5.24h-5.22zM177.96 205.1h5.22v5.24h-5.22zM197.24 205.1h5.22v5.24h-5.22zM206.88 205.1h5.22v5.24h-5.22zM211.7 205.1h5.22v5.24h-5.22zM216.52 205.1h5.22v5.24h-5.22zM279.2 205.1h5.22v5.24h-5.22zM288.84 205.1h5.22v5.24h-5.22zM365.98 205.1h5.92v5.24h-5.92zM91.3 209.94h5.1v5.24h-5.1zM96 209.94h5.22v5.24h-5.22zM115.28 209.94h5.22v5.24h-5.22zM120.1 209.94h5.22v5.24h-5.22zM168.31 209.94h5.22v5.24h-5.22zM177.96 209.94h5.22v5.24h-5.22zM202.06 209.94h5.22v5.24h-5.22zM279.2 209.94h5.22v5.24h-5.22zM288.84 209.94h5.22v5.24h-5.22zM317.77 209.94h5.22v5.24h-5.22zM91.3 214.78h5.1v5.24h-5.1zM163.49 214.78h5.22v5.24h-5.22zM182.78 214.78h5.22v5.24h-5.22zM274.38 214.78h5.22v5.24h-5.22zM279.2 214.78h5.22v5.24h-5.22zM284.02 214.78h5.22v5.24h-5.22zM288.84 214.78h5.22v5.24h-5.22zM293.66 214.78h5.22v5.24h-5.22zM105.64 219.62h5.22v5.24h-5.22zM158.67 219.62h5.22v5.24h-5.22zM163.49 219.62h5.22v5.24h-5.22zM197.24 219.62h5.22v5.24h-5.22zM274.38 219.62h5.22v5.24h-5.22zM279.2 219.62h5.22v5.24h-5.22zM284.02 219.62h5.22v5.24h-5.22zM317.77 219.62h5.22v5.24h-5.22zM120.1 224.46h5.22v5.24h-5.22zM173.14 224.46h5.22v5.24h-5.22zM182.78 224.46h5.22v5.24h-5.22zM221.35 224.46h5.22v5.24h-5.22zM226.17 224.46h5.22v5.24h-5.22zM269.56 224.46h5.22v5.24h-5.22zM182.78 229.3h5.22v5.24h-5.22zM216.52 229.3h5.22v5.24h-5.22zM259.91 229.3h5.22v5.24h-5.22zM264.74 229.3h5.22v5.24h-5.22zM269.56 229.3h5.22v5.24h-5.22zM274.38 229.3h5.22v5.24h-5.22zM308.12 229.3h5.22v5.24h-5.22zM110.46 234.14h5.22v5.24h-5.22zM129.75 234.14h5.22v5.24h-5.22zM177.96 234.14h5.22v5.24h-5.22zM182.78 234.14h5.22v5.24h-5.22zM192.42 234.14h5.22v5.24h-5.22zM197.24 234.14h5.22v5.24h-5.22zM230.99 234.14h5.22v5.24h-5.22zM235.81 234.14h5.22v5.24h-5.22zM240.63 234.14h5.22v5.24h-5.22zM298.48 234.14h5.22v5.24h-5.22zM91.3 238.98h5.1v5.24h-5.1zM124.93 238.98h5.22v5.24h-5.22zM149.03 238.98h5.22v5.24h-5.22zM221.35 238.98h5.22v5.24h-5.22zM226.17 238.98h5.22v5.24h-5.22zM230.99 238.98h5.22v5.24h-5.22zM235.81 238.98h5.22v5.24h-5.22zM308.12 238.98h5.22v5.24h-5.22zM351.51 238.98h5.22v5.24h-5.22zM91.3 243.82h5.1v5.24h-5.1zM129.75 243.82h5.22v5.24h-5.22zM173.14 243.82h5.22v5.24h-5.22zM230.99 243.82h5.22v5.24h-5.22zM341.87 243.82h5.22v5.24h-5.22zM346.69 243.82h5.22v5.24h-5.22zM351.51 243.82h5.22v5.24h-5.22zM115.28 248.66h5.22v5.24h-5.22zM158.67 248.66h5.22v5.24h-5.22zM163.49 248.66h5.22v5.24h-5.22zM173.14 248.66h5.22v5.24h-5.22zM197.24 248.66h5.22v5.24h-5.22zM221.35 248.66h5.22v5.24h-5.22zM230.99 248.66h5.22v5.24h-5.22zM250.27 248.66h5.22v5.24h-5.22zM346.69 248.66h5.22v5.24h-5.22zM365.98 248.66h5.92v5.24h-5.92zM91.3 253.5h5.1v5.24h-5.1zM110.46 253.5h5.22v5.24h-5.22zM115.28 253.5h5.22v5.24h-5.22zM120.1 253.5h5.22v5.24h-5.22zM153.85 253.5h5.22v5.24h-5.22zM158.67 253.5h5.22v5.24h-5.22zM308.12 253.5h5.22v5.24h-5.22zM96 258.34h5.22v5.24h-5.22zM115.28 258.34h5.22v5.24h-5.22zM173.14 258.34h5.22v5.24h-5.22zM274.38 258.34h5.22v5.24h-5.22zM279.2 258.34h5.22v5.24h-5.22zM337.05 258.34h5.22v5.24h-5.22zM96 263.18h5.22v5.24h-5.22zM100.82 263.18h5.22v5.24h-5.22zM105.64 263.18h5.22v5.24h-5.22zM269.56 263.18h5.22v5.24h-5.22zM153.85 268.02h5.22v5.24h-5.22zM230.99 268.02h5.22v5.24h-5.22zM245.45 268.02h5.22v5.24h-5.22zM202.06 272.86h5.22v5.24h-5.22zM206.88 272.86h5.22v5.24h-5.22zM216.52 272.86h5.22v5.24h-5.22zM293.66 272.86h5.22v5.24h-5.22zM298.48 272.86h5.22v5.24h-5.22zM322.59 272.86h5.22v5.24h-5.22zM346.69 272.86h5.22v5.24h-5.22zM351.51 272.86h5.22v5.24h-5.22zM168.31 277.7h5.22v5.24h-5.22zM192.42 277.7h5.22v5.24h-5.22zM206.88 277.7h5.22v5.24h-5.22zM216.52 277.7h5.22v5.24h-5.22zM293.66 277.7h5.22v5.24h-5.22zM322.59 277.7h5.22v5.24h-5.22zM327.41 277.7h5.22v5.24h-5.22zM332.23 277.7h5.22v5.24h-5.22zM91.3 282.54h5.1v5.24h-5.1zM96 282.54h5.22v5.24h-5.22zM153.85 282.54h5.22v5.24h-5.22zM168.31 282.54h5.22v5.24h-5.22zM173.14 282.54h5.22v5.24h-5.22zM206.88 282.54h5.22v5.24h-5.22zM211.7 282.54h5.22v5.24h-5.22zM293.66 282.54h5.22v5.24h-5.22zM327.41 282.54h5.22v5.24h-5.22zM332.23 282.54h5.22v5.24h-5.22zM105.64 287.38h5.22v5.24h-5.22zM168.31 287.38h5.22v5.24h-5.22zM327.41 287.38h5.22v5.24h-5.22zM351.51 287.38h5.22v5.24h-5.22zM356.33 287.38h5.22v5.24h-5.22zM361.15 287.38h5.22v5.24h-5.22zM365.98 287.38h5.92v5.24h-5.92zM206.88 292.22h5.22v5.24h-5.22zM211.7 292.22h5.22v5.24h-5.22zM327.41 292.22h5.22v5.24h-5.22zM182.78 297.06h5.22v5.24h-5.22zM308.12 297.06h5.22v5.24h-5.22zM351.51 297.06h5.22v5.24h-5.22zM365.98 297.06h5.92v5.24h-5.92zM110.46 301.9h5.22v5.24h-5.22zM134.57 301.9h5.22v5.24h-5.22zM139.39 301.9h5.22v5.24h-5.22zM144.21 301.9h5.22v5.24h-5.22zM149.03 301.9h5.22v5.24h-5.22zM163.49 301.9h5.22v5.24h-5.22zM221.35 301.9h5.22v5.24h-5.22zM226.17 301.9h5.22v5.24h-5.22zM240.63 301.9h5.22v5.24h-5.22zM250.27 301.9h5.22v5.24h-5.22zM264.74 301.9h5.22v5.24h-5.22zM351.51 301.9h5.22v5.24h-5.22zM365.98 301.9h5.92v5.24h-5.92zM91.3 306.74h5.1v5.24h-5.1zM134.57 306.74h5.22v5.24h-5.22zM158.67 306.74h5.22v5.24h-5.22zM235.81 306.74h5.22v5.24h-5.22zM240.63 306.74h5.22v5.24h-5.22zM245.45 306.74h5.22v5.24h-5.22zM259.91 306.74h5.22v5.24h-5.22zM264.74 306.74h5.22v5.24h-5.22zM365.98 306.74h5.92v5.24h-5.92z"/><path fill="rgb(90,90,90)" d="M100.82 32.3h5.22v3.8h-5.22zM351.51 32.3h5.22v3.8h-5.22zM173.14 35.7h5.22v5.24h-5.22zM197.24 35.7h5.22v5.24h-5.22zM202.06 35.7h5.22v5.24h-5.22zM149.03 40.54h5.22v5.24h-5.22zM202.06 40.54h5.22v5.24h-5.22zM288.84 40.54h5.22v5.24h-5.22zM293.66 40.54h5.22v5.24h-5.22zM202.06 45.38h5.22v5.24h-5.22zM221.35 45.38h5.22v5.24h-5.22zM293.66 45.38h5.22v5.24h-5.22zM100.82 50.22h5.22v5.24h-5.22zM298.48 50.22h5.22v5.24h-5.22zM327.41 50.22h5.22v5.24h-5.22zM91.3 55.06h5.1v5.24h-5.1zM96 55.06h5.22v5.24h-5.22zM327.41 55.06h5.22v5.24h-5.22zM317.77 59.9h5.22v5.24h-5.22zM139.39 64.74h5.22v5.24h-5.22zM206.88 64.74h5.22v5.24h-5.22zM230.99 64.74h5.22v5.24h-5.22zM351.51 64.74h5.22v5.24h-5.22zM356.33 64.74h5.22v5.24h-5.22zM105.64 69.58h5.22v5.24h-5.22zM187.6 69.58h5.22v5.24h-5.22zM327.41 69.58h5.22v5.24h-5.22zM365.98 69.58h5.92v5.24h-5.92zM163.49 74.42h5.22v5.24h-5.22zM202.06 74.42h5.22v5.24h-5.22zM221.35 74.42h5.22v5.24h-5.22zM264.74 74.42h5.22v5.24h-5.22zM269.56 74.42h5.22v5.24h-5.22zM100.82 79.26h5.22v5.24h-5.22zM105.64 79.26h5.22v5.24h-5.22zM346.69 79.26h5.22v5.24h-5.22zM120.1 88.94h5.22v5.24h-5.22zM365.98 88.94h5.92v5.24h-5.92zM269.56 93.78h5.22v5.24h-5.22zM96 98.62h5.22v5.24h-5.22zM100.82 98.62h5.22v5.24h-5.22zM163.49 98.62h5.22v5.24h-5.22zM274.38 98.62h5.22v5.24h-5.22zM341.87 98.62h5.22v5.24h-5.22zM100.82 103.46h5.22v5.24h-5.22zM100.82 113.14h5.22v5.24h-5.22zM173.14 113.14h5.22v5.24h-5.22zM327.41 113.14h5.22v5.24h-5.22zM341.87 113.14h5.22v5.24h-5.22zM351.51 113.14h5.22v5.24h-5.22zM240.63 122.82h5.22v5.24h-5.22zM115.28 132.5h5.22v5.24h-5.22zM120.1 132.5h5.22v5.24h-5.22zM332.23 137.34h5.22v5.24h-5.22zM288.84 142.18h5.22v5.24h-5.22zM361.15 147.02h5.22v5.24h-5.22zM211.7 151.86h5.22v5.24h-5.22zM221.35 151.86h5.22v5.24h-5.22zM255.09 151.86h5.22v5.24h-5.22zM264.74 151.86h5.22v5.24h-5.22zM269.56 151.86h5.22v5.24h-5.22zM120.1 156.7h5.22v5.24h-5.22zM124.93 156.7h5.22v5.24h-5.22zM202.06 156.7h5.22v5.24h-5.22zM120.1 161.54h5.22v5.24h-5.22zM332.23 161.54h5.22v5.24h-5.22zM134.57 166.38h5.22v5.24h-5.22zM139.39 166.38h5.22v5.24h-5.22zM144.21 171.22h5.22v5.24h-5.22zM221.35 171.22h5.22v5.24h-5.22zM230.99 171.22h5.22v5.24h-5.22zM240.63 171.22h5.22v5.24h-5.22zM124.93 180.9h5.22v5.24h-5.22zM129.75 180.9h5.22v5.24h-5.22zM158.67 180.9h5.22v5.24h-5.22zM235.81 180.9h5.22v5.24h-5.22zM298.48 180.9h5.22v5.24h-5.22zM351.51 185.74h5.22v5.24h-5.22zM303.3 195.42h5.22v5.24h-5.22zM202.06 200.26h5.22v5.24h-5.22zM264.74 200.26h5.22v5.24h-5.22zM274.38 200.26h5.22v5.24h-5.22zM202.06 205.1h5.22v5.24h-5.22zM264.74 205.1h5.22v5.24h-5.22zM269.56 205.1h5.22v5.24h-5.22zM274.38 205.1h5.22v5.24h-5.22zM341.87 205.1h5.22v5.24h-5.22zM274.38 209.94h5.22v5.24h-5.22zM298.48 209.94h5.22v5.24h-5.22zM168.31 214.78h5.22v5.24h-5.22zM216.52 219.62h5.22v5.24h-5.22zM221.35 219.62h5.22v5.24h-5.22zM226.17 219.62h5.22v5.24h-5.22zM303.3 219.62h5.22v5.24h-5.22zM115.28 224.46h5.22v5.24h-5.22zM216.52 224.46h5.22v5.24h-5.22zM110.46 229.3h5.22v5.24h-5.22zM115.28 229.3h5.22v5.24h-5.22zM120.1 229.3h5.22v5.24h-5.22zM124.93 229.3h5.22v5.24h-5.22zM115.28 234.14h5.22v5.24h-5.22zM308.12 234.14h5.22v5.24h-5.22zM120.1 238.98h5.22v5.24h-5.22zM129.75 238.98h5.22v5.24h-5.22zM144.21 238.98h5.22v5.24h-5.22zM240.63 238.98h5.22v5.24h-5.22zM255.09 238.98h5.22v5.24h-5.22zM322.59 238.98h5.22v5.24h-5.22zM139.39 243.82h5.22v5.24h-5.22zM250.27 243.82h5.22v5.24h-5.22zM105.64 248.66h5.22v5.24h-5.22zM163.49 253.5h5.22v5.24h-5.22zM173.14 253.5h5.22v5.24h-5.22zM264.74 253.5h5.22v5.24h-5.22zM269.56 253.5h5.22v5.24h-5.22zM269.56 258.34h5.22v5.24h-5.22zM250.27 263.18h5.22v5.24h-5.22zM279.2 263.18h5.22v5.24h-5.22zM356.33 263.18h5.22v5.24h-5.22zM361.15 263.18h5.22v5.24h-5.22zM274.38 268.02h5.22v5.24h-5.22zM279.2 268.02h5.22v5.24h-5.22zM139.39 272.86h5.22v5.24h-5.22zM274.38 272.86h5.22v5.24h-5.22zM279.2 272.86h5.22v5.24h-5.22zM327.41 272.86h5.22v5.24h-5.22zM337.05 272.86h5.22v5.24h-5.22zM134.57 277.7h5.22v5.24h-5.22zM153.85 277.7h5.22v5.24h-5.22zM202.06 277.7h5.22v5.24h-5.22zM303.3 277.7h5.22v5.24h-5.22zM337.05 277.7h5.22v5.24h-5.22zM202.06 282.54h5.22v5.24h-5.22zM346.69 282.54h5.22v5.24h-5.22zM110.46 287.38h5.22v5.24h-5.22zM332.23 287.38h5.22v5.24h-5.22zM120.1 292.22h5.22v5.24h-5.22zM351.51 292.22h5.22v5.24h-5.22zM356.33 292.22h5.22v5.24h-5.22zM361.15 292.22h5.22v5.24h-5.22zM226.17 297.06h5.22v5.24h-5.22zM230.99 297.06h5.22v5.24h-5.22zM163.49 306.74h5.22v5.24h-5.22zM168.31 306.74h5.22v5.24h-5.22z"/><path fill="rgb(112,112,112)" d="M259.91 45.38h5.22v5.24h-5.22zM264.74 45.38h5.22v5.24h-5.22zM91.3 50.22h5.1v5.24h-5.1zM100.82 55.06h5.22v5.24h-5.22zM144.21 64.74h5.22v5.24h-5.22zM327.41 64.74h5.22v5.24h-5.22zM332.23 64.74h5.22v5.24h-5.22zM149.03 69.58h5.22v5.24h-5.22zM332.23 69.58h5.22v5.24h-5.22zM361.15 69.58h5.22v5.24h-5.22zM153.85 74.42h5.22v5.24h-5.22zM298.48 74.42h5.22v5.24h-5.22zM351.51 74.42h5.22v5.24h-5.22zM158.67 79.26h5.22v5.24h-5.22zM168.31 79.26h5.22v5.24h-5.22zM298.48 84.1h5.22v5.24h-5.22zM250.27 88.94h5.22v5.24h-5.22zM259.91 88.94h5.22v5.24h-5.22zM259.91 93.78h5.22v5.24h-5.22zM96 103.46h5.22v5.24h-5.22zM96 137.34h5.22v5.24h-5.22zM96 142.18h5.22v5.24h-5.22zM356.33 142.18h5.22v5.24h-5.22zM361.15 142.18h5.22v5.24h-5.22zM96 147.02h5.22v5.24h-5.22zM100.82 147.02h5.22v5.24h-5.22zM206.88 156.7h5.22v5.24h-5.22zM216.52 156.7h5.22v5.24h-5.22zM264.74 156.7h5.22v5.24h-5.22zM206.88 161.54h5.22v5.24h-5.22zM211.7 161.54h5.22v5.24h-5.22zM230.99 166.38h5.22v5.24h-5.22zM240.63 166.38h5.22v5.24h-5.22zM158.67 176.06h5.22v5.24h-5.22zM235.81 176.06h5.22v5.24h-5.22zM298.48 185.74h5.22v5.24h-5.22zM269.56 195.42h5.22v5.24h-5.22zM293.66 205.1h5.22v5.24h-5.22zM284.02 209.94h5.22v5.24h-5.22zM293.66 209.94h5.22v5.24h-5.22zM303.3 209.94h5.22v5.24h-5.22zM298.48 214.78h5.22v5.24h-5.22zM105.64 224.46h5.22v5.24h-5.22zM110.46 224.46h5.22v5.24h-5.22zM120.1 234.14h5.22v5.24h-5.22zM124.93 234.14h5.22v5.24h-5.22zM255.09 234.14h5.22v5.24h-5.22zM139.39 238.98h5.22v5.24h-5.22zM144.21 248.66h5.22v5.24h-5.22zM149.03 248.66h5.22v5.24h-5.22zM105.64 292.22h5.22v5.24h-5.22zM110.46 292.22h5.22v5.24h-5.22zM115.28 297.06h5.22v5.24h-5.22zM120.1 297.06h5.22v5.24h-5.22zM245.45 301.9h5.22v5.24h-5.22zM250.27 306.74h5.22v5.24h-5.22zM255.09 306.74h5.22v5.24h-5.22z"/><path fill="rgb(135,135,135)" d="M197.24 40.54h5.22v5.24h-5.22zM341.87 69.58h5.22v5.24h-5.22zM337.05 74.42h5.22v5.24h-5.22zM341.87 74.42h5.22v5.24h-5.22zM163.49 79.26h5.22v5.24h-5.22zM351.51 79.26h5.22v5.24h-5.22zM91.3 142.18h5.1v5.24h-5.1zM100.82 142.18h5.22v5.24h-5.22zM356.33 147.02h5.22v5.24h-5.22zM202.06 151.86h5.22v5.24h-5.22zM96 161.54h5.22v5.24h-5.22zM230.99 161.54h5.22v5.24h-5.22zM216.52 166.38h5.22v5.24h-5.22zM221.35 166.38h5.22v5.24h-5.22zM226.17 171.22h5.22v5.24h-5.22zM120.1 176.06h5.22v5.24h-5.22zM124.93 176.06h5.22v5.24h-5.22zM163.49 176.06h5.22v5.24h-5.22zM284.02 205.1h5.22v5.24h-5.22zM303.3 214.78h5.22v5.24h-5.22zM134.57 238.98h5.22v5.24h-5.22zM153.85 248.66h5.22v5.24h-5.22zM235.81 301.9h5.22v5.24h-5.22z"/><path fill="rgb(160,160,160)" d="M337.05 69.58h5.22v5.24h-5.22zM346.69 74.42h5.22v5.24h-5.22zM91.3 137.34h5.1v5.24h-5.1zM269.56 200.26h5.22v5.24h-5.22zM149.03 243.82h5.22v5.24h-5.22z"/><path fill="rgb(190,190,190)" d="M235.81 166.38h5.22v5.24h-5.22z"/><path fill="rgb(215,215,215)" d="M211.7 156.7h5.22v5.24h-5.22zM221.35 156.7h5.22v5.24h-5.22zM235.81 171.22h5.22v5.24h-5.22zM144.21 243.82h5.22v5.24h-5.22z"/><path fill="rgb(240,240,240)" d="M216.52 161.54h5.22v5.24h-5.22zM221.35 161.54h5.22v5.24h-5.22zM226.17 161.54h5.22v5.24h-5.22zM226.17 166.38h5.22v5.24h-5.22z"/></g>
<rect x="91.5" y="32.5" width="280" height="280" stroke="#000" stroke-width="1.11" fill="none"/>
<path d="M225.23 166.43L233.57 174.77M225.23 174.77L233.57 166.43" stroke="#ff0000" stroke-width="1.39" fill="none"/>
<path d="M184.23 185.53L192.57 193.87M184.23 193.87L192.57 185.53" stroke="#0000ff" stroke-width="1.39" fill="none"/>
<g transform="translate(232.4,23.5)"><text x="-21.37" y="0" font-size="17.67" textLength="41.48" lengthAdjust="spacingAndGlyphs" fill="#000">Filter</text></g>
<line x1="86.64" y1="71.9" x2="91.5" y2="71.4" stroke="#000" stroke-width="1.11" />
<g transform="translate(80.7,74.9)"><text x="-49.86" y="0" font-size="14.72" textLength="50.68" lengthAdjust="spacingAndGlyphs" fill="#000">-50°45'</text></g>
<line x1="86.64" y1="136" x2="91.5" y2="135.5" stroke="#000" stroke-width="1.11" />
<g transform="translate(80.7,138.7)"><text x="-49.86" y="0" font-size="14.72" textLength="50.68" lengthAdjust="spacingAndGlyphs" fill="#000">-51°00'</text></g>
<line x1="86.64" y1="199.1" x2="91.5" y2="198.6" stroke="#000" stroke-width="1.11" />
<g transform="translate(80.7,201.9)"><text x="-19.83" y="0" font-size="14.72" textLength="20.64" lengthAdjust="spacingAndGlyphs" fill="#000">15'</text></g>
<line x1="86.64" y1="263" x2="91.5" y2="262.5" stroke="#000" stroke-width="1.11" />
<g transform="translate(80.7,265.6)"><text x="-19.72" y="0" font-size="14.72" textLength="20.52" lengthAdjust="spacingAndGlyphs" fill="#000">30'</text></g>
<g transform="translate(21.2,174.9) rotate(-90)"><text x="-13.55" y="0" font-size="14.72" textLength="26.29" lengthAdjust="spacingAndGlyphs" fill="#000">Dec</text></g>
<line x1="90.4" y1="281" x2="90.4" y2="285.5" stroke="#000" stroke-width="1.0" />
<line x1="142.6" y1="32.5" x2="141.8" y2="27.64" stroke="#000" stroke-width="1.11" />
<line x1="230.2" y1="32.5" x2="229.4" y2="27.64" stroke="#000" stroke-width="1.11" />
<line x1="318.4" y1="32.5" x2="317.6" y2="27.64" stroke="#000" stroke-width="1.11" />
<line x1="96.7" y1="312.5" x2="97.5" y2="317.36" stroke="#000" stroke-width="1.11" />
<line x1="181.4" y1="312.5" x2="182.2" y2="317.36" stroke="#000" stroke-width="1.11" />
<line x1="267.5" y1="312.5" x2="268.3" y2="317.36" stroke="#000" stroke-width="1.11" />
<line x1="354.1" y1="312.5" x2="354.9" y2="317.36" stroke="#000" stroke-width="1.11" />
<line x1="371.5" y1="50.4" x2="376.36" y2="50.7" stroke="#000" stroke-width="1.11" />
<line x1="371.5" y1="114.9" x2="376.36" y2="115.2" stroke="#000" stroke-width="1.11" />
<line x1="371.5" y1="177.8" x2="376.36" y2="178.1" stroke="#000" stroke-width="1.11" />
<line x1="371.5" y1="241.8" x2="376.36" y2="242.1" stroke="#000" stroke-width="1.11" />
<line x1="371.5" y1="305.3" x2="376.36" y2="305.6" stroke="#000" stroke-width="1.11" />
<defs><linearGradient id="gray" x1="0" y1="1" x2="0" y2="0"><stop offset="0" stop-color="#000"/><stop offset="1" stop-color="#fff"/></linearGradient></defs>
<rect x="380.5" y="32.5" width="9" height="280" fill="url(#gray)"/>
<rect x="380.5" y="32.5" width="9" height="280" stroke="#000" stroke-width="1.11" fill="none"/>
<line x1="389.5" y1="294.4" x2="394.36" y2="294.4" stroke="#000" stroke-width="1.11" />
<g transform="translate(400.7,299.6)"><text x="-1.05" y="0" font-size="14.72" textLength="7.77" lengthAdjust="spacingAndGlyphs" fill="#000">1</text></g>
<line x1="389.5" y1="262.15" x2="394.36" y2="262.15" stroke="#000" stroke-width="1.11" />
<g transform="translate(400.7,267.35)"><text x="-0.71" y="0" font-size="14.72" textLength="7.89" lengthAdjust="spacingAndGlyphs" fill="#000">2</text></g>
<line x1="389.5" y1="229.9" x2="394.36" y2="229.9" stroke="#000" stroke-width="1.11" />
<g transform="translate(400.7,235.1)"><text x="-0.53" y="0" font-size="14.72" textLength="7.85" lengthAdjust="spacingAndGlyphs" fill="#000">3</text></g>
<line x1="389.5" y1="197.65" x2="394.36" y2="197.65" stroke="#000" stroke-width="1.11" />
<g transform="translate(400.7,202.85)"><text x="-0.33" y="0" font-size="14.72" textLength="8.15" lengthAdjust="spacingAndGlyphs" fill="#000">4</text></g>
<line x1="389.5" y1="165.4" x2="394.36" y2="165.4" stroke="#000" stroke-width="1.11" />
<g transform="translate(400.7,170.6)"><text x="-0.55" y="0" font-size="14.72" textLength="7.68" lengthAdjust="spacingAndGlyphs" fill="#000">5</text></g>
<line x1="389.5" y1="133.15" x2="394.36" y2="133.15" stroke="#000" stroke-width="1.11" />
<g transform="translate(400.7,138.35)"><text x="-0.75" y="0" font-size="14.72" textLength="8.39" lengthAdjust="spacingAndGlyphs" fill="#000">6</text></g>
<line x1="389.5" y1="100.9" x2="394.36" y2="100.9" stroke="#000" stroke-width="1.11" />
<g transform="translate(400.7,106.1)"><text x="-0.71" y="0" font-size="14.72" textLength="7.94" lengthAdjust="spacingAndGlyphs" fill="#000">7</text></g>
<line x1="389.5" y1="68.65" x2="394.36" y2="68.65" stroke="#000" stroke-width="1.11" />
<g transform="translate(400.7,73.85)"><text x="-0.63" y="0" font-size="14.72" textLength="8.22" lengthAdjust="spacingAndGlyphs" fill="#000">8</text></g>
<line x1="389.5" y1="36.4" x2="394.36" y2="36.4" stroke="#000" stroke-width="1.11" />
<g transform="translate(400.7,41.6)"><text x="-0.72" y="0" font-size="14.72" textLength="8.39" lengthAdjust="spacingAndGlyphs" fill="#000">9</text></g>
<g transform="translate(422.8,172.5) rotate(-90)"><text x="-49.46" y="0" font-size="14.72" textLength="98.8" lengthAdjust="spacingAndGlyphs" fill="#000">arbitrary units</text></g>
<line x1="470.5" y1="237" x2="830.5" y2="237" stroke="#000" stroke-width="2.08" stroke-dasharray="7.7 3.33"/>
<line x1="470.5" y1="260.6" x2="830.5" y2="260.6" stroke="#000" stroke-width="2.08" stroke-dasharray="7.7 3.33"/>
<line x1="470.5" y1="283.8" x2="830.5" y2="283.8" stroke="#000" stroke-width="2.08" stroke-dasharray="7.7 3.33"/>
<polyline fill="none" stroke="#1f77b4" stroke-width="2.08" stroke-linejoin="round" stroke-linecap="butt" points="470.5,260.3 485.5,242.8 500.5,263 515.5,242.8 530.5,272.4 545.5,294.9 560.5,250.4 575.5,44.5 590.5,283.2 605.5,299.2 620.5,288.1 635.5,224.4 650.5,270 665.5,251.5 680.5,274 695.5,290.2 710.5,248.2 725.5,245.3 740.5,281.8 755.5,256.2 770.5,247.5 785.5,258.2 800.5,257.1 815.5,272.1 830.5,258.7"/>
<rect x="470.5" y="32.5" width="360" height="280" stroke="#000" stroke-width="1.11" fill="none"/>
<g transform="translate(649.9,24.1)"><text x="-48.32" y="0" font-size="17.67" textLength="95.92" lengthAdjust="spacingAndGlyphs" fill="#000">Light Curve</text></g>
<line x1="470.5" y1="312.5" x2="470.5" y2="317.36" stroke="#000" stroke-width="1.11" />
<g transform="translate(470.5,332.6)"><text x="-4.09" y="0" font-size="14.72" textLength="8.17" lengthAdjust="spacingAndGlyphs" fill="#000">0</text></g>
<line x1="545.5" y1="312.5" x2="545.5" y2="317.36" stroke="#000" stroke-width="1.11" />
<g transform="translate(545.5,332.6)"><text x="-8.65" y="0" font-size="14.72" textLength="17.15" lengthAdjust="spacingAndGlyphs" fill="#000">20</text></g>
<line x1="620.5" y1="312.5" x2="620.5" y2="317.36" stroke="#000" stroke-width="1.11" />
<g transform="translate(620.5,332.6)"><text x="-8.4" y="0" font-size="14.72" textLength="17.07" lengthAdjust="spacingAndGlyphs" fill="#000">40</text></g>
<line x1="695.5" y1="312.5" x2="695.5" y2="317.36" stroke="#000" stroke-width="1.11" />
<g transform="translate(695.5,332.6)"><text x="-8.67" y="0" font-size="14.72" textLength="17.19" lengthAdjust="spacingAndGlyphs" fill="#000">60</text></g>
<line x1="770.5" y1="312.5" x2="770.5" y2="317.36" stroke="#000" stroke-width="1.11" />
<g transform="translate(770.5,332.6)"><text x="-8.57" y="0" font-size="14.72" textLength="17.1" lengthAdjust="spacingAndGlyphs" fill="#000">80</text></g>
<g transform="translate(649.8,352.8)"><text x="-28.03" y="0" font-size="14.72" textLength="56.66" lengthAdjust="spacingAndGlyphs" fill="#000">Time (s)</text></g>
<line x1="830.5" y1="261.1" x2="835.36" y2="261.1" stroke="#000" stroke-width="1.11" />
<g transform="translate(840.8,266.4)"><text x="-0.59" y="0" font-size="14.72" textLength="8.17" lengthAdjust="spacingAndGlyphs" fill="#000">0</text></g>
<line x1="830.5" y1="206.37" x2="835.36" y2="206.37" stroke="#000" stroke-width="1.11" />
<g transform="translate(840.8,211.67)"><text x="-0.62" y="0" font-size="14.72" textLength="25.72" lengthAdjust="spacingAndGlyphs" fill="#000">500</text></g>
<line x1="830.5" y1="151.64" x2="835.36" y2="151.64" stroke="#000" stroke-width="1.11" />
<g transform="translate(840.8,156.94)"><text x="-1.17" y="0" font-size="14.72" textLength="34.71" lengthAdjust="spacingAndGlyphs" fill="#000">1000</text></g>
<line x1="830.5" y1="96.91" x2="835.36" y2="96.91" stroke="#000" stroke-width="1.11" />
<g transform="translate(840.8,102.21)"><text x="-1.17" y="0" font-size="14.72" textLength="34.71" lengthAdjust="spacingAndGlyphs" fill="#000">1500</text></g>
<line x1="830.5" y1="42.18" x2="835.36" y2="42.18" stroke="#000" stroke-width="1.11" />
<g transform="translate(840.8,47.48)"><text x="-0.78" y="0" font-size="14.72" textLength="34.84" lengthAdjust="spacingAndGlyphs" fill="#000">2000</text></g>
<g transform="translate(889.6,172.9) rotate(-90)"><text x="-79.59" y="0" font-size="14.72" textLength="158.85" lengthAdjust="spacingAndGlyphs" fill="#000">Brightness (mJy/beam)</text></g>
<defs><clipPath id="gclip"><rect x="91.5" y="364.8" width="280" height="278.8"/></clipPath><filter id="gblur" x="-10%" y="-10%" width="120%" height="120%" color-interpolation-filters="sRGB"><feGaussianBlur stdDeviation="2.6"/><feComponentTransfer><feFuncR type="linear" slope="1.2" intercept="-0.04"/><feFuncG type="linear" slope="1.2" intercept="-0.04"/><feFuncB type="linear" slope="1.2" intercept="-0.04"/></feComponentTransfer></filter></defs>
<g clip-path="url(#gclip)"><g filter="url(#gblur)"><path fill="rgb(0,0,0)" d="M196.5 371.8h7.6v7.6h-7.6zM196.5 378.8h7.6v7.6h-7.6zM105.5 406.8h7.6v7.6h-7.6zM154.5 406.8h7.6v7.6h-7.6zM301.5 406.8h7.6v7.6h-7.6zM154.5 413.8h7.6v7.6h-7.6zM301.5 413.8h7.6v7.6h-7.6zM231.5 448.8h7.6v7.6h-7.6zM329.5 448.8h7.6v7.6h-7.6zM329.5 455.8h7.6v7.6h-7.6zM224.5 462.8h7.6v7.6h-7.6zM98.5 469.8h7.6v7.6h-7.6zM273.5 490.8h7.6v7.6h-7.6zM161.5 497.8h7.6v7.6h-7.6zM308.5 497.8h7.6v7.6h-7.6zM315.5 497.8h7.6v7.6h-7.6zM133.5 504.8h7.6v7.6h-7.6zM161.5 504.8h7.6v7.6h-7.6zM203.5 511.8h7.6v7.6h-7.6zM364.5 525.8h7.6v7.6h-7.6zM371.5 525.8h7.6v7.6h-7.6zM378.5 525.8h7.6v7.6h-7.6zM105.5 532.8h7.6v7.6h-7.6zM336.5 532.8h7.6v7.6h-7.6zM105.5 539.8h7.6v7.6h-7.6zM189.5 553.8h7.6v7.6h-7.6zM217.5 553.8h7.6v7.6h-7.6zM224.5 553.8h7.6v7.6h-7.6zM266.5 553.8h7.6v7.6h-7.6zM259.5 581.8h7.6v7.6h-7.6zM231.5 602.8h7.6v7.6h-7.6zM189.5 609.8h7.6v7.6h-7.6zM266.5 616.8h7.6v7.6h-7.6zM224.5 623.8h7.6v7.6h-7.6z"/><path fill="rgb(14,14,14)" d="M126.5 350.8h7.6v7.6h-7.6zM147.5 350.8h7.6v7.6h-7.6zM175.5 350.8h7.6v7.6h-7.6zM189.5 350.8h7.6v7.6h-7.6zM196.5 350.8h7.6v7.6h-7.6zM126.5 357.8h7.6v7.6h-7.6zM147.5 357.8h7.6v7.6h-7.6zM175.5 357.8h7.6v7.6h-7.6zM189.5 357.8h7.6v7.6h-7.6zM196.5 357.8h7.6v7.6h-7.6zM126.5 364.8h7.6v7.6h-7.6zM147.5 364.8h7.6v7.6h-7.6zM175.5 364.8h7.6v7.6h-7.6zM189.5 364.8h7.6v7.6h-7.6zM196.5 364.8h7.6v7.6h-7.6zM119.5 371.8h7.6v7.6h-7.6zM126.5 371.8h7.6v7.6h-7.6zM175.5 371.8h7.6v7.6h-7.6zM189.5 371.8h7.6v7.6h-7.6zM294.5 371.8h7.6v7.6h-7.6zM336.5 371.8h7.6v7.6h-7.6zM175.5 378.8h7.6v7.6h-7.6zM189.5 378.8h7.6v7.6h-7.6zM203.5 378.8h7.6v7.6h-7.6zM224.5 378.8h7.6v7.6h-7.6zM252.5 378.8h7.6v7.6h-7.6zM294.5 378.8h7.6v7.6h-7.6zM329.5 378.8h7.6v7.6h-7.6zM350.5 378.8h7.6v7.6h-7.6zM196.5 385.8h7.6v7.6h-7.6zM210.5 385.8h7.6v7.6h-7.6zM350.5 385.8h7.6v7.6h-7.6zM364.5 385.8h7.6v7.6h-7.6zM371.5 385.8h7.6v7.6h-7.6zM378.5 385.8h7.6v7.6h-7.6zM98.5 392.8h7.6v7.6h-7.6zM315.5 392.8h7.6v7.6h-7.6zM343.5 392.8h7.6v7.6h-7.6zM350.5 392.8h7.6v7.6h-7.6zM357.5 392.8h7.6v7.6h-7.6zM364.5 392.8h7.6v7.6h-7.6zM371.5 392.8h7.6v7.6h-7.6zM378.5 392.8h7.6v7.6h-7.6zM105.5 399.8h7.6v7.6h-7.6zM252.5 399.8h7.6v7.6h-7.6zM259.5 399.8h7.6v7.6h-7.6zM280.5 399.8h7.6v7.6h-7.6zM350.5 399.8h7.6v7.6h-7.6zM357.5 399.8h7.6v7.6h-7.6zM364.5 399.8h7.6v7.6h-7.6zM371.5 399.8h7.6v7.6h-7.6zM378.5 399.8h7.6v7.6h-7.6zM112.5 406.8h7.6v7.6h-7.6zM133.5 406.8h7.6v7.6h-7.6zM182.5 406.8h7.6v7.6h-7.6zM294.5 406.8h7.6v7.6h-7.6zM308.5 406.8h7.6v7.6h-7.6zM315.5 406.8h7.6v7.6h-7.6zM343.5 406.8h7.6v7.6h-7.6zM350.5 406.8h7.6v7.6h-7.6zM364.5 406.8h7.6v7.6h-7.6zM371.5 406.8h7.6v7.6h-7.6zM378.5 406.8h7.6v7.6h-7.6zM105.5 413.8h7.6v7.6h-7.6zM133.5 413.8h7.6v7.6h-7.6zM182.5 413.8h7.6v7.6h-7.6zM231.5 413.8h7.6v7.6h-7.6zM308.5 413.8h7.6v7.6h-7.6zM315.5 413.8h7.6v7.6h-7.6zM322.5 413.8h7.6v7.6h-7.6zM364.5 413.8h7.6v7.6h-7.6zM371.5 413.8h7.6v7.6h-7.6zM378.5 413.8h7.6v7.6h-7.6zM126.5 420.8h7.6v7.6h-7.6zM133.5 420.8h7.6v7.6h-7.6zM182.5 420.8h7.6v7.6h-7.6zM336.5 420.8h7.6v7.6h-7.6zM343.5 420.8h7.6v7.6h-7.6zM105.5 427.8h7.6v7.6h-7.6zM126.5 427.8h7.6v7.6h-7.6zM175.5 427.8h7.6v7.6h-7.6zM182.5 427.8h7.6v7.6h-7.6zM294.5 427.8h7.6v7.6h-7.6zM154.5 434.8h7.6v7.6h-7.6zM364.5 434.8h7.6v7.6h-7.6zM371.5 434.8h7.6v7.6h-7.6zM378.5 434.8h7.6v7.6h-7.6zM98.5 441.8h7.6v7.6h-7.6zM140.5 441.8h7.6v7.6h-7.6zM210.5 441.8h7.6v7.6h-7.6zM231.5 441.8h7.6v7.6h-7.6zM238.5 441.8h7.6v7.6h-7.6zM119.5 448.8h7.6v7.6h-7.6zM140.5 448.8h7.6v7.6h-7.6zM238.5 448.8h7.6v7.6h-7.6zM294.5 448.8h7.6v7.6h-7.6zM98.5 455.8h7.6v7.6h-7.6zM105.5 455.8h7.6v7.6h-7.6zM112.5 455.8h7.6v7.6h-7.6zM147.5 455.8h7.6v7.6h-7.6zM189.5 455.8h7.6v7.6h-7.6zM231.5 455.8h7.6v7.6h-7.6zM294.5 455.8h7.6v7.6h-7.6zM322.5 455.8h7.6v7.6h-7.6zM336.5 455.8h7.6v7.6h-7.6zM161.5 462.8h7.6v7.6h-7.6zM217.5 462.8h7.6v7.6h-7.6zM231.5 462.8h7.6v7.6h-7.6zM266.5 462.8h7.6v7.6h-7.6zM308.5 462.8h7.6v7.6h-7.6zM77.5 469.8h7.6v7.6h-7.6zM84.5 469.8h7.6v7.6h-7.6zM91.5 469.8h7.6v7.6h-7.6zM168.5 469.8h7.6v7.6h-7.6zM224.5 469.8h7.6v7.6h-7.6zM245.5 469.8h7.6v7.6h-7.6zM259.5 469.8h7.6v7.6h-7.6zM266.5 469.8h7.6v7.6h-7.6zM133.5 476.8h7.6v7.6h-7.6zM224.5 476.8h7.6v7.6h-7.6zM301.5 476.8h7.6v7.6h-7.6zM105.5 483.8h7.6v7.6h-7.6zM140.5 483.8h7.6v7.6h-7.6zM154.5 483.8h7.6v7.6h-7.6zM182.5 483.8h7.6v7.6h-7.6zM189.5 483.8h7.6v7.6h-7.6zM238.5 483.8h7.6v7.6h-7.6zM273.5 483.8h7.6v7.6h-7.6zM301.5 483.8h7.6v7.6h-7.6zM315.5 483.8h7.6v7.6h-7.6zM350.5 483.8h7.6v7.6h-7.6zM133.5 490.8h7.6v7.6h-7.6zM140.5 490.8h7.6v7.6h-7.6zM217.5 490.8h7.6v7.6h-7.6zM238.5 490.8h7.6v7.6h-7.6zM280.5 490.8h7.6v7.6h-7.6zM301.5 490.8h7.6v7.6h-7.6zM308.5 490.8h7.6v7.6h-7.6zM315.5 490.8h7.6v7.6h-7.6zM133.5 497.8h7.6v7.6h-7.6zM273.5 497.8h7.6v7.6h-7.6zM301.5 497.8h7.6v7.6h-7.6zM140.5 504.8h7.6v7.6h-7.6zM168.5 504.8h7.6v7.6h-7.6zM196.5 504.8h7.6v7.6h-7.6zM203.5 504.8h7.6v7.6h-7.6zM308.5 504.8h7.6v7.6h-7.6zM315.5 504.8h7.6v7.6h-7.6zM133.5 511.8h7.6v7.6h-7.6zM161.5 511.8h7.6v7.6h-7.6zM168.5 511.8h7.6v7.6h-7.6zM196.5 511.8h7.6v7.6h-7.6zM329.5 511.8h7.6v7.6h-7.6zM161.5 518.8h7.6v7.6h-7.6zM168.5 518.8h7.6v7.6h-7.6zM217.5 518.8h7.6v7.6h-7.6zM329.5 518.8h7.6v7.6h-7.6zM364.5 518.8h7.6v7.6h-7.6zM371.5 518.8h7.6v7.6h-7.6zM378.5 518.8h7.6v7.6h-7.6zM126.5 525.8h7.6v7.6h-7.6zM217.5 525.8h7.6v7.6h-7.6zM259.5 525.8h7.6v7.6h-7.6zM140.5 532.8h7.6v7.6h-7.6zM217.5 532.8h7.6v7.6h-7.6zM280.5 532.8h7.6v7.6h-7.6zM112.5 539.8h7.6v7.6h-7.6zM196.5 539.8h7.6v7.6h-7.6zM280.5 539.8h7.6v7.6h-7.6zM294.5 539.8h7.6v7.6h-7.6zM357.5 539.8h7.6v7.6h-7.6zM105.5 546.8h7.6v7.6h-7.6zM112.5 546.8h7.6v7.6h-7.6zM301.5 546.8h7.6v7.6h-7.6zM329.5 546.8h7.6v7.6h-7.6zM350.5 546.8h7.6v7.6h-7.6zM210.5 553.8h7.6v7.6h-7.6zM301.5 553.8h7.6v7.6h-7.6zM329.5 553.8h7.6v7.6h-7.6zM154.5 560.8h7.6v7.6h-7.6zM168.5 560.8h7.6v7.6h-7.6zM189.5 560.8h7.6v7.6h-7.6zM217.5 560.8h7.6v7.6h-7.6zM252.5 560.8h7.6v7.6h-7.6zM77.5 567.8h7.6v7.6h-7.6zM84.5 567.8h7.6v7.6h-7.6zM91.5 567.8h7.6v7.6h-7.6zM154.5 567.8h7.6v7.6h-7.6zM252.5 567.8h7.6v7.6h-7.6zM231.5 574.8h7.6v7.6h-7.6zM259.5 574.8h7.6v7.6h-7.6zM315.5 574.8h7.6v7.6h-7.6zM322.5 574.8h7.6v7.6h-7.6zM329.5 574.8h7.6v7.6h-7.6zM119.5 581.8h7.6v7.6h-7.6zM224.5 581.8h7.6v7.6h-7.6zM231.5 581.8h7.6v7.6h-7.6zM329.5 581.8h7.6v7.6h-7.6zM112.5 588.8h7.6v7.6h-7.6zM119.5 588.8h7.6v7.6h-7.6zM182.5 588.8h7.6v7.6h-7.6zM217.5 588.8h7.6v7.6h-7.6zM224.5 588.8h7.6v7.6h-7.6zM315.5 588.8h7.6v7.6h-7.6zM77.5 595.8h7.6v7.6h-7.6zM84.5 595.8h7.6v7.6h-7.6zM91.5 595.8h7.6v7.6h-7.6zM140.5 595.8h7.6v7.6h-7.6zM175.5 595.8h7.6v7.6h-7.6zM231.5 595.8h7.6v7.6h-7.6zM280.5 595.8h7.6v7.6h-7.6zM308.5 595.8h7.6v7.6h-7.6zM105.5 602.8h7.6v7.6h-7.6zM224.5 602.8h7.6v7.6h-7.6zM238.5 602.8h7.6v7.6h-7.6zM280.5 602.8h7.6v7.6h-7.6zM77.5 609.8h7.6v7.6h-7.6zM84.5 609.8h7.6v7.6h-7.6zM91.5 609.8h7.6v7.6h-7.6zM147.5 609.8h7.6v7.6h-7.6zM231.5 609.8h7.6v7.6h-7.6zM266.5 609.8h7.6v7.6h-7.6zM112.5 616.8h7.6v7.6h-7.6zM119.5 616.8h7.6v7.6h-7.6zM140.5 616.8h7.6v7.6h-7.6zM154.5 616.8h7.6v7.6h-7.6zM189.5 616.8h7.6v7.6h-7.6zM224.5 616.8h7.6v7.6h-7.6zM238.5 616.8h7.6v7.6h-7.6zM259.5 616.8h7.6v7.6h-7.6zM301.5 616.8h7.6v7.6h-7.6zM308.5 616.8h7.6v7.6h-7.6zM329.5 616.8h7.6v7.6h-7.6zM336.5 616.8h7.6v7.6h-7.6zM231.5 623.8h7.6v7.6h-7.6zM308.5 623.8h7.6v7.6h-7.6zM350.5 623.8h7.6v7.6h-7.6zM140.5 630.8h7.6v7.6h-7.6zM224.5 630.8h7.6v7.6h-7.6zM231.5 630.8h7.6v7.6h-7.6zM308.5 630.8h7.6v7.6h-7.6zM329.5 630.8h7.6v7.6h-7.6zM133.5 637.8h7.6v7.6h-7.6zM224.5 637.8h7.6v7.6h-7.6zM294.5 637.8h7.6v7.6h-7.6zM322.5 637.8h7.6v7.6h-7.6zM329.5 637.8h7.6v7.6h-7.6zM133.5 644.8h7.6v7.6h-7.6zM224.5 644.8h7.6v7.6h-7.6zM294.5 644.8h7.6v7.6h-7.6zM322.5 644.8h7.6v7.6h-7.6zM329.5 644.8h7.6v7.6h-7.6zM133.5 651.8h7.6v7.6h-7.6zM224.5 651.8h7.6v7.6h-7.6zM294.5 651.8h7.6v7.6h-7.6zM322.5 651.8h7.6v7.6h-7.6zM329.5 651.8h7.6v7.6h-7.6z"/><path fill="rgb(44,44,44)" d="M119.5 350.8h7.6v7.6h-7.6zM168.5 350.8h7.6v7.6h-7.6zM203.5 350.8h7.6v7.6h-7.6zM210.5 350.8h7.6v7.6h-7.6zM217.5 350.8h7.6v7.6h-7.6zM280.5 350.8h7.6v7.6h-7.6zM287.5 350.8h7.6v7.6h-7.6zM308.5 350.8h7.6v7.6h-7.6zM315.5 350.8h7.6v7.6h-7.6zM322.5 350.8h7.6v7.6h-7.6zM329.5 350.8h7.6v7.6h-7.6zM336.5 350.8h7.6v7.6h-7.6zM350.5 350.8h7.6v7.6h-7.6zM357.5 350.8h7.6v7.6h-7.6zM364.5 350.8h7.6v7.6h-7.6zM371.5 350.8h7.6v7.6h-7.6zM378.5 350.8h7.6v7.6h-7.6zM119.5 357.8h7.6v7.6h-7.6zM168.5 357.8h7.6v7.6h-7.6zM203.5 357.8h7.6v7.6h-7.6zM210.5 357.8h7.6v7.6h-7.6zM217.5 357.8h7.6v7.6h-7.6zM280.5 357.8h7.6v7.6h-7.6zM287.5 357.8h7.6v7.6h-7.6zM308.5 357.8h7.6v7.6h-7.6zM315.5 357.8h7.6v7.6h-7.6zM322.5 357.8h7.6v7.6h-7.6zM329.5 357.8h7.6v7.6h-7.6zM336.5 357.8h7.6v7.6h-7.6zM350.5 357.8h7.6v7.6h-7.6zM357.5 357.8h7.6v7.6h-7.6zM364.5 357.8h7.6v7.6h-7.6zM371.5 357.8h7.6v7.6h-7.6zM378.5 357.8h7.6v7.6h-7.6zM119.5 364.8h7.6v7.6h-7.6zM168.5 364.8h7.6v7.6h-7.6zM203.5 364.8h7.6v7.6h-7.6zM210.5 364.8h7.6v7.6h-7.6zM217.5 364.8h7.6v7.6h-7.6zM280.5 364.8h7.6v7.6h-7.6zM287.5 364.8h7.6v7.6h-7.6zM308.5 364.8h7.6v7.6h-7.6zM315.5 364.8h7.6v7.6h-7.6zM322.5 364.8h7.6v7.6h-7.6zM329.5 364.8h7.6v7.6h-7.6zM336.5 364.8h7.6v7.6h-7.6zM350.5 364.8h7.6v7.6h-7.6zM357.5 364.8h7.6v7.6h-7.6zM364.5 364.8h7.6v7.6h-7.6zM371.5 364.8h7.6v7.6h-7.6zM378.5 364.8h7.6v7.6h-7.6zM98.5 371.8h7.6v7.6h-7.6zM133.5 371.8h7.6v7.6h-7.6zM147.5 371.8h7.6v7.6h-7.6zM168.5 371.8h7.6v7.6h-7.6zM203.5 371.8h7.6v7.6h-7.6zM210.5 371.8h7.6v7.6h-7.6zM231.5 371.8h7.6v7.6h-7.6zM287.5 371.8h7.6v7.6h-7.6zM322.5 371.8h7.6v7.6h-7.6zM329.5 371.8h7.6v7.6h-7.6zM343.5 371.8h7.6v7.6h-7.6zM350.5 371.8h7.6v7.6h-7.6zM357.5 371.8h7.6v7.6h-7.6zM364.5 371.8h7.6v7.6h-7.6zM371.5 371.8h7.6v7.6h-7.6zM378.5 371.8h7.6v7.6h-7.6zM98.5 378.8h7.6v7.6h-7.6zM140.5 378.8h7.6v7.6h-7.6zM147.5 378.8h7.6v7.6h-7.6zM154.5 378.8h7.6v7.6h-7.6zM161.5 378.8h7.6v7.6h-7.6zM168.5 378.8h7.6v7.6h-7.6zM182.5 378.8h7.6v7.6h-7.6zM210.5 378.8h7.6v7.6h-7.6zM231.5 378.8h7.6v7.6h-7.6zM245.5 378.8h7.6v7.6h-7.6zM266.5 378.8h7.6v7.6h-7.6zM280.5 378.8h7.6v7.6h-7.6zM322.5 378.8h7.6v7.6h-7.6zM336.5 378.8h7.6v7.6h-7.6zM343.5 378.8h7.6v7.6h-7.6zM364.5 378.8h7.6v7.6h-7.6zM371.5 378.8h7.6v7.6h-7.6zM378.5 378.8h7.6v7.6h-7.6zM77.5 385.8h7.6v7.6h-7.6zM84.5 385.8h7.6v7.6h-7.6zM91.5 385.8h7.6v7.6h-7.6zM98.5 385.8h7.6v7.6h-7.6zM140.5 385.8h7.6v7.6h-7.6zM147.5 385.8h7.6v7.6h-7.6zM154.5 385.8h7.6v7.6h-7.6zM168.5 385.8h7.6v7.6h-7.6zM175.5 385.8h7.6v7.6h-7.6zM189.5 385.8h7.6v7.6h-7.6zM203.5 385.8h7.6v7.6h-7.6zM231.5 385.8h7.6v7.6h-7.6zM238.5 385.8h7.6v7.6h-7.6zM245.5 385.8h7.6v7.6h-7.6zM252.5 385.8h7.6v7.6h-7.6zM266.5 385.8h7.6v7.6h-7.6zM273.5 385.8h7.6v7.6h-7.6zM280.5 385.8h7.6v7.6h-7.6zM308.5 385.8h7.6v7.6h-7.6zM315.5 385.8h7.6v7.6h-7.6zM322.5 385.8h7.6v7.6h-7.6zM329.5 385.8h7.6v7.6h-7.6zM336.5 385.8h7.6v7.6h-7.6zM343.5 385.8h7.6v7.6h-7.6zM357.5 385.8h7.6v7.6h-7.6zM77.5 392.8h7.6v7.6h-7.6zM84.5 392.8h7.6v7.6h-7.6zM91.5 392.8h7.6v7.6h-7.6zM105.5 392.8h7.6v7.6h-7.6zM133.5 392.8h7.6v7.6h-7.6zM140.5 392.8h7.6v7.6h-7.6zM196.5 392.8h7.6v7.6h-7.6zM210.5 392.8h7.6v7.6h-7.6zM252.5 392.8h7.6v7.6h-7.6zM259.5 392.8h7.6v7.6h-7.6zM266.5 392.8h7.6v7.6h-7.6zM287.5 392.8h7.6v7.6h-7.6zM308.5 392.8h7.6v7.6h-7.6zM322.5 392.8h7.6v7.6h-7.6zM329.5 392.8h7.6v7.6h-7.6zM336.5 392.8h7.6v7.6h-7.6zM98.5 399.8h7.6v7.6h-7.6zM112.5 399.8h7.6v7.6h-7.6zM119.5 399.8h7.6v7.6h-7.6zM126.5 399.8h7.6v7.6h-7.6zM161.5 399.8h7.6v7.6h-7.6zM168.5 399.8h7.6v7.6h-7.6zM175.5 399.8h7.6v7.6h-7.6zM182.5 399.8h7.6v7.6h-7.6zM189.5 399.8h7.6v7.6h-7.6zM217.5 399.8h7.6v7.6h-7.6zM245.5 399.8h7.6v7.6h-7.6zM266.5 399.8h7.6v7.6h-7.6zM287.5 399.8h7.6v7.6h-7.6zM294.5 399.8h7.6v7.6h-7.6zM301.5 399.8h7.6v7.6h-7.6zM308.5 399.8h7.6v7.6h-7.6zM315.5 399.8h7.6v7.6h-7.6zM322.5 399.8h7.6v7.6h-7.6zM329.5 399.8h7.6v7.6h-7.6zM336.5 399.8h7.6v7.6h-7.6zM343.5 399.8h7.6v7.6h-7.6zM98.5 406.8h7.6v7.6h-7.6zM119.5 406.8h7.6v7.6h-7.6zM126.5 406.8h7.6v7.6h-7.6zM140.5 406.8h7.6v7.6h-7.6zM147.5 406.8h7.6v7.6h-7.6zM161.5 406.8h7.6v7.6h-7.6zM175.5 406.8h7.6v7.6h-7.6zM189.5 406.8h7.6v7.6h-7.6zM203.5 406.8h7.6v7.6h-7.6zM210.5 406.8h7.6v7.6h-7.6zM217.5 406.8h7.6v7.6h-7.6zM224.5 406.8h7.6v7.6h-7.6zM231.5 406.8h7.6v7.6h-7.6zM245.5 406.8h7.6v7.6h-7.6zM252.5 406.8h7.6v7.6h-7.6zM259.5 406.8h7.6v7.6h-7.6zM280.5 406.8h7.6v7.6h-7.6zM287.5 406.8h7.6v7.6h-7.6zM322.5 406.8h7.6v7.6h-7.6zM329.5 406.8h7.6v7.6h-7.6zM336.5 406.8h7.6v7.6h-7.6zM357.5 406.8h7.6v7.6h-7.6zM112.5 413.8h7.6v7.6h-7.6zM126.5 413.8h7.6v7.6h-7.6zM140.5 413.8h7.6v7.6h-7.6zM147.5 413.8h7.6v7.6h-7.6zM161.5 413.8h7.6v7.6h-7.6zM168.5 413.8h7.6v7.6h-7.6zM175.5 413.8h7.6v7.6h-7.6zM189.5 413.8h7.6v7.6h-7.6zM203.5 413.8h7.6v7.6h-7.6zM210.5 413.8h7.6v7.6h-7.6zM217.5 413.8h7.6v7.6h-7.6zM224.5 413.8h7.6v7.6h-7.6zM238.5 413.8h7.6v7.6h-7.6zM245.5 413.8h7.6v7.6h-7.6zM252.5 413.8h7.6v7.6h-7.6zM287.5 413.8h7.6v7.6h-7.6zM294.5 413.8h7.6v7.6h-7.6zM329.5 413.8h7.6v7.6h-7.6zM336.5 413.8h7.6v7.6h-7.6zM343.5 413.8h7.6v7.6h-7.6zM350.5 413.8h7.6v7.6h-7.6zM357.5 413.8h7.6v7.6h-7.6zM77.5 420.8h7.6v7.6h-7.6zM84.5 420.8h7.6v7.6h-7.6zM91.5 420.8h7.6v7.6h-7.6zM105.5 420.8h7.6v7.6h-7.6zM112.5 420.8h7.6v7.6h-7.6zM119.5 420.8h7.6v7.6h-7.6zM147.5 420.8h7.6v7.6h-7.6zM161.5 420.8h7.6v7.6h-7.6zM175.5 420.8h7.6v7.6h-7.6zM189.5 420.8h7.6v7.6h-7.6zM210.5 420.8h7.6v7.6h-7.6zM217.5 420.8h7.6v7.6h-7.6zM224.5 420.8h7.6v7.6h-7.6zM231.5 420.8h7.6v7.6h-7.6zM294.5 420.8h7.6v7.6h-7.6zM315.5 420.8h7.6v7.6h-7.6zM322.5 420.8h7.6v7.6h-7.6zM329.5 420.8h7.6v7.6h-7.6zM350.5 420.8h7.6v7.6h-7.6zM357.5 420.8h7.6v7.6h-7.6zM364.5 420.8h7.6v7.6h-7.6zM371.5 420.8h7.6v7.6h-7.6zM378.5 420.8h7.6v7.6h-7.6zM77.5 427.8h7.6v7.6h-7.6zM84.5 427.8h7.6v7.6h-7.6zM91.5 427.8h7.6v7.6h-7.6zM98.5 427.8h7.6v7.6h-7.6zM112.5 427.8h7.6v7.6h-7.6zM119.5 427.8h7.6v7.6h-7.6zM133.5 427.8h7.6v7.6h-7.6zM147.5 427.8h7.6v7.6h-7.6zM154.5 427.8h7.6v7.6h-7.6zM161.5 427.8h7.6v7.6h-7.6zM168.5 427.8h7.6v7.6h-7.6zM189.5 427.8h7.6v7.6h-7.6zM210.5 427.8h7.6v7.6h-7.6zM224.5 427.8h7.6v7.6h-7.6zM266.5 427.8h7.6v7.6h-7.6zM287.5 427.8h7.6v7.6h-7.6zM301.5 427.8h7.6v7.6h-7.6zM329.5 427.8h7.6v7.6h-7.6zM336.5 427.8h7.6v7.6h-7.6zM343.5 427.8h7.6v7.6h-7.6zM350.5 427.8h7.6v7.6h-7.6zM357.5 427.8h7.6v7.6h-7.6zM364.5 427.8h7.6v7.6h-7.6zM371.5 427.8h7.6v7.6h-7.6zM378.5 427.8h7.6v7.6h-7.6zM77.5 434.8h7.6v7.6h-7.6zM84.5 434.8h7.6v7.6h-7.6zM91.5 434.8h7.6v7.6h-7.6zM98.5 434.8h7.6v7.6h-7.6zM126.5 434.8h7.6v7.6h-7.6zM133.5 434.8h7.6v7.6h-7.6zM140.5 434.8h7.6v7.6h-7.6zM147.5 434.8h7.6v7.6h-7.6zM161.5 434.8h7.6v7.6h-7.6zM175.5 434.8h7.6v7.6h-7.6zM182.5 434.8h7.6v7.6h-7.6zM203.5 434.8h7.6v7.6h-7.6zM210.5 434.8h7.6v7.6h-7.6zM224.5 434.8h7.6v7.6h-7.6zM231.5 434.8h7.6v7.6h-7.6zM252.5 434.8h7.6v7.6h-7.6zM259.5 434.8h7.6v7.6h-7.6zM266.5 434.8h7.6v7.6h-7.6zM273.5 434.8h7.6v7.6h-7.6zM280.5 434.8h7.6v7.6h-7.6zM294.5 434.8h7.6v7.6h-7.6zM308.5 434.8h7.6v7.6h-7.6zM322.5 434.8h7.6v7.6h-7.6zM329.5 434.8h7.6v7.6h-7.6zM357.5 434.8h7.6v7.6h-7.6zM77.5 441.8h7.6v7.6h-7.6zM84.5 441.8h7.6v7.6h-7.6zM91.5 441.8h7.6v7.6h-7.6zM147.5 441.8h7.6v7.6h-7.6zM182.5 441.8h7.6v7.6h-7.6zM189.5 441.8h7.6v7.6h-7.6zM196.5 441.8h7.6v7.6h-7.6zM203.5 441.8h7.6v7.6h-7.6zM224.5 441.8h7.6v7.6h-7.6zM245.5 441.8h7.6v7.6h-7.6zM252.5 441.8h7.6v7.6h-7.6zM280.5 441.8h7.6v7.6h-7.6zM287.5 441.8h7.6v7.6h-7.6zM308.5 441.8h7.6v7.6h-7.6zM315.5 441.8h7.6v7.6h-7.6zM322.5 441.8h7.6v7.6h-7.6zM364.5 441.8h7.6v7.6h-7.6zM371.5 441.8h7.6v7.6h-7.6zM378.5 441.8h7.6v7.6h-7.6zM77.5 448.8h7.6v7.6h-7.6zM84.5 448.8h7.6v7.6h-7.6zM91.5 448.8h7.6v7.6h-7.6zM98.5 448.8h7.6v7.6h-7.6zM105.5 448.8h7.6v7.6h-7.6zM112.5 448.8h7.6v7.6h-7.6zM133.5 448.8h7.6v7.6h-7.6zM147.5 448.8h7.6v7.6h-7.6zM168.5 448.8h7.6v7.6h-7.6zM175.5 448.8h7.6v7.6h-7.6zM182.5 448.8h7.6v7.6h-7.6zM189.5 448.8h7.6v7.6h-7.6zM196.5 448.8h7.6v7.6h-7.6zM210.5 448.8h7.6v7.6h-7.6zM217.5 448.8h7.6v7.6h-7.6zM224.5 448.8h7.6v7.6h-7.6zM259.5 448.8h7.6v7.6h-7.6zM287.5 448.8h7.6v7.6h-7.6zM301.5 448.8h7.6v7.6h-7.6zM308.5 448.8h7.6v7.6h-7.6zM315.5 448.8h7.6v7.6h-7.6zM322.5 448.8h7.6v7.6h-7.6zM77.5 455.8h7.6v7.6h-7.6zM84.5 455.8h7.6v7.6h-7.6zM91.5 455.8h7.6v7.6h-7.6zM119.5 455.8h7.6v7.6h-7.6zM126.5 455.8h7.6v7.6h-7.6zM140.5 455.8h7.6v7.6h-7.6zM154.5 455.8h7.6v7.6h-7.6zM161.5 455.8h7.6v7.6h-7.6zM196.5 455.8h7.6v7.6h-7.6zM203.5 455.8h7.6v7.6h-7.6zM210.5 455.8h7.6v7.6h-7.6zM217.5 455.8h7.6v7.6h-7.6zM224.5 455.8h7.6v7.6h-7.6zM238.5 455.8h7.6v7.6h-7.6zM252.5 455.8h7.6v7.6h-7.6zM259.5 455.8h7.6v7.6h-7.6zM266.5 455.8h7.6v7.6h-7.6zM273.5 455.8h7.6v7.6h-7.6zM280.5 455.8h7.6v7.6h-7.6zM287.5 455.8h7.6v7.6h-7.6zM301.5 455.8h7.6v7.6h-7.6zM308.5 455.8h7.6v7.6h-7.6zM315.5 455.8h7.6v7.6h-7.6zM343.5 455.8h7.6v7.6h-7.6zM77.5 462.8h7.6v7.6h-7.6zM84.5 462.8h7.6v7.6h-7.6zM91.5 462.8h7.6v7.6h-7.6zM98.5 462.8h7.6v7.6h-7.6zM105.5 462.8h7.6v7.6h-7.6zM112.5 462.8h7.6v7.6h-7.6zM119.5 462.8h7.6v7.6h-7.6zM126.5 462.8h7.6v7.6h-7.6zM133.5 462.8h7.6v7.6h-7.6zM140.5 462.8h7.6v7.6h-7.6zM147.5 462.8h7.6v7.6h-7.6zM154.5 462.8h7.6v7.6h-7.6zM168.5 462.8h7.6v7.6h-7.6zM182.5 462.8h7.6v7.6h-7.6zM189.5 462.8h7.6v7.6h-7.6zM203.5 462.8h7.6v7.6h-7.6zM210.5 462.8h7.6v7.6h-7.6zM238.5 462.8h7.6v7.6h-7.6zM245.5 462.8h7.6v7.6h-7.6zM259.5 462.8h7.6v7.6h-7.6zM273.5 462.8h7.6v7.6h-7.6zM280.5 462.8h7.6v7.6h-7.6zM287.5 462.8h7.6v7.6h-7.6zM294.5 462.8h7.6v7.6h-7.6zM301.5 462.8h7.6v7.6h-7.6zM315.5 462.8h7.6v7.6h-7.6zM322.5 462.8h7.6v7.6h-7.6zM329.5 462.8h7.6v7.6h-7.6zM336.5 462.8h7.6v7.6h-7.6zM350.5 462.8h7.6v7.6h-7.6zM364.5 462.8h7.6v7.6h-7.6zM371.5 462.8h7.6v7.6h-7.6zM378.5 462.8h7.6v7.6h-7.6zM105.5 469.8h7.6v7.6h-7.6zM119.5 469.8h7.6v7.6h-7.6zM126.5 469.8h7.6v7.6h-7.6zM133.5 469.8h7.6v7.6h-7.6zM140.5 469.8h7.6v7.6h-7.6zM147.5 469.8h7.6v7.6h-7.6zM154.5 469.8h7.6v7.6h-7.6zM161.5 469.8h7.6v7.6h-7.6zM175.5 469.8h7.6v7.6h-7.6zM182.5 469.8h7.6v7.6h-7.6zM189.5 469.8h7.6v7.6h-7.6zM196.5 469.8h7.6v7.6h-7.6zM203.5 469.8h7.6v7.6h-7.6zM217.5 469.8h7.6v7.6h-7.6zM231.5 469.8h7.6v7.6h-7.6zM238.5 469.8h7.6v7.6h-7.6zM252.5 469.8h7.6v7.6h-7.6zM273.5 469.8h7.6v7.6h-7.6zM280.5 469.8h7.6v7.6h-7.6zM287.5 469.8h7.6v7.6h-7.6zM294.5 469.8h7.6v7.6h-7.6zM301.5 469.8h7.6v7.6h-7.6zM308.5 469.8h7.6v7.6h-7.6zM315.5 469.8h7.6v7.6h-7.6zM322.5 469.8h7.6v7.6h-7.6zM329.5 469.8h7.6v7.6h-7.6zM350.5 469.8h7.6v7.6h-7.6zM357.5 469.8h7.6v7.6h-7.6zM364.5 469.8h7.6v7.6h-7.6zM371.5 469.8h7.6v7.6h-7.6zM378.5 469.8h7.6v7.6h-7.6zM98.5 476.8h7.6v7.6h-7.6zM105.5 476.8h7.6v7.6h-7.6zM112.5 476.8h7.6v7.6h-7.6zM119.5 476.8h7.6v7.6h-7.6zM126.5 476.8h7.6v7.6h-7.6zM140.5 476.8h7.6v7.6h-7.6zM161.5 476.8h7.6v7.6h-7.6zM182.5 476.8h7.6v7.6h-7.6zM189.5 476.8h7.6v7.6h-7.6zM196.5 476.8h7.6v7.6h-7.6zM217.5 476.8h7.6v7.6h-7.6zM231.5 476.8h7.6v7.6h-7.6zM238.5 476.8h7.6v7.6h-7.6zM259.5 476.8h7.6v7.6h-7.6zM266.5 476.8h7.6v7.6h-7.6zM273.5 476.8h7.6v7.6h-7.6zM294.5 476.8h7.6v7.6h-7.6zM308.5 476.8h7.6v7.6h-7.6zM315.5 476.8h7.6v7.6h-7.6zM322.5 476.8h7.6v7.6h-7.6zM329.5 476.8h7.6v7.6h-7.6zM336.5 476.8h7.6v7.6h-7.6zM343.5 476.8h7.6v7.6h-7.6zM350.5 476.8h7.6v7.6h-7.6zM357.5 476.8h7.6v7.6h-7.6zM364.5 476.8h7.6v7.6h-7.6zM371.5 476.8h7.6v7.6h-7.6zM378.5 476.8h7.6v7.6h-7.6zM77.5 483.8h7.6v7.6h-7.6zM84.5 483.8h7.6v7.6h-7.6zM91.5 483.8h7.6v7.6h-7.6zM98.5 483.8h7.6v7.6h-7.6zM119.5 483.8h7.6v7.6h-7.6zM126.5 483.8h7.6v7.6h-7.6zM133.5 483.8h7.6v7.6h-7.6zM147.5 483.8h7.6v7.6h-7.6zM196.5 483.8h7.6v7.6h-7.6zM203.5 483.8h7.6v7.6h-7.6zM210.5 483.8h7.6v7.6h-7.6zM217.5 483.8h7.6v7.6h-7.6zM224.5 483.8h7.6v7.6h-7.6zM231.5 483.8h7.6v7.6h-7.6zM245.5 483.8h7.6v7.6h-7.6zM252.5 483.8h7.6v7.6h-7.6zM259.5 483.8h7.6v7.6h-7.6zM266.5 483.8h7.6v7.6h-7.6zM280.5 483.8h7.6v7.6h-7.6zM308.5 483.8h7.6v7.6h-7.6zM322.5 483.8h7.6v7.6h-7.6zM329.5 483.8h7.6v7.6h-7.6zM343.5 483.8h7.6v7.6h-7.6zM357.5 483.8h7.6v7.6h-7.6zM364.5 483.8h7.6v7.6h-7.6zM371.5 483.8h7.6v7.6h-7.6zM378.5 483.8h7.6v7.6h-7.6zM77.5 490.8h7.6v7.6h-7.6zM84.5 490.8h7.6v7.6h-7.6zM91.5 490.8h7.6v7.6h-7.6zM98.5 490.8h7.6v7.6h-7.6zM119.5 490.8h7.6v7.6h-7.6zM126.5 490.8h7.6v7.6h-7.6zM154.5 490.8h7.6v7.6h-7.6zM161.5 490.8h7.6v7.6h-7.6zM168.5 490.8h7.6v7.6h-7.6zM175.5 490.8h7.6v7.6h-7.6zM182.5 490.8h7.6v7.6h-7.6zM189.5 490.8h7.6v7.6h-7.6zM210.5 490.8h7.6v7.6h-7.6zM224.5 490.8h7.6v7.6h-7.6zM231.5 490.8h7.6v7.6h-7.6zM245.5 490.8h7.6v7.6h-7.6zM252.5 490.8h7.6v7.6h-7.6zM294.5 490.8h7.6v7.6h-7.6zM322.5 490.8h7.6v7.6h-7.6zM329.5 490.8h7.6v7.6h-7.6zM336.5 490.8h7.6v7.6h-7.6zM343.5 490.8h7.6v7.6h-7.6zM350.5 490.8h7.6v7.6h-7.6zM357.5 490.8h7.6v7.6h-7.6zM77.5 497.8h7.6v7.6h-7.6zM84.5 497.8h7.6v7.6h-7.6zM91.5 497.8h7.6v7.6h-7.6zM98.5 497.8h7.6v7.6h-7.6zM126.5 497.8h7.6v7.6h-7.6zM140.5 497.8h7.6v7.6h-7.6zM154.5 497.8h7.6v7.6h-7.6zM168.5 497.8h7.6v7.6h-7.6zM175.5 497.8h7.6v7.6h-7.6zM182.5 497.8h7.6v7.6h-7.6zM217.5 497.8h7.6v7.6h-7.6zM224.5 497.8h7.6v7.6h-7.6zM231.5 497.8h7.6v7.6h-7.6zM280.5 497.8h7.6v7.6h-7.6zM287.5 497.8h7.6v7.6h-7.6zM294.5 497.8h7.6v7.6h-7.6zM322.5 497.8h7.6v7.6h-7.6zM329.5 497.8h7.6v7.6h-7.6zM336.5 497.8h7.6v7.6h-7.6zM343.5 497.8h7.6v7.6h-7.6zM357.5 497.8h7.6v7.6h-7.6zM364.5 497.8h7.6v7.6h-7.6zM371.5 497.8h7.6v7.6h-7.6zM378.5 497.8h7.6v7.6h-7.6zM77.5 504.8h7.6v7.6h-7.6zM84.5 504.8h7.6v7.6h-7.6zM91.5 504.8h7.6v7.6h-7.6zM112.5 504.8h7.6v7.6h-7.6zM126.5 504.8h7.6v7.6h-7.6zM154.5 504.8h7.6v7.6h-7.6zM175.5 504.8h7.6v7.6h-7.6zM182.5 504.8h7.6v7.6h-7.6zM189.5 504.8h7.6v7.6h-7.6zM210.5 504.8h7.6v7.6h-7.6zM231.5 504.8h7.6v7.6h-7.6zM259.5 504.8h7.6v7.6h-7.6zM266.5 504.8h7.6v7.6h-7.6zM273.5 504.8h7.6v7.6h-7.6zM280.5 504.8h7.6v7.6h-7.6zM287.5 504.8h7.6v7.6h-7.6zM294.5 504.8h7.6v7.6h-7.6zM322.5 504.8h7.6v7.6h-7.6zM329.5 504.8h7.6v7.6h-7.6zM336.5 504.8h7.6v7.6h-7.6zM343.5 504.8h7.6v7.6h-7.6zM350.5 504.8h7.6v7.6h-7.6zM357.5 504.8h7.6v7.6h-7.6zM77.5 511.8h7.6v7.6h-7.6zM84.5 511.8h7.6v7.6h-7.6zM91.5 511.8h7.6v7.6h-7.6zM119.5 511.8h7.6v7.6h-7.6zM126.5 511.8h7.6v7.6h-7.6zM140.5 511.8h7.6v7.6h-7.6zM147.5 511.8h7.6v7.6h-7.6zM154.5 511.8h7.6v7.6h-7.6zM175.5 511.8h7.6v7.6h-7.6zM210.5 511.8h7.6v7.6h-7.6zM224.5 511.8h7.6v7.6h-7.6zM231.5 511.8h7.6v7.6h-7.6zM238.5 511.8h7.6v7.6h-7.6zM245.5 511.8h7.6v7.6h-7.6zM252.5 511.8h7.6v7.6h-7.6zM259.5 511.8h7.6v7.6h-7.6zM266.5 511.8h7.6v7.6h-7.6zM273.5 511.8h7.6v7.6h-7.6zM287.5 511.8h7.6v7.6h-7.6zM294.5 511.8h7.6v7.6h-7.6zM308.5 511.8h7.6v7.6h-7.6zM315.5 511.8h7.6v7.6h-7.6zM322.5 511.8h7.6v7.6h-7.6zM336.5 511.8h7.6v7.6h-7.6zM343.5 511.8h7.6v7.6h-7.6zM350.5 511.8h7.6v7.6h-7.6zM357.5 511.8h7.6v7.6h-7.6zM77.5 518.8h7.6v7.6h-7.6zM84.5 518.8h7.6v7.6h-7.6zM91.5 518.8h7.6v7.6h-7.6zM98.5 518.8h7.6v7.6h-7.6zM112.5 518.8h7.6v7.6h-7.6zM119.5 518.8h7.6v7.6h-7.6zM126.5 518.8h7.6v7.6h-7.6zM154.5 518.8h7.6v7.6h-7.6zM175.5 518.8h7.6v7.6h-7.6zM196.5 518.8h7.6v7.6h-7.6zM210.5 518.8h7.6v7.6h-7.6zM224.5 518.8h7.6v7.6h-7.6zM231.5 518.8h7.6v7.6h-7.6zM238.5 518.8h7.6v7.6h-7.6zM252.5 518.8h7.6v7.6h-7.6zM259.5 518.8h7.6v7.6h-7.6zM266.5 518.8h7.6v7.6h-7.6zM273.5 518.8h7.6v7.6h-7.6zM280.5 518.8h7.6v7.6h-7.6zM294.5 518.8h7.6v7.6h-7.6zM301.5 518.8h7.6v7.6h-7.6zM308.5 518.8h7.6v7.6h-7.6zM315.5 518.8h7.6v7.6h-7.6zM322.5 518.8h7.6v7.6h-7.6zM336.5 518.8h7.6v7.6h-7.6zM343.5 518.8h7.6v7.6h-7.6zM350.5 518.8h7.6v7.6h-7.6zM77.5 525.8h7.6v7.6h-7.6zM84.5 525.8h7.6v7.6h-7.6zM91.5 525.8h7.6v7.6h-7.6zM98.5 525.8h7.6v7.6h-7.6zM105.5 525.8h7.6v7.6h-7.6zM112.5 525.8h7.6v7.6h-7.6zM119.5 525.8h7.6v7.6h-7.6zM133.5 525.8h7.6v7.6h-7.6zM147.5 525.8h7.6v7.6h-7.6zM154.5 525.8h7.6v7.6h-7.6zM161.5 525.8h7.6v7.6h-7.6zM168.5 525.8h7.6v7.6h-7.6zM210.5 525.8h7.6v7.6h-7.6zM224.5 525.8h7.6v7.6h-7.6zM238.5 525.8h7.6v7.6h-7.6zM245.5 525.8h7.6v7.6h-7.6zM252.5 525.8h7.6v7.6h-7.6zM266.5 525.8h7.6v7.6h-7.6zM273.5 525.8h7.6v7.6h-7.6zM280.5 525.8h7.6v7.6h-7.6zM294.5 525.8h7.6v7.6h-7.6zM301.5 525.8h7.6v7.6h-7.6zM308.5 525.8h7.6v7.6h-7.6zM315.5 525.8h7.6v7.6h-7.6zM322.5 525.8h7.6v7.6h-7.6zM329.5 525.8h7.6v7.6h-7.6zM336.5 525.8h7.6v7.6h-7.6zM343.5 525.8h7.6v7.6h-7.6zM350.5 525.8h7.6v7.6h-7.6zM357.5 525.8h7.6v7.6h-7.6zM98.5 532.8h7.6v7.6h-7.6zM112.5 532.8h7.6v7.6h-7.6zM147.5 532.8h7.6v7.6h-7.6zM154.5 532.8h7.6v7.6h-7.6zM210.5 532.8h7.6v7.6h-7.6zM238.5 532.8h7.6v7.6h-7.6zM259.5 532.8h7.6v7.6h-7.6zM266.5 532.8h7.6v7.6h-7.6zM273.5 532.8h7.6v7.6h-7.6zM287.5 532.8h7.6v7.6h-7.6zM294.5 532.8h7.6v7.6h-7.6zM301.5 532.8h7.6v7.6h-7.6zM308.5 532.8h7.6v7.6h-7.6zM322.5 532.8h7.6v7.6h-7.6zM329.5 532.8h7.6v7.6h-7.6zM357.5 532.8h7.6v7.6h-7.6zM364.5 532.8h7.6v7.6h-7.6zM371.5 532.8h7.6v7.6h-7.6zM378.5 532.8h7.6v7.6h-7.6zM98.5 539.8h7.6v7.6h-7.6zM119.5 539.8h7.6v7.6h-7.6zM126.5 539.8h7.6v7.6h-7.6zM133.5 539.8h7.6v7.6h-7.6zM140.5 539.8h7.6v7.6h-7.6zM147.5 539.8h7.6v7.6h-7.6zM182.5 539.8h7.6v7.6h-7.6zM189.5 539.8h7.6v7.6h-7.6zM210.5 539.8h7.6v7.6h-7.6zM231.5 539.8h7.6v7.6h-7.6zM238.5 539.8h7.6v7.6h-7.6zM259.5 539.8h7.6v7.6h-7.6zM266.5 539.8h7.6v7.6h-7.6zM273.5 539.8h7.6v7.6h-7.6zM287.5 539.8h7.6v7.6h-7.6zM301.5 539.8h7.6v7.6h-7.6zM322.5 539.8h7.6v7.6h-7.6zM329.5 539.8h7.6v7.6h-7.6zM336.5 539.8h7.6v7.6h-7.6zM343.5 539.8h7.6v7.6h-7.6zM350.5 539.8h7.6v7.6h-7.6zM364.5 539.8h7.6v7.6h-7.6zM371.5 539.8h7.6v7.6h-7.6zM378.5 539.8h7.6v7.6h-7.6zM77.5 546.8h7.6v7.6h-7.6zM84.5 546.8h7.6v7.6h-7.6zM91.5 546.8h7.6v7.6h-7.6zM98.5 546.8h7.6v7.6h-7.6zM119.5 546.8h7.6v7.6h-7.6zM133.5 546.8h7.6v7.6h-7.6zM140.5 546.8h7.6v7.6h-7.6zM147.5 546.8h7.6v7.6h-7.6zM175.5 546.8h7.6v7.6h-7.6zM182.5 546.8h7.6v7.6h-7.6zM189.5 546.8h7.6v7.6h-7.6zM196.5 546.8h7.6v7.6h-7.6zM203.5 546.8h7.6v7.6h-7.6zM210.5 546.8h7.6v7.6h-7.6zM217.5 546.8h7.6v7.6h-7.6zM224.5 546.8h7.6v7.6h-7.6zM266.5 546.8h7.6v7.6h-7.6zM273.5 546.8h7.6v7.6h-7.6zM280.5 546.8h7.6v7.6h-7.6zM294.5 546.8h7.6v7.6h-7.6zM315.5 546.8h7.6v7.6h-7.6zM322.5 546.8h7.6v7.6h-7.6zM336.5 546.8h7.6v7.6h-7.6zM343.5 546.8h7.6v7.6h-7.6zM357.5 546.8h7.6v7.6h-7.6zM98.5 553.8h7.6v7.6h-7.6zM105.5 553.8h7.6v7.6h-7.6zM112.5 553.8h7.6v7.6h-7.6zM126.5 553.8h7.6v7.6h-7.6zM133.5 553.8h7.6v7.6h-7.6zM140.5 553.8h7.6v7.6h-7.6zM147.5 553.8h7.6v7.6h-7.6zM168.5 553.8h7.6v7.6h-7.6zM196.5 553.8h7.6v7.6h-7.6zM203.5 553.8h7.6v7.6h-7.6zM231.5 553.8h7.6v7.6h-7.6zM252.5 553.8h7.6v7.6h-7.6zM259.5 553.8h7.6v7.6h-7.6zM273.5 553.8h7.6v7.6h-7.6zM280.5 553.8h7.6v7.6h-7.6zM287.5 553.8h7.6v7.6h-7.6zM294.5 553.8h7.6v7.6h-7.6zM308.5 553.8h7.6v7.6h-7.6zM315.5 553.8h7.6v7.6h-7.6zM322.5 553.8h7.6v7.6h-7.6zM336.5 553.8h7.6v7.6h-7.6zM357.5 553.8h7.6v7.6h-7.6zM364.5 553.8h7.6v7.6h-7.6zM371.5 553.8h7.6v7.6h-7.6zM378.5 553.8h7.6v7.6h-7.6zM98.5 560.8h7.6v7.6h-7.6zM105.5 560.8h7.6v7.6h-7.6zM112.5 560.8h7.6v7.6h-7.6zM119.5 560.8h7.6v7.6h-7.6zM126.5 560.8h7.6v7.6h-7.6zM133.5 560.8h7.6v7.6h-7.6zM140.5 560.8h7.6v7.6h-7.6zM147.5 560.8h7.6v7.6h-7.6zM161.5 560.8h7.6v7.6h-7.6zM182.5 560.8h7.6v7.6h-7.6zM203.5 560.8h7.6v7.6h-7.6zM210.5 560.8h7.6v7.6h-7.6zM224.5 560.8h7.6v7.6h-7.6zM245.5 560.8h7.6v7.6h-7.6zM259.5 560.8h7.6v7.6h-7.6zM266.5 560.8h7.6v7.6h-7.6zM287.5 560.8h7.6v7.6h-7.6zM294.5 560.8h7.6v7.6h-7.6zM301.5 560.8h7.6v7.6h-7.6zM308.5 560.8h7.6v7.6h-7.6zM315.5 560.8h7.6v7.6h-7.6zM322.5 560.8h7.6v7.6h-7.6zM329.5 560.8h7.6v7.6h-7.6zM336.5 560.8h7.6v7.6h-7.6zM343.5 560.8h7.6v7.6h-7.6zM350.5 560.8h7.6v7.6h-7.6zM357.5 560.8h7.6v7.6h-7.6zM364.5 560.8h7.6v7.6h-7.6zM371.5 560.8h7.6v7.6h-7.6zM378.5 560.8h7.6v7.6h-7.6zM98.5 567.8h7.6v7.6h-7.6zM105.5 567.8h7.6v7.6h-7.6zM112.5 567.8h7.6v7.6h-7.6zM119.5 567.8h7.6v7.6h-7.6zM126.5 567.8h7.6v7.6h-7.6zM133.5 567.8h7.6v7.6h-7.6zM140.5 567.8h7.6v7.6h-7.6zM147.5 567.8h7.6v7.6h-7.6zM161.5 567.8h7.6v7.6h-7.6zM168.5 567.8h7.6v7.6h-7.6zM175.5 567.8h7.6v7.6h-7.6zM182.5 567.8h7.6v7.6h-7.6zM203.5 567.8h7.6v7.6h-7.6zM224.5 567.8h7.6v7.6h-7.6zM231.5 567.8h7.6v7.6h-7.6zM245.5 567.8h7.6v7.6h-7.6zM259.5 567.8h7.6v7.6h-7.6zM287.5 567.8h7.6v7.6h-7.6zM294.5 567.8h7.6v7.6h-7.6zM301.5 567.8h7.6v7.6h-7.6zM308.5 567.8h7.6v7.6h-7.6zM315.5 567.8h7.6v7.6h-7.6zM322.5 567.8h7.6v7.6h-7.6zM329.5 567.8h7.6v7.6h-7.6zM336.5 567.8h7.6v7.6h-7.6zM343.5 567.8h7.6v7.6h-7.6zM350.5 567.8h7.6v7.6h-7.6zM364.5 567.8h7.6v7.6h-7.6zM371.5 567.8h7.6v7.6h-7.6zM378.5 567.8h7.6v7.6h-7.6zM77.5 574.8h7.6v7.6h-7.6zM84.5 574.8h7.6v7.6h-7.6zM91.5 574.8h7.6v7.6h-7.6zM98.5 574.8h7.6v7.6h-7.6zM119.5 574.8h7.6v7.6h-7.6zM126.5 574.8h7.6v7.6h-7.6zM133.5 574.8h7.6v7.6h-7.6zM147.5 574.8h7.6v7.6h-7.6zM154.5 574.8h7.6v7.6h-7.6zM175.5 574.8h7.6v7.6h-7.6zM182.5 574.8h7.6v7.6h-7.6zM189.5 574.8h7.6v7.6h-7.6zM196.5 574.8h7.6v7.6h-7.6zM217.5 574.8h7.6v7.6h-7.6zM224.5 574.8h7.6v7.6h-7.6zM238.5 574.8h7.6v7.6h-7.6zM245.5 574.8h7.6v7.6h-7.6zM252.5 574.8h7.6v7.6h-7.6zM266.5 574.8h7.6v7.6h-7.6zM273.5 574.8h7.6v7.6h-7.6zM280.5 574.8h7.6v7.6h-7.6zM287.5 574.8h7.6v7.6h-7.6zM294.5 574.8h7.6v7.6h-7.6zM301.5 574.8h7.6v7.6h-7.6zM308.5 574.8h7.6v7.6h-7.6zM336.5 574.8h7.6v7.6h-7.6zM343.5 574.8h7.6v7.6h-7.6zM350.5 574.8h7.6v7.6h-7.6zM357.5 574.8h7.6v7.6h-7.6zM364.5 574.8h7.6v7.6h-7.6zM371.5 574.8h7.6v7.6h-7.6zM378.5 574.8h7.6v7.6h-7.6zM77.5 581.8h7.6v7.6h-7.6zM84.5 581.8h7.6v7.6h-7.6zM91.5 581.8h7.6v7.6h-7.6zM98.5 581.8h7.6v7.6h-7.6zM105.5 581.8h7.6v7.6h-7.6zM112.5 581.8h7.6v7.6h-7.6zM126.5 581.8h7.6v7.6h-7.6zM133.5 581.8h7.6v7.6h-7.6zM147.5 581.8h7.6v7.6h-7.6zM154.5 581.8h7.6v7.6h-7.6zM161.5 581.8h7.6v7.6h-7.6zM175.5 581.8h7.6v7.6h-7.6zM182.5 581.8h7.6v7.6h-7.6zM189.5 581.8h7.6v7.6h-7.6zM196.5 581.8h7.6v7.6h-7.6zM203.5 581.8h7.6v7.6h-7.6zM210.5 581.8h7.6v7.6h-7.6zM217.5 581.8h7.6v7.6h-7.6zM238.5 581.8h7.6v7.6h-7.6zM245.5 581.8h7.6v7.6h-7.6zM252.5 581.8h7.6v7.6h-7.6zM266.5 581.8h7.6v7.6h-7.6zM273.5 581.8h7.6v7.6h-7.6zM280.5 581.8h7.6v7.6h-7.6zM287.5 581.8h7.6v7.6h-7.6zM294.5 581.8h7.6v7.6h-7.6zM301.5 581.8h7.6v7.6h-7.6zM308.5 581.8h7.6v7.6h-7.6zM315.5 581.8h7.6v7.6h-7.6zM322.5 581.8h7.6v7.6h-7.6zM336.5 581.8h7.6v7.6h-7.6zM343.5 581.8h7.6v7.6h-7.6zM350.5 581.8h7.6v7.6h-7.6zM357.5 581.8h7.6v7.6h-7.6zM364.5 581.8h7.6v7.6h-7.6zM371.5 581.8h7.6v7.6h-7.6zM378.5 581.8h7.6v7.6h-7.6zM77.5 588.8h7.6v7.6h-7.6zM84.5 588.8h7.6v7.6h-7.6zM91.5 588.8h7.6v7.6h-7.6zM105.5 588.8h7.6v7.6h-7.6zM126.5 588.8h7.6v7.6h-7.6zM133.5 588.8h7.6v7.6h-7.6zM140.5 588.8h7.6v7.6h-7.6zM147.5 588.8h7.6v7.6h-7.6zM154.5 588.8h7.6v7.6h-7.6zM161.5 588.8h7.6v7.6h-7.6zM168.5 588.8h7.6v7.6h-7.6zM175.5 588.8h7.6v7.6h-7.6zM189.5 588.8h7.6v7.6h-7.6zM196.5 588.8h7.6v7.6h-7.6zM203.5 588.8h7.6v7.6h-7.6zM210.5 588.8h7.6v7.6h-7.6zM231.5 588.8h7.6v7.6h-7.6zM238.5 588.8h7.6v7.6h-7.6zM245.5 588.8h7.6v7.6h-7.6zM252.5 588.8h7.6v7.6h-7.6zM259.5 588.8h7.6v7.6h-7.6zM273.5 588.8h7.6v7.6h-7.6zM280.5 588.8h7.6v7.6h-7.6zM287.5 588.8h7.6v7.6h-7.6zM294.5 588.8h7.6v7.6h-7.6zM301.5 588.8h7.6v7.6h-7.6zM308.5 588.8h7.6v7.6h-7.6zM322.5 588.8h7.6v7.6h-7.6zM329.5 588.8h7.6v7.6h-7.6zM336.5 588.8h7.6v7.6h-7.6zM343.5 588.8h7.6v7.6h-7.6zM350.5 588.8h7.6v7.6h-7.6zM364.5 588.8h7.6v7.6h-7.6zM371.5 588.8h7.6v7.6h-7.6zM378.5 588.8h7.6v7.6h-7.6zM98.5 595.8h7.6v7.6h-7.6zM105.5 595.8h7.6v7.6h-7.6zM112.5 595.8h7.6v7.6h-7.6zM119.5 595.8h7.6v7.6h-7.6zM126.5 595.8h7.6v7.6h-7.6zM133.5 595.8h7.6v7.6h-7.6zM147.5 595.8h7.6v7.6h-7.6zM161.5 595.8h7.6v7.6h-7.6zM168.5 595.8h7.6v7.6h-7.6zM182.5 595.8h7.6v7.6h-7.6zM210.5 595.8h7.6v7.6h-7.6zM217.5 595.8h7.6v7.6h-7.6zM224.5 595.8h7.6v7.6h-7.6zM238.5 595.8h7.6v7.6h-7.6zM245.5 595.8h7.6v7.6h-7.6zM252.5 595.8h7.6v7.6h-7.6zM259.5 595.8h7.6v7.6h-7.6zM266.5 595.8h7.6v7.6h-7.6zM273.5 595.8h7.6v7.6h-7.6zM287.5 595.8h7.6v7.6h-7.6zM301.5 595.8h7.6v7.6h-7.6zM315.5 595.8h7.6v7.6h-7.6zM322.5 595.8h7.6v7.6h-7.6zM343.5 595.8h7.6v7.6h-7.6zM350.5 595.8h7.6v7.6h-7.6zM357.5 595.8h7.6v7.6h-7.6zM364.5 595.8h7.6v7.6h-7.6zM371.5 595.8h7.6v7.6h-7.6zM378.5 595.8h7.6v7.6h-7.6zM77.5 602.8h7.6v7.6h-7.6zM84.5 602.8h7.6v7.6h-7.6zM91.5 602.8h7.6v7.6h-7.6zM98.5 602.8h7.6v7.6h-7.6zM112.5 602.8h7.6v7.6h-7.6zM126.5 602.8h7.6v7.6h-7.6zM140.5 602.8h7.6v7.6h-7.6zM147.5 602.8h7.6v7.6h-7.6zM154.5 602.8h7.6v7.6h-7.6zM161.5 602.8h7.6v7.6h-7.6zM168.5 602.8h7.6v7.6h-7.6zM175.5 602.8h7.6v7.6h-7.6zM182.5 602.8h7.6v7.6h-7.6zM189.5 602.8h7.6v7.6h-7.6zM203.5 602.8h7.6v7.6h-7.6zM210.5 602.8h7.6v7.6h-7.6zM217.5 602.8h7.6v7.6h-7.6zM245.5 602.8h7.6v7.6h-7.6zM252.5 602.8h7.6v7.6h-7.6zM259.5 602.8h7.6v7.6h-7.6zM266.5 602.8h7.6v7.6h-7.6zM273.5 602.8h7.6v7.6h-7.6zM308.5 602.8h7.6v7.6h-7.6zM315.5 602.8h7.6v7.6h-7.6zM322.5 602.8h7.6v7.6h-7.6zM343.5 602.8h7.6v7.6h-7.6zM364.5 602.8h7.6v7.6h-7.6zM371.5 602.8h7.6v7.6h-7.6zM378.5 602.8h7.6v7.6h-7.6zM98.5 609.8h7.6v7.6h-7.6zM105.5 609.8h7.6v7.6h-7.6zM119.5 609.8h7.6v7.6h-7.6zM126.5 609.8h7.6v7.6h-7.6zM140.5 609.8h7.6v7.6h-7.6zM154.5 609.8h7.6v7.6h-7.6zM175.5 609.8h7.6v7.6h-7.6zM182.5 609.8h7.6v7.6h-7.6zM196.5 609.8h7.6v7.6h-7.6zM203.5 609.8h7.6v7.6h-7.6zM210.5 609.8h7.6v7.6h-7.6zM217.5 609.8h7.6v7.6h-7.6zM224.5 609.8h7.6v7.6h-7.6zM238.5 609.8h7.6v7.6h-7.6zM245.5 609.8h7.6v7.6h-7.6zM252.5 609.8h7.6v7.6h-7.6zM259.5 609.8h7.6v7.6h-7.6zM287.5 609.8h7.6v7.6h-7.6zM294.5 609.8h7.6v7.6h-7.6zM301.5 609.8h7.6v7.6h-7.6zM308.5 609.8h7.6v7.6h-7.6zM322.5 609.8h7.6v7.6h-7.6zM329.5 609.8h7.6v7.6h-7.6zM336.5 609.8h7.6v7.6h-7.6zM343.5 609.8h7.6v7.6h-7.6zM357.5 609.8h7.6v7.6h-7.6zM77.5 616.8h7.6v7.6h-7.6zM84.5 616.8h7.6v7.6h-7.6zM91.5 616.8h7.6v7.6h-7.6zM105.5 616.8h7.6v7.6h-7.6zM126.5 616.8h7.6v7.6h-7.6zM133.5 616.8h7.6v7.6h-7.6zM147.5 616.8h7.6v7.6h-7.6zM161.5 616.8h7.6v7.6h-7.6zM168.5 616.8h7.6v7.6h-7.6zM182.5 616.8h7.6v7.6h-7.6zM196.5 616.8h7.6v7.6h-7.6zM203.5 616.8h7.6v7.6h-7.6zM210.5 616.8h7.6v7.6h-7.6zM217.5 616.8h7.6v7.6h-7.6zM231.5 616.8h7.6v7.6h-7.6zM245.5 616.8h7.6v7.6h-7.6zM252.5 616.8h7.6v7.6h-7.6zM287.5 616.8h7.6v7.6h-7.6zM294.5 616.8h7.6v7.6h-7.6zM322.5 616.8h7.6v7.6h-7.6zM343.5 616.8h7.6v7.6h-7.6zM350.5 616.8h7.6v7.6h-7.6zM357.5 616.8h7.6v7.6h-7.6zM77.5 623.8h7.6v7.6h-7.6zM84.5 623.8h7.6v7.6h-7.6zM91.5 623.8h7.6v7.6h-7.6zM98.5 623.8h7.6v7.6h-7.6zM105.5 623.8h7.6v7.6h-7.6zM112.5 623.8h7.6v7.6h-7.6zM119.5 623.8h7.6v7.6h-7.6zM126.5 623.8h7.6v7.6h-7.6zM140.5 623.8h7.6v7.6h-7.6zM147.5 623.8h7.6v7.6h-7.6zM154.5 623.8h7.6v7.6h-7.6zM161.5 623.8h7.6v7.6h-7.6zM182.5 623.8h7.6v7.6h-7.6zM189.5 623.8h7.6v7.6h-7.6zM196.5 623.8h7.6v7.6h-7.6zM203.5 623.8h7.6v7.6h-7.6zM210.5 623.8h7.6v7.6h-7.6zM217.5 623.8h7.6v7.6h-7.6zM238.5 623.8h7.6v7.6h-7.6zM245.5 623.8h7.6v7.6h-7.6zM252.5 623.8h7.6v7.6h-7.6zM259.5 623.8h7.6v7.6h-7.6zM266.5 623.8h7.6v7.6h-7.6zM273.5 623.8h7.6v7.6h-7.6zM280.5 623.8h7.6v7.6h-7.6zM287.5 623.8h7.6v7.6h-7.6zM294.5 623.8h7.6v7.6h-7.6zM301.5 623.8h7.6v7.6h-7.6zM315.5 623.8h7.6v7.6h-7.6zM322.5 623.8h7.6v7.6h-7.6zM329.5 623.8h7.6v7.6h-7.6zM336.5 623.8h7.6v7.6h-7.6zM343.5 623.8h7.6v7.6h-7.6zM357.5 623.8h7.6v7.6h-7.6zM77.5 630.8h7.6v7.6h-7.6zM84.5 630.8h7.6v7.6h-7.6zM91.5 630.8h7.6v7.6h-7.6zM98.5 630.8h7.6v7.6h-7.6zM105.5 630.8h7.6v7.6h-7.6zM112.5 630.8h7.6v7.6h-7.6zM126.5 630.8h7.6v7.6h-7.6zM133.5 630.8h7.6v7.6h-7.6zM147.5 630.8h7.6v7.6h-7.6zM154.5 630.8h7.6v7.6h-7.6zM182.5 630.8h7.6v7.6h-7.6zM189.5 630.8h7.6v7.6h-7.6zM196.5 630.8h7.6v7.6h-7.6zM203.5 630.8h7.6v7.6h-7.6zM210.5 630.8h7.6v7.6h-7.6zM217.5 630.8h7.6v7.6h-7.6zM238.5 630.8h7.6v7.6h-7.6zM245.5 630.8h7.6v7.6h-7.6zM259.5 630.8h7.6v7.6h-7.6zM266.5 630.8h7.6v7.6h-7.6zM280.5 630.8h7.6v7.6h-7.6zM287.5 630.8h7.6v7.6h-7.6zM294.5 630.8h7.6v7.6h-7.6zM301.5 630.8h7.6v7.6h-7.6zM315.5 630.8h7.6v7.6h-7.6zM322.5 630.8h7.6v7.6h-7.6zM336.5 630.8h7.6v7.6h-7.6zM343.5 630.8h7.6v7.6h-7.6zM350.5 630.8h7.6v7.6h-7.6zM357.5 630.8h7.6v7.6h-7.6zM364.5 630.8h7.6v7.6h-7.6zM371.5 630.8h7.6v7.6h-7.6zM378.5 630.8h7.6v7.6h-7.6zM77.5 637.8h7.6v7.6h-7.6zM84.5 637.8h7.6v7.6h-7.6zM91.5 637.8h7.6v7.6h-7.6zM98.5 637.8h7.6v7.6h-7.6zM105.5 637.8h7.6v7.6h-7.6zM112.5 637.8h7.6v7.6h-7.6zM119.5 637.8h7.6v7.6h-7.6zM126.5 637.8h7.6v7.6h-7.6zM140.5 637.8h7.6v7.6h-7.6zM147.5 637.8h7.6v7.6h-7.6zM154.5 637.8h7.6v7.6h-7.6zM161.5 637.8h7.6v7.6h-7.6zM175.5 637.8h7.6v7.6h-7.6zM182.5 637.8h7.6v7.6h-7.6zM189.5 637.8h7.6v7.6h-7.6zM196.5 637.8h7.6v7.6h-7.6zM203.5 637.8h7.6v7.6h-7.6zM210.5 637.8h7.6v7.6h-7.6zM217.5 637.8h7.6v7.6h-7.6zM231.5 637.8h7.6v7.6h-7.6zM259.5 637.8h7.6v7.6h-7.6zM273.5 637.8h7.6v7.6h-7.6zM280.5 637.8h7.6v7.6h-7.6zM287.5 637.8h7.6v7.6h-7.6zM301.5 637.8h7.6v7.6h-7.6zM308.5 637.8h7.6v7.6h-7.6zM315.5 637.8h7.6v7.6h-7.6zM336.5 637.8h7.6v7.6h-7.6zM343.5 637.8h7.6v7.6h-7.6zM357.5 637.8h7.6v7.6h-7.6zM364.5 637.8h7.6v7.6h-7.6zM371.5 637.8h7.6v7.6h-7.6zM378.5 637.8h7.6v7.6h-7.6zM77.5 644.8h7.6v7.6h-7.6zM84.5 644.8h7.6v7.6h-7.6zM91.5 644.8h7.6v7.6h-7.6zM98.5 644.8h7.6v7.6h-7.6zM105.5 644.8h7.6v7.6h-7.6zM112.5 644.8h7.6v7.6h-7.6zM119.5 644.8h7.6v7.6h-7.6zM126.5 644.8h7.6v7.6h-7.6zM140.5 644.8h7.6v7.6h-7.6zM147.5 644.8h7.6v7.6h-7.6zM154.5 644.8h7.6v7.6h-7.6zM161.5 644.8h7.6v7.6h-7.6zM175.5 644.8h7.6v7.6h-7.6zM182.5 644.8h7.6v7.6h-7.6zM189.5 644.8h7.6v7.6h-7.6zM196.5 644.8h7.6v7.6h-7.6zM203.5 644.8h7.6v7.6h-7.6zM210.5 644.8h7.6v7.6h-7.6zM217.5 644.8h7.6v7.6h-7.6zM231.5 644.8h7.6v7.6h-7.6zM259.5 644.8h7.6v7.6h-7.6zM273.5 644.8h7.6v7.6h-7.6zM280.5 644.8h7.6v7.6h-7.6zM287.5 644.8h7.6v7.6h-7.6zM301.5 644.8h7.6v7.6h-7.6zM308.5 644.8h7.6v7.6h-7.6zM315.5 644.8h7.6v7.6h-7.6zM336.5 644.8h7.6v7.6h-7.6zM343.5 644.8h7.6v7.6h-7.6zM357.5 644.8h7.6v7.6h-7.6zM364.5 644.8h7.6v7.6h-7.6zM371.5 644.8h7.6v7.6h-7.6zM378.5 644.8h7.6v7.6h-7.6zM77.5 651.8h7.6v7.6h-7.6zM84.5 651.8h7.6v7.6h-7.6zM91.5 651.8h7.6v7.6h-7.6zM98.5 651.8h7.6v7.6h-7.6zM105.5 651.8h7.6v7.6h-7.6zM112.5 651.8h7.6v7.6h-7.6zM119.5 651.8h7.6v7.6h-7.6zM126.5 651.8h7.6v7.6h-7.6zM140.5 651.8h7.6v7.6h-7.6zM147.5 651.8h7.6v7.6h-7.6zM154.5 651.8h7.6v7.6h-7.6zM161.5 651.8h7.6v7.6h-7.6zM175.5 651.8h7.6v7.6h-7.6zM182.5 651.8h7.6v7.6h-7.6zM189.5 651.8h7.6v7.6h-7.6zM196.5 651.8h7.6v7.6h-7.6zM203.5 651.8h7.6v7.6h-7.6zM210.5 651.8h7.6v7.6h-7.6zM217.5 651.8h7.6v7.6h-7.6zM231.5 651.8h7.6v7.6h-7.6zM259.5 651.8h7.6v7.6h-7.6zM273.5 651.8h7.6v7.6h-7.6zM280.5 651.8h7.6v7.6h-7.6zM287.5 651.8h7.6v7.6h-7.6zM301.5 651.8h7.6v7.6h-7.6zM308.5 651.8h7.6v7.6h-7.6zM315.5 651.8h7.6v7.6h-7.6zM336.5 651.8h7.6v7.6h-7.6zM343.5 651.8h7.6v7.6h-7.6zM357.5 651.8h7.6v7.6h-7.6zM364.5 651.8h7.6v7.6h-7.6zM371.5 651.8h7.6v7.6h-7.6zM378.5 651.8h7.6v7.6h-7.6z"/><path fill="rgb(80,80,80)" d="M77.5 350.8h7.6v7.6h-7.6zM84.5 350.8h7.6v7.6h-7.6zM91.5 350.8h7.6v7.6h-7.6zM98.5 350.8h7.6v7.6h-7.6zM105.5 350.8h7.6v7.6h-7.6zM112.5 350.8h7.6v7.6h-7.6zM133.5 350.8h7.6v7.6h-7.6zM154.5 350.8h7.6v7.6h-7.6zM182.5 350.8h7.6v7.6h-7.6zM224.5 350.8h7.6v7.6h-7.6zM231.5 350.8h7.6v7.6h-7.6zM245.5 350.8h7.6v7.6h-7.6zM252.5 350.8h7.6v7.6h-7.6zM259.5 350.8h7.6v7.6h-7.6zM266.5 350.8h7.6v7.6h-7.6zM273.5 350.8h7.6v7.6h-7.6zM294.5 350.8h7.6v7.6h-7.6zM301.5 350.8h7.6v7.6h-7.6zM343.5 350.8h7.6v7.6h-7.6zM77.5 357.8h7.6v7.6h-7.6zM84.5 357.8h7.6v7.6h-7.6zM91.5 357.8h7.6v7.6h-7.6zM98.5 357.8h7.6v7.6h-7.6zM105.5 357.8h7.6v7.6h-7.6zM112.5 357.8h7.6v7.6h-7.6zM133.5 357.8h7.6v7.6h-7.6zM154.5 357.8h7.6v7.6h-7.6zM182.5 357.8h7.6v7.6h-7.6zM224.5 357.8h7.6v7.6h-7.6zM231.5 357.8h7.6v7.6h-7.6zM245.5 357.8h7.6v7.6h-7.6zM252.5 357.8h7.6v7.6h-7.6zM259.5 357.8h7.6v7.6h-7.6zM266.5 357.8h7.6v7.6h-7.6zM273.5 357.8h7.6v7.6h-7.6zM294.5 357.8h7.6v7.6h-7.6zM301.5 357.8h7.6v7.6h-7.6zM343.5 357.8h7.6v7.6h-7.6zM77.5 364.8h7.6v7.6h-7.6zM84.5 364.8h7.6v7.6h-7.6zM91.5 364.8h7.6v7.6h-7.6zM98.5 364.8h7.6v7.6h-7.6zM105.5 364.8h7.6v7.6h-7.6zM112.5 364.8h7.6v7.6h-7.6zM133.5 364.8h7.6v7.6h-7.6zM154.5 364.8h7.6v7.6h-7.6zM182.5 364.8h7.6v7.6h-7.6zM224.5 364.8h7.6v7.6h-7.6zM231.5 364.8h7.6v7.6h-7.6zM245.5 364.8h7.6v7.6h-7.6zM252.5 364.8h7.6v7.6h-7.6zM259.5 364.8h7.6v7.6h-7.6zM266.5 364.8h7.6v7.6h-7.6zM273.5 364.8h7.6v7.6h-7.6zM294.5 364.8h7.6v7.6h-7.6zM301.5 364.8h7.6v7.6h-7.6zM343.5 364.8h7.6v7.6h-7.6zM77.5 371.8h7.6v7.6h-7.6zM84.5 371.8h7.6v7.6h-7.6zM91.5 371.8h7.6v7.6h-7.6zM105.5 371.8h7.6v7.6h-7.6zM112.5 371.8h7.6v7.6h-7.6zM140.5 371.8h7.6v7.6h-7.6zM154.5 371.8h7.6v7.6h-7.6zM182.5 371.8h7.6v7.6h-7.6zM217.5 371.8h7.6v7.6h-7.6zM224.5 371.8h7.6v7.6h-7.6zM238.5 371.8h7.6v7.6h-7.6zM245.5 371.8h7.6v7.6h-7.6zM252.5 371.8h7.6v7.6h-7.6zM259.5 371.8h7.6v7.6h-7.6zM266.5 371.8h7.6v7.6h-7.6zM280.5 371.8h7.6v7.6h-7.6zM301.5 371.8h7.6v7.6h-7.6zM77.5 378.8h7.6v7.6h-7.6zM84.5 378.8h7.6v7.6h-7.6zM91.5 378.8h7.6v7.6h-7.6zM105.5 378.8h7.6v7.6h-7.6zM217.5 378.8h7.6v7.6h-7.6zM238.5 378.8h7.6v7.6h-7.6zM259.5 378.8h7.6v7.6h-7.6zM273.5 378.8h7.6v7.6h-7.6zM287.5 378.8h7.6v7.6h-7.6zM301.5 378.8h7.6v7.6h-7.6zM357.5 378.8h7.6v7.6h-7.6zM105.5 385.8h7.6v7.6h-7.6zM161.5 385.8h7.6v7.6h-7.6zM217.5 385.8h7.6v7.6h-7.6zM224.5 385.8h7.6v7.6h-7.6zM259.5 385.8h7.6v7.6h-7.6zM287.5 385.8h7.6v7.6h-7.6zM301.5 385.8h7.6v7.6h-7.6zM112.5 392.8h7.6v7.6h-7.6zM119.5 392.8h7.6v7.6h-7.6zM126.5 392.8h7.6v7.6h-7.6zM147.5 392.8h7.6v7.6h-7.6zM154.5 392.8h7.6v7.6h-7.6zM161.5 392.8h7.6v7.6h-7.6zM168.5 392.8h7.6v7.6h-7.6zM175.5 392.8h7.6v7.6h-7.6zM189.5 392.8h7.6v7.6h-7.6zM203.5 392.8h7.6v7.6h-7.6zM217.5 392.8h7.6v7.6h-7.6zM224.5 392.8h7.6v7.6h-7.6zM231.5 392.8h7.6v7.6h-7.6zM238.5 392.8h7.6v7.6h-7.6zM245.5 392.8h7.6v7.6h-7.6zM273.5 392.8h7.6v7.6h-7.6zM280.5 392.8h7.6v7.6h-7.6zM294.5 392.8h7.6v7.6h-7.6zM301.5 392.8h7.6v7.6h-7.6zM77.5 399.8h7.6v7.6h-7.6zM84.5 399.8h7.6v7.6h-7.6zM91.5 399.8h7.6v7.6h-7.6zM133.5 399.8h7.6v7.6h-7.6zM140.5 399.8h7.6v7.6h-7.6zM147.5 399.8h7.6v7.6h-7.6zM154.5 399.8h7.6v7.6h-7.6zM196.5 399.8h7.6v7.6h-7.6zM203.5 399.8h7.6v7.6h-7.6zM210.5 399.8h7.6v7.6h-7.6zM224.5 399.8h7.6v7.6h-7.6zM238.5 399.8h7.6v7.6h-7.6zM273.5 399.8h7.6v7.6h-7.6zM77.5 406.8h7.6v7.6h-7.6zM84.5 406.8h7.6v7.6h-7.6zM91.5 406.8h7.6v7.6h-7.6zM168.5 406.8h7.6v7.6h-7.6zM196.5 406.8h7.6v7.6h-7.6zM238.5 406.8h7.6v7.6h-7.6zM266.5 406.8h7.6v7.6h-7.6zM273.5 406.8h7.6v7.6h-7.6zM77.5 413.8h7.6v7.6h-7.6zM84.5 413.8h7.6v7.6h-7.6zM91.5 413.8h7.6v7.6h-7.6zM98.5 413.8h7.6v7.6h-7.6zM119.5 413.8h7.6v7.6h-7.6zM196.5 413.8h7.6v7.6h-7.6zM259.5 413.8h7.6v7.6h-7.6zM266.5 413.8h7.6v7.6h-7.6zM98.5 420.8h7.6v7.6h-7.6zM140.5 420.8h7.6v7.6h-7.6zM154.5 420.8h7.6v7.6h-7.6zM168.5 420.8h7.6v7.6h-7.6zM196.5 420.8h7.6v7.6h-7.6zM203.5 420.8h7.6v7.6h-7.6zM238.5 420.8h7.6v7.6h-7.6zM245.5 420.8h7.6v7.6h-7.6zM252.5 420.8h7.6v7.6h-7.6zM259.5 420.8h7.6v7.6h-7.6zM266.5 420.8h7.6v7.6h-7.6zM287.5 420.8h7.6v7.6h-7.6zM301.5 420.8h7.6v7.6h-7.6zM308.5 420.8h7.6v7.6h-7.6zM140.5 427.8h7.6v7.6h-7.6zM196.5 427.8h7.6v7.6h-7.6zM203.5 427.8h7.6v7.6h-7.6zM217.5 427.8h7.6v7.6h-7.6zM231.5 427.8h7.6v7.6h-7.6zM252.5 427.8h7.6v7.6h-7.6zM259.5 427.8h7.6v7.6h-7.6zM273.5 427.8h7.6v7.6h-7.6zM280.5 427.8h7.6v7.6h-7.6zM308.5 427.8h7.6v7.6h-7.6zM322.5 427.8h7.6v7.6h-7.6zM105.5 434.8h7.6v7.6h-7.6zM119.5 434.8h7.6v7.6h-7.6zM168.5 434.8h7.6v7.6h-7.6zM189.5 434.8h7.6v7.6h-7.6zM196.5 434.8h7.6v7.6h-7.6zM245.5 434.8h7.6v7.6h-7.6zM287.5 434.8h7.6v7.6h-7.6zM301.5 434.8h7.6v7.6h-7.6zM315.5 434.8h7.6v7.6h-7.6zM350.5 434.8h7.6v7.6h-7.6zM105.5 441.8h7.6v7.6h-7.6zM119.5 441.8h7.6v7.6h-7.6zM133.5 441.8h7.6v7.6h-7.6zM154.5 441.8h7.6v7.6h-7.6zM168.5 441.8h7.6v7.6h-7.6zM175.5 441.8h7.6v7.6h-7.6zM217.5 441.8h7.6v7.6h-7.6zM259.5 441.8h7.6v7.6h-7.6zM266.5 441.8h7.6v7.6h-7.6zM273.5 441.8h7.6v7.6h-7.6zM294.5 441.8h7.6v7.6h-7.6zM301.5 441.8h7.6v7.6h-7.6zM329.5 441.8h7.6v7.6h-7.6zM350.5 441.8h7.6v7.6h-7.6zM357.5 441.8h7.6v7.6h-7.6zM126.5 448.8h7.6v7.6h-7.6zM154.5 448.8h7.6v7.6h-7.6zM161.5 448.8h7.6v7.6h-7.6zM203.5 448.8h7.6v7.6h-7.6zM245.5 448.8h7.6v7.6h-7.6zM252.5 448.8h7.6v7.6h-7.6zM266.5 448.8h7.6v7.6h-7.6zM273.5 448.8h7.6v7.6h-7.6zM280.5 448.8h7.6v7.6h-7.6zM336.5 448.8h7.6v7.6h-7.6zM343.5 448.8h7.6v7.6h-7.6zM350.5 448.8h7.6v7.6h-7.6zM133.5 455.8h7.6v7.6h-7.6zM168.5 455.8h7.6v7.6h-7.6zM182.5 455.8h7.6v7.6h-7.6zM245.5 455.8h7.6v7.6h-7.6zM350.5 455.8h7.6v7.6h-7.6zM175.5 462.8h7.6v7.6h-7.6zM196.5 462.8h7.6v7.6h-7.6zM252.5 462.8h7.6v7.6h-7.6zM343.5 462.8h7.6v7.6h-7.6zM357.5 462.8h7.6v7.6h-7.6zM112.5 469.8h7.6v7.6h-7.6zM210.5 469.8h7.6v7.6h-7.6zM336.5 469.8h7.6v7.6h-7.6zM343.5 469.8h7.6v7.6h-7.6zM77.5 476.8h7.6v7.6h-7.6zM84.5 476.8h7.6v7.6h-7.6zM91.5 476.8h7.6v7.6h-7.6zM147.5 476.8h7.6v7.6h-7.6zM154.5 476.8h7.6v7.6h-7.6zM168.5 476.8h7.6v7.6h-7.6zM175.5 476.8h7.6v7.6h-7.6zM203.5 476.8h7.6v7.6h-7.6zM210.5 476.8h7.6v7.6h-7.6zM245.5 476.8h7.6v7.6h-7.6zM252.5 476.8h7.6v7.6h-7.6zM280.5 476.8h7.6v7.6h-7.6zM287.5 476.8h7.6v7.6h-7.6zM112.5 483.8h7.6v7.6h-7.6zM161.5 483.8h7.6v7.6h-7.6zM168.5 483.8h7.6v7.6h-7.6zM175.5 483.8h7.6v7.6h-7.6zM287.5 483.8h7.6v7.6h-7.6zM294.5 483.8h7.6v7.6h-7.6zM336.5 483.8h7.6v7.6h-7.6zM105.5 490.8h7.6v7.6h-7.6zM147.5 490.8h7.6v7.6h-7.6zM196.5 490.8h7.6v7.6h-7.6zM203.5 490.8h7.6v7.6h-7.6zM259.5 490.8h7.6v7.6h-7.6zM266.5 490.8h7.6v7.6h-7.6zM287.5 490.8h7.6v7.6h-7.6zM364.5 490.8h7.6v7.6h-7.6zM371.5 490.8h7.6v7.6h-7.6zM378.5 490.8h7.6v7.6h-7.6zM105.5 497.8h7.6v7.6h-7.6zM112.5 497.8h7.6v7.6h-7.6zM147.5 497.8h7.6v7.6h-7.6zM189.5 497.8h7.6v7.6h-7.6zM196.5 497.8h7.6v7.6h-7.6zM203.5 497.8h7.6v7.6h-7.6zM210.5 497.8h7.6v7.6h-7.6zM238.5 497.8h7.6v7.6h-7.6zM245.5 497.8h7.6v7.6h-7.6zM252.5 497.8h7.6v7.6h-7.6zM259.5 497.8h7.6v7.6h-7.6zM266.5 497.8h7.6v7.6h-7.6zM350.5 497.8h7.6v7.6h-7.6zM98.5 504.8h7.6v7.6h-7.6zM105.5 504.8h7.6v7.6h-7.6zM119.5 504.8h7.6v7.6h-7.6zM147.5 504.8h7.6v7.6h-7.6zM217.5 504.8h7.6v7.6h-7.6zM238.5 504.8h7.6v7.6h-7.6zM245.5 504.8h7.6v7.6h-7.6zM252.5 504.8h7.6v7.6h-7.6zM301.5 504.8h7.6v7.6h-7.6zM364.5 504.8h7.6v7.6h-7.6zM371.5 504.8h7.6v7.6h-7.6zM378.5 504.8h7.6v7.6h-7.6zM98.5 511.8h7.6v7.6h-7.6zM105.5 511.8h7.6v7.6h-7.6zM112.5 511.8h7.6v7.6h-7.6zM182.5 511.8h7.6v7.6h-7.6zM189.5 511.8h7.6v7.6h-7.6zM217.5 511.8h7.6v7.6h-7.6zM280.5 511.8h7.6v7.6h-7.6zM301.5 511.8h7.6v7.6h-7.6zM364.5 511.8h7.6v7.6h-7.6zM371.5 511.8h7.6v7.6h-7.6zM378.5 511.8h7.6v7.6h-7.6zM105.5 518.8h7.6v7.6h-7.6zM147.5 518.8h7.6v7.6h-7.6zM182.5 518.8h7.6v7.6h-7.6zM189.5 518.8h7.6v7.6h-7.6zM245.5 518.8h7.6v7.6h-7.6zM287.5 518.8h7.6v7.6h-7.6zM357.5 518.8h7.6v7.6h-7.6zM140.5 525.8h7.6v7.6h-7.6zM175.5 525.8h7.6v7.6h-7.6zM182.5 525.8h7.6v7.6h-7.6zM189.5 525.8h7.6v7.6h-7.6zM196.5 525.8h7.6v7.6h-7.6zM231.5 525.8h7.6v7.6h-7.6zM287.5 525.8h7.6v7.6h-7.6zM119.5 532.8h7.6v7.6h-7.6zM126.5 532.8h7.6v7.6h-7.6zM133.5 532.8h7.6v7.6h-7.6zM182.5 532.8h7.6v7.6h-7.6zM224.5 532.8h7.6v7.6h-7.6zM231.5 532.8h7.6v7.6h-7.6zM245.5 532.8h7.6v7.6h-7.6zM252.5 532.8h7.6v7.6h-7.6zM315.5 532.8h7.6v7.6h-7.6zM343.5 532.8h7.6v7.6h-7.6zM350.5 532.8h7.6v7.6h-7.6zM77.5 539.8h7.6v7.6h-7.6zM84.5 539.8h7.6v7.6h-7.6zM91.5 539.8h7.6v7.6h-7.6zM154.5 539.8h7.6v7.6h-7.6zM203.5 539.8h7.6v7.6h-7.6zM217.5 539.8h7.6v7.6h-7.6zM224.5 539.8h7.6v7.6h-7.6zM245.5 539.8h7.6v7.6h-7.6zM252.5 539.8h7.6v7.6h-7.6zM308.5 539.8h7.6v7.6h-7.6zM315.5 539.8h7.6v7.6h-7.6zM126.5 546.8h7.6v7.6h-7.6zM154.5 546.8h7.6v7.6h-7.6zM161.5 546.8h7.6v7.6h-7.6zM168.5 546.8h7.6v7.6h-7.6zM231.5 546.8h7.6v7.6h-7.6zM238.5 546.8h7.6v7.6h-7.6zM245.5 546.8h7.6v7.6h-7.6zM252.5 546.8h7.6v7.6h-7.6zM259.5 546.8h7.6v7.6h-7.6zM287.5 546.8h7.6v7.6h-7.6zM308.5 546.8h7.6v7.6h-7.6zM364.5 546.8h7.6v7.6h-7.6zM371.5 546.8h7.6v7.6h-7.6zM378.5 546.8h7.6v7.6h-7.6zM77.5 553.8h7.6v7.6h-7.6zM84.5 553.8h7.6v7.6h-7.6zM91.5 553.8h7.6v7.6h-7.6zM119.5 553.8h7.6v7.6h-7.6zM154.5 553.8h7.6v7.6h-7.6zM161.5 553.8h7.6v7.6h-7.6zM175.5 553.8h7.6v7.6h-7.6zM182.5 553.8h7.6v7.6h-7.6zM245.5 553.8h7.6v7.6h-7.6zM343.5 553.8h7.6v7.6h-7.6zM350.5 553.8h7.6v7.6h-7.6zM77.5 560.8h7.6v7.6h-7.6zM84.5 560.8h7.6v7.6h-7.6zM91.5 560.8h7.6v7.6h-7.6zM175.5 560.8h7.6v7.6h-7.6zM196.5 560.8h7.6v7.6h-7.6zM231.5 560.8h7.6v7.6h-7.6zM273.5 560.8h7.6v7.6h-7.6zM280.5 560.8h7.6v7.6h-7.6zM189.5 567.8h7.6v7.6h-7.6zM196.5 567.8h7.6v7.6h-7.6zM210.5 567.8h7.6v7.6h-7.6zM217.5 567.8h7.6v7.6h-7.6zM238.5 567.8h7.6v7.6h-7.6zM266.5 567.8h7.6v7.6h-7.6zM280.5 567.8h7.6v7.6h-7.6zM357.5 567.8h7.6v7.6h-7.6zM105.5 574.8h7.6v7.6h-7.6zM112.5 574.8h7.6v7.6h-7.6zM140.5 574.8h7.6v7.6h-7.6zM161.5 574.8h7.6v7.6h-7.6zM168.5 574.8h7.6v7.6h-7.6zM203.5 574.8h7.6v7.6h-7.6zM210.5 574.8h7.6v7.6h-7.6zM140.5 581.8h7.6v7.6h-7.6zM168.5 581.8h7.6v7.6h-7.6zM266.5 588.8h7.6v7.6h-7.6zM357.5 588.8h7.6v7.6h-7.6zM154.5 595.8h7.6v7.6h-7.6zM189.5 595.8h7.6v7.6h-7.6zM196.5 595.8h7.6v7.6h-7.6zM203.5 595.8h7.6v7.6h-7.6zM294.5 595.8h7.6v7.6h-7.6zM329.5 595.8h7.6v7.6h-7.6zM119.5 602.8h7.6v7.6h-7.6zM196.5 602.8h7.6v7.6h-7.6zM287.5 602.8h7.6v7.6h-7.6zM294.5 602.8h7.6v7.6h-7.6zM301.5 602.8h7.6v7.6h-7.6zM350.5 602.8h7.6v7.6h-7.6zM357.5 602.8h7.6v7.6h-7.6zM112.5 609.8h7.6v7.6h-7.6zM133.5 609.8h7.6v7.6h-7.6zM161.5 609.8h7.6v7.6h-7.6zM168.5 609.8h7.6v7.6h-7.6zM273.5 609.8h7.6v7.6h-7.6zM280.5 609.8h7.6v7.6h-7.6zM315.5 609.8h7.6v7.6h-7.6zM350.5 609.8h7.6v7.6h-7.6zM364.5 609.8h7.6v7.6h-7.6zM371.5 609.8h7.6v7.6h-7.6zM378.5 609.8h7.6v7.6h-7.6zM98.5 616.8h7.6v7.6h-7.6zM175.5 616.8h7.6v7.6h-7.6zM273.5 616.8h7.6v7.6h-7.6zM280.5 616.8h7.6v7.6h-7.6zM315.5 616.8h7.6v7.6h-7.6zM364.5 616.8h7.6v7.6h-7.6zM371.5 616.8h7.6v7.6h-7.6zM378.5 616.8h7.6v7.6h-7.6zM133.5 623.8h7.6v7.6h-7.6zM364.5 623.8h7.6v7.6h-7.6zM371.5 623.8h7.6v7.6h-7.6zM378.5 623.8h7.6v7.6h-7.6zM119.5 630.8h7.6v7.6h-7.6zM161.5 630.8h7.6v7.6h-7.6zM168.5 630.8h7.6v7.6h-7.6zM175.5 630.8h7.6v7.6h-7.6zM252.5 630.8h7.6v7.6h-7.6zM273.5 630.8h7.6v7.6h-7.6zM168.5 637.8h7.6v7.6h-7.6zM238.5 637.8h7.6v7.6h-7.6zM245.5 637.8h7.6v7.6h-7.6zM252.5 637.8h7.6v7.6h-7.6zM266.5 637.8h7.6v7.6h-7.6zM350.5 637.8h7.6v7.6h-7.6zM168.5 644.8h7.6v7.6h-7.6zM238.5 644.8h7.6v7.6h-7.6zM245.5 644.8h7.6v7.6h-7.6zM252.5 644.8h7.6v7.6h-7.6zM266.5 644.8h7.6v7.6h-7.6zM350.5 644.8h7.6v7.6h-7.6zM168.5 651.8h7.6v7.6h-7.6zM238.5 651.8h7.6v7.6h-7.6zM245.5 651.8h7.6v7.6h-7.6zM252.5 651.8h7.6v7.6h-7.6zM266.5 651.8h7.6v7.6h-7.6zM350.5 651.8h7.6v7.6h-7.6z"/><path fill="rgb(115,115,115)" d="M140.5 350.8h7.6v7.6h-7.6zM238.5 350.8h7.6v7.6h-7.6zM140.5 357.8h7.6v7.6h-7.6zM238.5 357.8h7.6v7.6h-7.6zM140.5 364.8h7.6v7.6h-7.6zM238.5 364.8h7.6v7.6h-7.6zM161.5 371.8h7.6v7.6h-7.6zM273.5 371.8h7.6v7.6h-7.6zM308.5 371.8h7.6v7.6h-7.6zM315.5 371.8h7.6v7.6h-7.6zM112.5 378.8h7.6v7.6h-7.6zM119.5 378.8h7.6v7.6h-7.6zM126.5 378.8h7.6v7.6h-7.6zM133.5 378.8h7.6v7.6h-7.6zM315.5 378.8h7.6v7.6h-7.6zM112.5 385.8h7.6v7.6h-7.6zM119.5 385.8h7.6v7.6h-7.6zM126.5 385.8h7.6v7.6h-7.6zM133.5 385.8h7.6v7.6h-7.6zM182.5 385.8h7.6v7.6h-7.6zM294.5 385.8h7.6v7.6h-7.6zM182.5 392.8h7.6v7.6h-7.6zM231.5 399.8h7.6v7.6h-7.6zM280.5 413.8h7.6v7.6h-7.6zM280.5 420.8h7.6v7.6h-7.6zM315.5 427.8h7.6v7.6h-7.6zM112.5 434.8h7.6v7.6h-7.6zM217.5 434.8h7.6v7.6h-7.6zM238.5 434.8h7.6v7.6h-7.6zM336.5 434.8h7.6v7.6h-7.6zM112.5 441.8h7.6v7.6h-7.6zM126.5 441.8h7.6v7.6h-7.6zM161.5 441.8h7.6v7.6h-7.6zM364.5 448.8h7.6v7.6h-7.6zM371.5 448.8h7.6v7.6h-7.6zM378.5 448.8h7.6v7.6h-7.6zM175.5 455.8h7.6v7.6h-7.6zM364.5 455.8h7.6v7.6h-7.6zM371.5 455.8h7.6v7.6h-7.6zM378.5 455.8h7.6v7.6h-7.6zM112.5 490.8h7.6v7.6h-7.6zM119.5 497.8h7.6v7.6h-7.6zM224.5 504.8h7.6v7.6h-7.6zM203.5 518.8h7.6v7.6h-7.6zM77.5 532.8h7.6v7.6h-7.6zM84.5 532.8h7.6v7.6h-7.6zM91.5 532.8h7.6v7.6h-7.6zM161.5 532.8h7.6v7.6h-7.6zM175.5 532.8h7.6v7.6h-7.6zM189.5 532.8h7.6v7.6h-7.6zM203.5 532.8h7.6v7.6h-7.6zM161.5 539.8h7.6v7.6h-7.6zM175.5 539.8h7.6v7.6h-7.6zM238.5 553.8h7.6v7.6h-7.6zM238.5 560.8h7.6v7.6h-7.6zM273.5 567.8h7.6v7.6h-7.6zM98.5 588.8h7.6v7.6h-7.6zM336.5 595.8h7.6v7.6h-7.6zM133.5 602.8h7.6v7.6h-7.6zM329.5 602.8h7.6v7.6h-7.6zM336.5 602.8h7.6v7.6h-7.6zM168.5 623.8h7.6v7.6h-7.6zM175.5 623.8h7.6v7.6h-7.6z"/><path fill="rgb(150,150,150)" d="M161.5 350.8h7.6v7.6h-7.6zM161.5 357.8h7.6v7.6h-7.6zM161.5 364.8h7.6v7.6h-7.6zM308.5 378.8h7.6v7.6h-7.6zM343.5 434.8h7.6v7.6h-7.6zM133.5 518.8h7.6v7.6h-7.6zM140.5 518.8h7.6v7.6h-7.6zM196.5 532.8h7.6v7.6h-7.6z"/><path fill="rgb(182,182,182)" d="M273.5 413.8h7.6v7.6h-7.6zM273.5 420.8h7.6v7.6h-7.6zM245.5 427.8h7.6v7.6h-7.6zM336.5 441.8h7.6v7.6h-7.6zM343.5 441.8h7.6v7.6h-7.6zM357.5 448.8h7.6v7.6h-7.6zM357.5 455.8h7.6v7.6h-7.6zM203.5 525.8h7.6v7.6h-7.6zM168.5 532.8h7.6v7.6h-7.6zM168.5 539.8h7.6v7.6h-7.6z"/><path fill="rgb(210,210,210)" d="M238.5 427.8h7.6v7.6h-7.6z"/></g>
<defs><radialGradient id="bl0" cx="0.5" cy="0.5" r="0.5"><stop offset="0.000" stop-color="#fff" stop-opacity="1.000"/><stop offset="0.071" stop-color="#fff" stop-opacity="1.000"/><stop offset="0.143" stop-color="#fff" stop-opacity="1.000"/><stop offset="0.214" stop-color="#fff" stop-opacity="1.000"/><stop offset="0.286" stop-color="#fff" stop-opacity="1.000"/><stop offset="0.357" stop-color="#fff" stop-opacity="1.000"/><stop offset="0.429" stop-color="#fff" stop-opacity="1.000"/><stop offset="0.500" stop-color="#fff" stop-opacity="1.000"/><stop offset="0.571" stop-color="#fff" stop-opacity="1.000"/><stop offset="0.643" stop-color="#fff" stop-opacity="1.000"/><stop offset="0.714" stop-color="#fff" stop-opacity="0.962"/><stop offset="0.786" stop-color="#fff" stop-opacity="0.554"/><stop offset="0.857" stop-color="#fff" stop-opacity="0.165"/><stop offset="0.929" stop-color="#fff" stop-opacity="0.025"/><stop offset="1.000" stop-color="#fff" stop-opacity="0.002"/></radialGradient><radialGradient id="bl1" cx="0.5" cy="0.5" r="0.5"><stop offset="0.000" stop-color="#fff" stop-opacity="1.000"/><stop offset="0.071" stop-color="#fff" stop-opacity="1.000"/><stop offset="0.143" stop-color="#fff" stop-opacity="1.000"/><stop offset="0.214" stop-color="#fff" stop-opacity="1.000"/><stop offset="0.286" stop-color="#fff" stop-opacity="1.000"/><stop offset="0.357" stop-color="#fff" stop-opacity="0.952"/><stop offset="0.429" stop-color="#fff" stop-opacity="0.837"/><stop offset="0.500" stop-color="#fff" stop-opacity="0.679"/><stop offset="0.571" stop-color="#fff" stop-opacity="0.509"/><stop offset="0.643" stop-color="#fff" stop-opacity="0.352"/><stop offset="0.714" stop-color="#fff" stop-opacity="0.224"/><stop offset="0.786" stop-color="#fff" stop-opacity="0.132"/><stop offset="0.857" stop-color="#fff" stop-opacity="0.072"/><stop offset="0.929" stop-color="#fff" stop-opacity="0.036"/><stop offset="1.000" stop-color="#fff" stop-opacity="0.017"/></radialGradient><radialGradient id="bl2" cx="0.5" cy="0.5" r="0.5"><stop offset="0.000" stop-color="#fff" stop-opacity="1.000"/><stop offset="0.071" stop-color="#fff" stop-opacity="1.000"/><stop offset="0.143" stop-color="#fff" stop-opacity="1.000"/><stop offset="0.214" stop-color="#fff" stop-opacity="1.000"/><stop offset="0.286" stop-color="#fff" stop-opacity="1.000"/><stop offset="0.357" stop-color="#fff" stop-opacity="1.000"/><stop offset="0.429" stop-color="#fff" stop-opacity="1.000"/><stop offset="0.500" stop-color="#fff" stop-opacity="1.000"/><stop offset="0.571" stop-color="#fff" stop-opacity="1.000"/><stop offset="0.643" stop-color="#fff" stop-opacity="0.982"/><stop offset="0.714" stop-color="#fff" stop-opacity="0.694"/><stop offset="0.786" stop-color="#fff" stop-opacity="0.314"/><stop offset="0.857" stop-color="#fff" stop-opacity="0.091"/><stop offset="0.929" stop-color="#fff" stop-opacity="0.017"/><stop offset="1.000" stop-color="#fff" stop-opacity="0.002"/></radialGradient><radialGradient id="bl3" cx="0.5" cy="0.5" r="0.5"><stop offset="0.000" stop-color="#fff" stop-opacity="1.000"/><stop offset="0.071" stop-color="#fff" stop-opacity="1.000"/><stop offset="0.143" stop-color="#fff" stop-opacity="1.000"/><stop offset="0.214" stop-color="#fff" stop-opacity="1.000"/><stop offset="0.286" stop-color="#fff" stop-opacity="1.000"/><stop offset="0.357" stop-color="#fff" stop-opacity="1.000"/><stop offset="0.429" stop-color="#fff" stop-opacity="1.000"/><stop offset="0.500" stop-color="#fff" stop-opacity="1.000"/><stop offset="0.571" stop-color="#fff" stop-opacity="1.000"/><stop offset="0.643" stop-color="#fff" stop-opacity="0.942"/><stop offset="0.714" stop-color="#fff" stop-opacity="0.618"/><stop offset="0.786" stop-color="#fff" stop-opacity="0.271"/><stop offset="0.857" stop-color="#fff" stop-opacity="0.080"/><stop offset="0.929" stop-color="#fff" stop-opacity="0.016"/><stop offset="1.000" stop-color="#fff" stop-opacity="0.002"/></radialGradient><radialGradient id="bl4" cx="0.5" cy="0.5" r="0.5"><stop offset="0.000" stop-color="#fff" stop-opacity="1.000"/><stop offset="0.071" stop-color="#fff" stop-opacity="1.000"/><stop offset="0.143" stop-color="#fff" stop-opacity="1.000"/><stop offset="0.214" stop-color="#fff" stop-opacity="1.000"/><stop offset="0.286" stop-color="#fff" stop-opacity="1.000"/><stop offset="0.357" stop-color="#fff" stop-opacity="1.000"/><stop offset="0.429" stop-color="#fff" stop-opacity="1.000"/><stop offset="0.500" stop-color="#fff" stop-opacity="1.000"/><stop offset="0.571" stop-color="#fff" stop-opacity="1.000"/><stop offset="0.643" stop-color="#fff" stop-opacity="0.961"/><stop offset="0.714" stop-color="#fff" stop-opacity="0.649"/><stop offset="0.786" stop-color="#fff" stop-opacity="0.288"/><stop offset="0.857" stop-color="#fff" stop-opacity="0.084"/><stop offset="0.929" stop-color="#fff" stop-opacity="0.016"/><stop offset="1.000" stop-color="#fff" stop-opacity="0.002"/></radialGradient><radialGradient id="bl5" cx="0.5" cy="0.5" r="0.5"><stop offset="0.000" stop-color="#fff" stop-opacity="1.000"/><stop offset="0.071" stop-color="#fff" stop-opacity="1.000"/><stop offset="0.143" stop-color="#fff" stop-opacity="1.000"/><stop offset="0.214" stop-color="#fff" stop-opacity="1.000"/><stop offset="0.286" stop-color="#fff" stop-opacity="1.000"/><stop offset="0.357" stop-color="#fff" stop-opacity="1.000"/><stop offset="0.429" stop-color="#fff" stop-opacity="1.000"/><stop offset="0.500" stop-color="#fff" stop-opacity="1.000"/><stop offset="0.571" stop-color="#fff" stop-opacity="0.895"/><stop offset="0.643" stop-color="#fff" stop-opacity="0.641"/><stop offset="0.714" stop-color="#fff" stop-opacity="0.368"/><stop offset="0.786" stop-color="#fff" stop-opacity="0.169"/><stop offset="0.857" stop-color="#fff" stop-opacity="0.062"/><stop offset="0.929" stop-color="#fff" stop-opacity="0.018"/><stop offset="1.000" stop-color="#fff" stop-opacity="0.004"/></radialGradient><radialGradient id="bl6" cx="0.5" cy="0.5" r="0.5"><stop offset="0.000" stop-color="#fff" stop-opacity="1.000"/><stop offset="0.071" stop-color="#fff" stop-opacity="1.000"/><stop offset="0.143" stop-color="#fff" stop-opacity="1.000"/><stop offset="0.214" stop-color="#fff" stop-opacity="1.000"/><stop offset="0.286" stop-color="#fff" stop-opacity="1.000"/><stop offset="0.357" stop-color="#fff" stop-opacity="1.000"/><stop offset="0.429" stop-color="#fff" stop-opacity="1.000"/><stop offset="0.500" stop-color="#fff" stop-opacity="1.000"/><stop offset="0.571" stop-color="#fff" stop-opacity="1.000"/><stop offset="0.643" stop-color="#fff" stop-opacity="0.942"/><stop offset="0.714" stop-color="#fff" stop-opacity="0.618"/><stop offset="0.786" stop-color="#fff" stop-opacity="0.271"/><stop offset="0.857" stop-color="#fff" stop-opacity="0.080"/><stop offset="0.929" stop-color="#fff" stop-opacity="0.016"/><stop offset="1.000" stop-color="#fff" stop-opacity="0.002"/></radialGradient><radialGradient id="bl7" cx="0.5" cy="0.5" r="0.5"><stop offset="0.000" stop-color="#fff" stop-opacity="1.000"/><stop offset="0.071" stop-color="#fff" stop-opacity="1.000"/><stop offset="0.143" stop-color="#fff" stop-opacity="1.000"/><stop offset="0.214" stop-color="#fff" stop-opacity="1.000"/><stop offset="0.286" stop-color="#fff" stop-opacity="1.000"/><stop offset="0.357" stop-color="#fff" stop-opacity="1.000"/><stop offset="0.429" stop-color="#fff" stop-opacity="1.000"/><stop offset="0.500" stop-color="#fff" stop-opacity="1.000"/><stop offset="0.571" stop-color="#fff" stop-opacity="1.000"/><stop offset="0.643" stop-color="#fff" stop-opacity="0.837"/><stop offset="0.714" stop-color="#fff" stop-opacity="0.497"/><stop offset="0.786" stop-color="#fff" stop-opacity="0.210"/><stop offset="0.857" stop-color="#fff" stop-opacity="0.063"/><stop offset="0.929" stop-color="#fff" stop-opacity="0.013"/><stop offset="1.000" stop-color="#fff" stop-opacity="0.002"/></radialGradient><radialGradient id="bl8" cx="0.5" cy="0.5" r="0.5"><stop offset="0.000" stop-color="#fff" stop-opacity="1.000"/><stop offset="0.071" stop-color="#fff" stop-opacity="1.000"/><stop offset="0.143" stop-color="#fff" stop-opacity="1.000"/><stop offset="0.214" stop-color="#fff" stop-opacity="1.000"/><stop offset="0.286" stop-color="#fff" stop-opacity="1.000"/><stop offset="0.357" stop-color="#fff" stop-opacity="1.000"/><stop offset="0.429" stop-color="#fff" stop-opacity="0.956"/><stop offset="0.500" stop-color="#fff" stop-opacity="0.837"/><stop offset="0.571" stop-color="#fff" stop-opacity="0.671"/><stop offset="0.643" stop-color="#fff" stop-opacity="0.493"/><stop offset="0.714" stop-color="#fff" stop-opacity="0.331"/><stop offset="0.786" stop-color="#fff" stop-opacity="0.204"/><stop offset="0.857" stop-color="#fff" stop-opacity="0.115"/><stop offset="0.929" stop-color="#fff" stop-opacity="0.060"/><stop offset="1.000" stop-color="#fff" stop-opacity="0.028"/></radialGradient><radialGradient id="bl9" cx="0.5" cy="0.5" r="0.5"><stop offset="0.000" stop-color="#fff" stop-opacity="1.000"/><stop offset="0.071" stop-color="#fff" stop-opacity="1.000"/><stop offset="0.143" stop-color="#fff" stop-opacity="1.000"/><stop offset="0.214" stop-color="#fff" stop-opacity="1.000"/><stop offset="0.286" stop-color="#fff" stop-opacity="0.993"/><stop offset="0.357" stop-color="#fff" stop-opacity="0.931"/><stop offset="0.429" stop-color="#fff" stop-opacity="0.816"/><stop offset="0.500" stop-color="#fff" stop-opacity="0.669"/><stop offset="0.571" stop-color="#fff" stop-opacity="0.513"/><stop offset="0.643" stop-color="#fff" stop-opacity="0.368"/><stop offset="0.714" stop-color="#fff" stop-opacity="0.247"/><stop offset="0.786" stop-color="#fff" stop-opacity="0.155"/><stop offset="0.857" stop-color="#fff" stop-opacity="0.091"/><stop offset="0.929" stop-color="#fff" stop-opacity="0.050"/><stop offset="1.000" stop-color="#fff" stop-opacity="0.026"/></radialGradient><radialGradient id="bl10" cx="0.5" cy="0.5" r="0.5"><stop offset="0.000" stop-color="#fff" stop-opacity="1.000"/><stop offset="0.071" stop-color="#fff" stop-opacity="1.000"/><stop offset="0.143" stop-color="#fff" stop-opacity="1.000"/><stop offset="0.214" stop-color="#fff" stop-opacity="1.000"/><stop offset="0.286" stop-color="#fff" stop-opacity="1.000"/><stop offset="0.357" stop-color="#fff" stop-opacity="1.000"/><stop offset="0.429" stop-color="#fff" stop-opacity="1.000"/><stop offset="0.500" stop-color="#fff" stop-opacity="1.000"/><stop offset="0.571" stop-color="#fff" stop-opacity="1.000"/><stop offset="0.643" stop-color="#fff" stop-opacity="1.000"/><stop offset="0.714" stop-color="#fff" stop-opacity="0.962"/><stop offset="0.786" stop-color="#fff" stop-opacity="0.554"/><stop offset="0.857" stop-color="#fff" stop-opacity="0.165"/><stop offset="0.929" stop-color="#fff" stop-opacity="0.025"/><stop offset="1.000" stop-color="#fff" stop-opacity="0.002"/></radialGradient><radialGradient id="bl11" cx="0.5" cy="0.5" r="0.5"><stop offset="0.000" stop-color="#fff" stop-opacity="1.000"/><stop offset="0.071" stop-color="#fff" stop-opacity="1.000"/><stop offset="0.143" stop-color="#fff" stop-opacity="1.000"/><stop offset="0.214" stop-color="#fff" stop-opacity="1.000"/><stop offset="0.286" stop-color="#fff" stop-opacity="1.000"/><stop offset="0.357" stop-color="#fff" stop-opacity="1.000"/><stop offset="0.429" stop-color="#fff" stop-opacity="1.000"/><stop offset="0.500" stop-color="#fff" stop-opacity="1.000"/><stop offset="0.571" stop-color="#fff" stop-opacity="1.000"/><stop offset="0.643" stop-color="#fff" stop-opacity="0.837"/><stop offset="0.714" stop-color="#fff" stop-opacity="0.497"/><stop offset="0.786" stop-color="#fff" stop-opacity="0.210"/><stop offset="0.857" stop-color="#fff" stop-opacity="0.063"/><stop offset="0.929" stop-color="#fff" stop-opacity="0.013"/><stop offset="1.000" stop-color="#fff" stop-opacity="0.002"/></radialGradient><radialGradient id="bl12" cx="0.5" cy="0.5" r="0.5"><stop offset="0.000" stop-color="#fff" stop-opacity="1.000"/><stop offset="0.071" stop-color="#fff" stop-opacity="1.000"/><stop offset="0.143" stop-color="#fff" stop-opacity="1.000"/><stop offset="0.214" stop-color="#fff" stop-opacity="1.000"/><stop offset="0.286" stop-color="#fff" stop-opacity="1.000"/><stop offset="0.357" stop-color="#fff" stop-opacity="0.974"/><stop offset="0.429" stop-color="#fff" stop-opacity="0.873"/><stop offset="0.500" stop-color="#fff" stop-opacity="0.718"/><stop offset="0.571" stop-color="#fff" stop-opacity="0.542"/><stop offset="0.643" stop-color="#fff" stop-opacity="0.376"/><stop offset="0.714" stop-color="#fff" stop-opacity="0.239"/><stop offset="0.786" stop-color="#fff" stop-opacity="0.140"/><stop offset="0.857" stop-color="#fff" stop-opacity="0.075"/><stop offset="0.929" stop-color="#fff" stop-opacity="0.037"/><stop offset="1.000" stop-color="#fff" stop-opacity="0.017"/></radialGradient><radialGradient id="bl13" cx="0.5" cy="0.5" r="0.5"><stop offset="0.000" stop-color="#fff" stop-opacity="1.000"/><stop offset="0.071" stop-color="#fff" stop-opacity="1.000"/><stop offset="0.143" stop-color="#fff" stop-opacity="1.000"/><stop offset="0.214" stop-color="#fff" stop-opacity="1.000"/><stop offset="0.286" stop-color="#fff" stop-opacity="1.000"/><stop offset="0.357" stop-color="#fff" stop-opacity="1.000"/><stop offset="0.429" stop-color="#fff" stop-opacity="0.967"/><stop offset="0.500" stop-color="#fff" stop-opacity="0.833"/><stop offset="0.571" stop-color="#fff" stop-opacity="0.636"/><stop offset="0.643" stop-color="#fff" stop-opacity="0.432"/><stop offset="0.714" stop-color="#fff" stop-opacity="0.260"/><stop offset="0.786" stop-color="#fff" stop-opacity="0.139"/><stop offset="0.857" stop-color="#fff" stop-opacity="0.066"/><stop offset="0.929" stop-color="#fff" stop-opacity="0.028"/><stop offset="1.000" stop-color="#fff" stop-opacity="0.010"/></radialGradient></defs><circle cx="212.6" cy="364" r="12.9" fill="url(#bl0)"/><circle cx="133.1" cy="385.6" r="9" fill="url(#bl1)"/><circle cx="338.6" cy="393.6" r="10.6" fill="url(#bl2)"/><circle cx="359.6" cy="421.5" r="10.1" fill="url(#bl3)"/><circle cx="288.5" cy="470.6" r="10.3" fill="url(#bl4)"/><circle cx="292.7" cy="488.8" r="9" fill="url(#bl5)"/><circle cx="333.4" cy="484.2" r="10.1" fill="url(#bl6)"/><circle cx="371.5" cy="512.9" r="9.3" fill="url(#bl7)"/><circle cx="187.5" cy="523" r="13.2" fill="url(#bl8)"/><circle cx="198.5" cy="527.5" r="10.7" fill="url(#bl9)"/><circle cx="254.4" cy="601.5" r="12.9" fill="url(#bl10)"/><circle cx="211.8" cy="609.7" r="9.3" fill="url(#bl11)"/><circle cx="336.6" cy="604" r="9.3" fill="url(#bl12)"/><circle cx="175.4" cy="634.1" r="8.8" fill="url(#bl13)"/></g>
<rect x="91.5" y="364.8" width="280" height="280.7" stroke="#000" stroke-width="1.11" fill="none"/>
<path d="M228.33 501.33L236.67 509.67M228.33 509.67L236.67 501.33" stroke="#ff0000" stroke-width="1.39" fill="none"/>
<path d="M183.43 519.23L191.77 527.57M183.43 527.57L191.77 519.23" stroke="#0000ff" stroke-width="1.39" fill="none"/>
<g transform="translate(231.4,355.7)"><text x="-28.81" y="0" font-size="17.67" textLength="58.18" lengthAdjust="spacingAndGlyphs" fill="#000">GLEAM</text></g>
<line x1="86.64" y1="386" x2="91.5" y2="386" stroke="#000" stroke-width="1.11" />
<g transform="translate(80.7,389.9)"><text x="-49.86" y="0" font-size="14.72" textLength="50.68" lengthAdjust="spacingAndGlyphs" fill="#000">-50°45'</text></g>
<line x1="86.64" y1="456.2" x2="91.5" y2="456.2" stroke="#000" stroke-width="1.11" />
<g transform="translate(80.7,459.8)"><text x="-49.86" y="0" font-size="14.72" textLength="50.68" lengthAdjust="spacingAndGlyphs" fill="#000">-51°00'</text></g>
<line x1="86.64" y1="526.2" x2="91.5" y2="526.2" stroke="#000" stroke-width="1.11" />
<g transform="translate(80.7,529.8)"><text x="-19.83" y="0" font-size="14.72" textLength="20.64" lengthAdjust="spacingAndGlyphs" fill="#000">15'</text></g>
<line x1="86.64" y1="596.2" x2="91.5" y2="596.2" stroke="#000" stroke-width="1.11" />
<g transform="translate(80.7,599.8)"><text x="-19.72" y="0" font-size="14.72" textLength="20.52" lengthAdjust="spacingAndGlyphs" fill="#000">30'</text></g>
<g transform="translate(21.2,505) rotate(-90)"><text x="-13.55" y="0" font-size="14.72" textLength="26.29" lengthAdjust="spacingAndGlyphs" fill="#000">Dec</text></g>
<line x1="162.1" y1="364.8" x2="162.1" y2="359.94" stroke="#000" stroke-width="1.11" />
<line x1="251.4" y1="364.8" x2="251.4" y2="359.94" stroke="#000" stroke-width="1.11" />
<line x1="340.6" y1="364.8" x2="340.6" y2="359.94" stroke="#000" stroke-width="1.11" />
<line x1="164.6" y1="645.5" x2="164.6" y2="650.36" stroke="#000" stroke-width="1.11" />
<line x1="250.5" y1="645.5" x2="250.5" y2="650.36" stroke="#000" stroke-width="1.11" />
<line x1="337.4" y1="645.5" x2="337.4" y2="650.36" stroke="#000" stroke-width="1.11" />
<line x1="371.5" y1="386.1" x2="376.36" y2="386.1" stroke="#000" stroke-width="1.11" />
<line x1="371.5" y1="456.5" x2="376.36" y2="456.5" stroke="#000" stroke-width="1.11" />
<line x1="371.5" y1="526" x2="376.36" y2="526" stroke="#000" stroke-width="1.11" />
<line x1="371.5" y1="595.9" x2="376.36" y2="595.9" stroke="#000" stroke-width="1.11" />
<g transform="translate(138.8,665.2)"><text x="-0.76" y="0" font-size="14.72" textLength="16.86" lengthAdjust="spacingAndGlyphs" fill="#000">22</text></g>
<g transform="translate(155.1,660.2)"><text x="-0.74" y="0" font-size="10.31" textLength="5.89" lengthAdjust="spacingAndGlyphs" fill="#000">h</text></g>
<g transform="translate(162.6,665.2)"><text x="-0.57" y="0" font-size="14.72" textLength="16.95" lengthAdjust="spacingAndGlyphs" fill="#000">38</text></g>
<g transform="translate(180.3,660.2)"><text x="-0.75" y="0" font-size="10.31" textLength="9.26" lengthAdjust="spacingAndGlyphs" fill="#000">m</text></g>
<g transform="translate(237.5,665.2)"><text x="-0.57" y="0" font-size="14.72" textLength="17.02" lengthAdjust="spacingAndGlyphs" fill="#000">36</text></g>
<g transform="translate(254.2,660.2)"><text x="-0.75" y="0" font-size="10.31" textLength="9.26" lengthAdjust="spacingAndGlyphs" fill="#000">m</text></g>
<g transform="translate(324.6,665.2)"><text x="-0.57" y="0" font-size="14.72" textLength="16.89" lengthAdjust="spacingAndGlyphs" fill="#000">34</text></g>
<g transform="translate(341.3,660.2)"><text x="-0.75" y="0" font-size="10.31" textLength="9.26" lengthAdjust="spacingAndGlyphs" fill="#000">m</text></g>
<g transform="translate(232,686.2)"><text x="-9.64" y="0" font-size="14.72" textLength="18.22" lengthAdjust="spacingAndGlyphs" fill="#000">RA</text></g>
<rect x="380.5" y="365.5" width="9" height="280" fill="url(#gray)"/>
<rect x="380.5" y="365.5" width="9" height="280" stroke="#000" stroke-width="1.11" fill="none"/>
<line x1="389.5" y1="615.76" x2="394.36" y2="615.76" stroke="#000" stroke-width="1.11" />
<g transform="translate(400.7,620.96)"><text x="-0.84" y="0" font-size="14.72" textLength="28.43" lengthAdjust="spacingAndGlyphs" fill="#000">−10</text></g>
<line x1="389.5" y1="582.7" x2="394.36" y2="582.7" stroke="#000" stroke-width="1.11" />
<g transform="translate(400.7,587.9)"><text x="-0.59" y="0" font-size="14.72" textLength="8.17" lengthAdjust="spacingAndGlyphs" fill="#000">0</text></g>
<line x1="389.5" y1="549.64" x2="394.36" y2="549.64" stroke="#000" stroke-width="1.11" />
<g transform="translate(400.7,554.84)"><text x="-1.15" y="0" font-size="14.72" textLength="17" lengthAdjust="spacingAndGlyphs" fill="#000">10</text></g>
<line x1="389.5" y1="516.58" x2="394.36" y2="516.58" stroke="#000" stroke-width="1.11" />
<g transform="translate(400.7,521.78)"><text x="-0.77" y="0" font-size="14.72" textLength="17.15" lengthAdjust="spacingAndGlyphs" fill="#000">20</text></g>
<line x1="389.5" y1="483.52" x2="394.36" y2="483.52" stroke="#000" stroke-width="1.11" />
<g transform="translate(400.7,488.72)"><text x="-0.57" y="0" font-size="14.72" textLength="16.9" lengthAdjust="spacingAndGlyphs" fill="#000">30</text></g>
<line x1="389.5" y1="450.46" x2="394.36" y2="450.46" stroke="#000" stroke-width="1.11" />
<g transform="translate(400.7,455.66)"><text x="-0.35" y="0" font-size="14.72" textLength="17.07" lengthAdjust="spacingAndGlyphs" fill="#000">40</text></g>
<line x1="389.5" y1="417.4" x2="394.36" y2="417.4" stroke="#000" stroke-width="1.11" />
<g transform="translate(400.7,422.6)"><text x="-0.61" y="0" font-size="14.72" textLength="16.91" lengthAdjust="spacingAndGlyphs" fill="#000">50</text></g>
<line x1="389.5" y1="384.34" x2="394.36" y2="384.34" stroke="#000" stroke-width="1.11" />
<g transform="translate(400.7,389.54)"><text x="-0.77" y="0" font-size="14.72" textLength="17.19" lengthAdjust="spacingAndGlyphs" fill="#000">60</text></g>
<g transform="translate(442.5,505.6) rotate(-90)"><text x="-79.59" y="0" font-size="14.72" textLength="158.85" lengthAdjust="spacingAndGlyphs" fill="#000">Brightness (mJy/beam)</text></g>
<rect x="471" y="379" width="5.9" height="266.5" fill="#ffb3b3"/>
<rect x="476.9" y="513.6" width="7.6" height="131.9" fill="#ffb3b3"/>
<rect x="484.5" y="592" width="6.5" height="53.5" fill="#ffb3b3"/>
<rect x="491" y="621" width="5.8" height="24.5" fill="#ffb3b3"/>
<rect x="496.8" y="632.2" width="7.1" height="13.3" fill="#ffb3b3"/>
<rect x="503.9" y="637.1" width="7.1" height="8.4" fill="#ffb3b3"/>
<rect x="511" y="640.2" width="6.8" height="5.3" fill="#ffb3b3"/>
<rect x="517.8" y="641.2" width="7.1" height="4.3" fill="#ffb3b3"/>
<rect x="524.9" y="642.2" width="7.1" height="3.3" fill="#ffb3b3"/>
<rect x="532" y="643" width="7" height="2.5" fill="#ffb3b3"/>
<path d="M471 645.2L471 621L472.2 632L473.3 638L474.8 641.5L477 643.3L481 644.4L485 645.2Z" fill="rgb(179,125,202)"/>
<line x1="471.5" y1="365.5" x2="471.5" y2="645.5" stroke="#000" stroke-width="2.08" stroke-dasharray="7.7 3.33"/>
<line x1="485" y1="365.5" x2="485" y2="645.5" stroke="#000" stroke-width="2.08" />
<rect x="520" y="641" width="12" height="4.5" fill="#ffb3b3"/>
<rect x="532" y="641.9" width="13.4" height="3.6" fill="#ffb3b3"/>
<rect x="545.4" y="643.9" width="82.4" height="1.6" fill="#ffb3b3"/>
<rect x="634.8" y="643.9" width="41.2" height="1.6" fill="#ffb3b3"/>
<rect x="689" y="643.9" width="7" height="1.6" fill="#ffb3b3"/>
<rect x="737" y="643.9" width="7" height="1.6" fill="#ffb3b3"/>
<rect x="806" y="643.9" width="7" height="1.6" fill="#ffb3b3"/>
<rect x="470.5" y="365.5" width="360" height="280" stroke="#000" stroke-width="1.11" fill="none"/>
<line x1="470.5" y1="645.5" x2="470.5" y2="650.36" stroke="#000" stroke-width="1.11" />
<g transform="translate(470.5,665.8)"><text x="-4.09" y="0" font-size="14.72" textLength="8.17" lengthAdjust="spacingAndGlyphs" fill="#000">0</text></g>
<line x1="515.6" y1="645.5" x2="515.6" y2="650.36" stroke="#000" stroke-width="1.11" />
<g transform="translate(515.6,665.8)"><text x="-13.19" y="0" font-size="14.72" textLength="25.82" lengthAdjust="spacingAndGlyphs" fill="#000">100</text></g>
<line x1="560.7" y1="645.5" x2="560.7" y2="650.36" stroke="#000" stroke-width="1.11" />
<g transform="translate(560.7,665.8)"><text x="-13.07" y="0" font-size="14.72" textLength="25.96" lengthAdjust="spacingAndGlyphs" fill="#000">200</text></g>
<line x1="605.8" y1="645.5" x2="605.8" y2="650.36" stroke="#000" stroke-width="1.11" />
<g transform="translate(605.8,665.8)"><text x="-12.85" y="0" font-size="14.72" textLength="25.72" lengthAdjust="spacingAndGlyphs" fill="#000">300</text></g>
<line x1="650.9" y1="645.5" x2="650.9" y2="650.36" stroke="#000" stroke-width="1.11" />
<g transform="translate(650.9,665.8)"><text x="-12.81" y="0" font-size="14.72" textLength="25.88" lengthAdjust="spacingAndGlyphs" fill="#000">400</text></g>
<line x1="696" y1="645.5" x2="696" y2="650.36" stroke="#000" stroke-width="1.11" />
<g transform="translate(696,665.8)"><text x="-12.87" y="0" font-size="14.72" textLength="25.72" lengthAdjust="spacingAndGlyphs" fill="#000">500</text></g>
<line x1="741.1" y1="645.5" x2="741.1" y2="650.36" stroke="#000" stroke-width="1.11" />
<g transform="translate(741.1,665.8)"><text x="-13.09" y="0" font-size="14.72" textLength="26" lengthAdjust="spacingAndGlyphs" fill="#000">600</text></g>
<line x1="786.2" y1="645.5" x2="786.2" y2="650.36" stroke="#000" stroke-width="1.11" />
<g transform="translate(786.2,665.8)"><text x="-13" y="0" font-size="14.72" textLength="25.81" lengthAdjust="spacingAndGlyphs" fill="#000">700</text></g>
<g transform="translate(649.9,685.2)"><text x="-138.47" y="0" font-size="14.72" textLength="276.19" lengthAdjust="spacingAndGlyphs" fill="#000">Normalised stdev or detection statistics</text></g>
<line x1="830.5" y1="645.4" x2="835.36" y2="645.4" stroke="#000" stroke-width="1.11" />
<g transform="translate(841,650.6)"><text x="-0.59" y="0" font-size="14.72" textLength="8.17" lengthAdjust="spacingAndGlyphs" fill="#000">0</text></g>
<line x1="830.5" y1="591.02" x2="835.36" y2="591.02" stroke="#000" stroke-width="1.11" />
<g transform="translate(841,596.22)"><text x="-0.78" y="0" font-size="14.72" textLength="34.84" lengthAdjust="spacingAndGlyphs" fill="#000">2000</text></g>
<line x1="830.5" y1="536.64" x2="835.36" y2="536.64" stroke="#000" stroke-width="1.11" />
<g transform="translate(841,541.84)"><text x="-0.35" y="0" font-size="14.72" textLength="34.76" lengthAdjust="spacingAndGlyphs" fill="#000">4000</text></g>
<line x1="830.5" y1="482.26" x2="835.36" y2="482.26" stroke="#000" stroke-width="1.11" />
<g transform="translate(841,487.46)"><text x="-0.78" y="0" font-size="14.72" textLength="34.88" lengthAdjust="spacingAndGlyphs" fill="#000">6000</text></g>
<line x1="830.5" y1="427.88" x2="835.36" y2="427.88" stroke="#000" stroke-width="1.11" />
<g transform="translate(841,433.08)"><text x="-0.66" y="0" font-size="14.72" textLength="34.79" lengthAdjust="spacingAndGlyphs" fill="#000">8000</text></g>
<line x1="830.5" y1="373.5" x2="835.36" y2="373.5" stroke="#000" stroke-width="1.11" />
<g transform="translate(841,378.7)"><text x="-1.17" y="0" font-size="14.72" textLength="43.51" lengthAdjust="spacingAndGlyphs" fill="#000">10000</text></g>
<g transform="translate(898.8,505.4) rotate(-90)"><text x="-66.74" y="0" font-size="14.72" textLength="132.75" lengthAdjust="spacingAndGlyphs" fill="#000">Number of Sources</text></g>
<rect x="618.4" y="370.1" width="206.1" height="66.5" rx="2.8" fill="#fff" fill-opacity="0.8" stroke="#d6d6d6" stroke-width="1.11"/>
<rect x="622.0" y="375.0" width="23.2" height="8.4" fill="#b3b3ff"/>
<rect x="622.0" y="389.6" width="23.2" height="8.4" fill="#ffb3b3"/>
<line x1="622" y1="410.1" x2="645.2" y2="410.1" stroke="#000" stroke-width="2.08" stroke-dasharray="7.7 3.33"/>
<line x1="621" y1="424.7" x2="646" y2="424.7" stroke="#000" stroke-width="2.08" />
<g transform="translate(653.4,383.4)"><text x="-1.01" y="0" font-size="11.78" textLength="110.08" lengthAdjust="spacingAndGlyphs" fill="#000">Known srcs residual</text></g>
<g transform="translate(653.4,397.8)"><text x="-1.04" y="0" font-size="11.78" textLength="165.69" lengthAdjust="spacingAndGlyphs" fill="#000">Known srcs detection statistic</text></g>
<g transform="translate(653.4,413.6)"><text x="-0.62" y="0" font-size="11.78" textLength="104.18" lengthAdjust="spacingAndGlyphs" fill="#000">Candidate residual</text></g>
<g transform="translate(653.4,428.4)"><text x="-0.64" y="0" font-size="11.78" textLength="159.77" lengthAdjust="spacingAndGlyphs" fill="#000">Candidate detection statistic</text></g>
</svg></body></html>
